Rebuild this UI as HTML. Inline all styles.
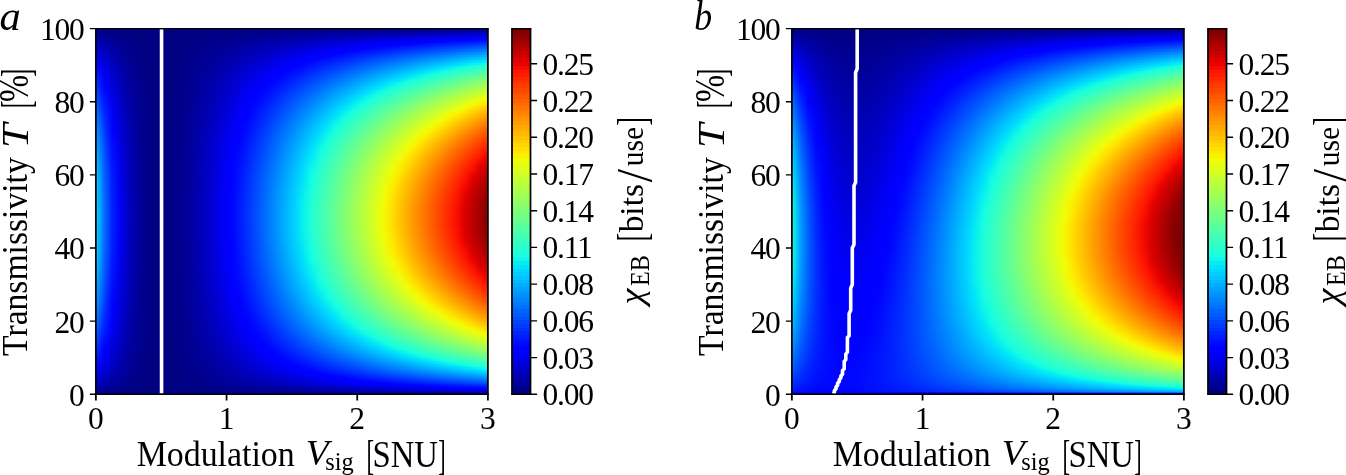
<!DOCTYPE html>
<html lang="en"><head><meta charset="utf-8"><title>Holevo information</title>
<style>
html,body{margin:0;padding:0;background:#fff}
#fig{position:relative;width:1346px;height:475px;overflow:hidden;background:#fff;font-family:"Liberation Serif",serif;color:#000}
.heat{position:absolute;top:29px;width:392px;height:365px;font-size:0;line-height:0}
.heat i{display:block;width:392px}
.ov{position:absolute;left:0;top:0}
.cb{position:absolute}
.t{position:absolute;white-space:nowrap;line-height:1}
.yl{width:63.6px;text-align:right;font-size:31.5px;letter-spacing:-1.2px;margin-top:-14.6px}
.xl{width:40px;margin-left:-20px;text-align:center;font-size:31.5px;top:403px}
.cl{font-size:31.5px;letter-spacing:-1.2px;margin-top:-15px}
.p{display:inline-block;width:0;height:0;overflow:visible;vertical-align:top;white-space:nowrap;line-height:1;transform-origin:0 0}
.p.it{font-style:italic}
.g{position:absolute;left:0;top:0;font-size:0;line-height:0;white-space:nowrap}

</style></head>
<body>
<div id="fig">
<div class="heat" style="left:96px"><i style="height:1px;background:linear-gradient(90deg,#000082,#000081,#000081,#000080,#000080,#000080,#000080,#000080,#000080,#000080,#000080,#000080,#000080,#000080,#000080,#000080,#000080,#000080,#000080,#000081,#000081,#000081,#000081,#000081,#000081,#000082,#000082,#000082,#000082,#000082,#000083,#000083,#000083,#000083,#000084,#000084,#000084,#000084,#000084,#000085,#000085,#000085,#000085,#000086,#000086,#000086,#000086,#000086,#000087,#000087)"></i><i style="height:1px;background:linear-gradient(90deg,#000086,#000084,#000083,#000081,#000081,#000080,#000080,#000080,#000080,#000080,#000080,#000080,#000080,#000080,#000081,#000081,#000081,#000082,#000082,#000083,#000083,#000084,#000084,#000085,#000085,#000086,#000087,#000087,#000088,#000088,#000089,#00008a,#00008a,#00008b,#00008c,#00008c,#00008d,#00008e,#00008e,#00008f,#000090,#000090,#000091,#000092,#000092,#000093,#000094,#000094,#000095,#000096)"></i><i style="height:1px;background:linear-gradient(90deg,#00008b,#000087,#000085,#000083,#000081,#000081,#000080,#000080,#000080,#000080,#000080,#000080,#000080,#000081,#000081,#000082,#000083,#000083,#000084,#000085,#000086,#000087,#000088,#000089,#000089,#00008a,#00008b,#00008c,#00008d,#00008e,#00008f,#000090,#000091,#000093,#000094,#000095,#000096,#000097,#000098,#000099,#00009a,#00009b,#00009c,#00009d,#00009f,#0000a0,#0000a1,#0000a2,#0000a3,#0000a4)"></i><i style="height:1px;background:linear-gradient(90deg,#00008f,#00008a,#000086,#000084,#000082,#000081,#000080,#000080,#000080,#000080,#000080,#000080,#000081,#000081,#000082,#000083,#000084,#000085,#000086,#000087,#000088,#00008a,#00008b,#00008c,#00008d,#00008f,#000090,#000091,#000093,#000094,#000096,#000097,#000099,#00009a,#00009c,#00009d,#00009f,#0000a0,#0000a2,#0000a3,#0000a5,#0000a6,#0000a8,#0000a9,#0000ab,#0000ac,#0000ae,#0000b0,#0000b1,#0000b3)"></i><i style="height:1px;background:linear-gradient(90deg,#000093,#00008d,#000088,#000085,#000083,#000081,#000080,#000080,#000080,#000080,#000080,#000080,#000081,#000082,#000083,#000084,#000085,#000087,#000088,#000089,#00008b,#00008c,#00008e,#000090,#000091,#000093,#000095,#000096,#000098,#00009a,#00009c,#00009e,#0000a0,#0000a1,#0000a3,#0000a5,#0000a7,#0000a9,#0000ab,#0000ad,#0000af,#0000b1,#0000b3,#0000b5,#0000b7,#0000b9,#0000bb,#0000bd,#0000bf,#0000c1)"></i><i style="height:1px;background:linear-gradient(90deg,#000098,#000090,#00008a,#000086,#000084,#000082,#000080,#000080,#000080,#000080,#000080,#000081,#000082,#000083,#000084,#000085,#000087,#000088,#00008a,#00008c,#00008d,#00008f,#000091,#000093,#000095,#000097,#000099,#00009c,#00009e,#0000a0,#0000a2,#0000a4,#0000a7,#0000a9,#0000ab,#0000ae,#0000b0,#0000b2,#0000b5,#0000b7,#0000b9,#0000bc,#0000be,#0000c1,#0000c3,#0000c5,#0000c8,#0000ca,#0000cd,#0000cf)"></i><i style="height:1px;background:linear-gradient(90deg,#00009c,#000093,#00008c,#000088,#000084,#000082,#000081,#000080,#000080,#000080,#000080,#000081,#000082,#000083,#000085,#000086,#000088,#00008a,#00008c,#00008e,#000090,#000092,#000094,#000097,#000099,#00009b,#00009e,#0000a0,#0000a3,#0000a6,#0000a8,#0000ab,#0000ae,#0000b0,#0000b3,#0000b6,#0000b8,#0000bb,#0000be,#0000c1,#0000c4,#0000c6,#0000c9,#0000cc,#0000cf,#0000d2,#0000d5,#0000d7,#0000da,#0000dd)"></i><i style="height:1px;background:linear-gradient(90deg,#0000a0,#000096,#00008e,#000089,#000085,#000082,#000081,#000080,#000080,#000080,#000080,#000081,#000082,#000084,#000085,#000087,#000089,#00008b,#00008e,#000090,#000092,#000095,#000097,#00009a,#00009d,#0000a0,#0000a3,#0000a5,#0000a8,#0000ab,#0000ae,#0000b1,#0000b4,#0000b8,#0000bb,#0000be,#0000c1,#0000c4,#0000c7,#0000ca,#0000ce,#0000d1,#0000d4,#0000d7,#0000db,#0000de,#0000e1,#0000e5,#0000e8,#0000eb)"></i><i style="height:1px;background:linear-gradient(90deg,#0000a5,#000099,#000090,#00008a,#000086,#000083,#000081,#000080,#000080,#000080,#000080,#000081,#000083,#000084,#000086,#000088,#00008a,#00008d,#00008f,#000092,#000095,#000098,#00009b,#00009e,#0000a1,#0000a4,#0000a7,#0000aa,#0000ae,#0000b1,#0000b4,#0000b8,#0000bb,#0000bf,#0000c2,#0000c6,#0000c9,#0000cd,#0000d1,#0000d4,#0000d8,#0000db,#0000df,#0000e3,#0000e6,#0000ea,#0000ee,#0000f1,#0000f5,#0000f9)"></i><i style="height:1px;background:linear-gradient(90deg,#0000a9,#00009c,#000092,#00008b,#000087,#000083,#000081,#000080,#000080,#000080,#000080,#000082,#000083,#000085,#000087,#000089,#00008c,#00008e,#000091,#000094,#000097,#00009a,#00009e,#0000a1,#0000a4,#0000a8,#0000ac,#0000af,#0000b3,#0000b7,#0000ba,#0000be,#0000c2,#0000c6,#0000ca,#0000ce,#0000d2,#0000d6,#0000da,#0000de,#0000e2,#0000e6,#0000ea,#0000ee,#0000f2,#0000f6,#0000fa,#0000fe,#0000ff,#0000ff)"></i><i style="height:1px;background:linear-gradient(90deg,#0000ad,#00009e,#000094,#00008d,#000087,#000084,#000081,#000080,#000080,#000080,#000080,#000082,#000083,#000085,#000088,#00008a,#00008d,#000090,#000093,#000096,#00009a,#00009d,#0000a1,#0000a4,#0000a8,#0000ac,#0000b0,#0000b4,#0000b8,#0000bc,#0000c0,#0000c5,#0000c9,#0000cd,#0000d1,#0000d6,#0000da,#0000de,#0000e3,#0000e7,#0000ec,#0000f0,#0000f4,#0000f9,#0000fd,#0000ff,#0000ff,#0000ff,#0000ff,#0003ff)"></i><i style="height:1px;background:linear-gradient(90deg,#0000b1,#0000a1,#000096,#00008e,#000088,#000084,#000081,#000080,#000080,#000080,#000081,#000082,#000084,#000086,#000088,#00008b,#00008e,#000091,#000095,#000098,#00009c,#0000a0,#0000a4,#0000a8,#0000ac,#0000b0,#0000b4,#0000b9,#0000bd,#0000c2,#0000c6,#0000cb,#0000cf,#0000d4,#0000d9,#0000dd,#0000e2,#0000e7,#0000ec,#0000f1,#0000f5,#0000fa,#0000ff,#0000ff,#0000ff,#0000ff,#0002ff,#0006ff,#000bff,#000fff)"></i><i style="height:2px;background:linear-gradient(90deg,#0000b7,#0000a6,#000099,#000090,#000089,#000085,#000082,#000080,#000080,#000080,#000081,#000082,#000084,#000087,#00008a,#00008d,#000090,#000094,#000097,#00009b,#0000a0,#0000a4,#0000a8,#0000ad,#0000b2,#0000b6,#0000bb,#0000c0,#0000c5,#0000ca,#0000cf,#0000d4,#0000d9,#0000df,#0000e4,#0000e9,#0000ee,#0000f4,#0000f9,#0000fe,#0000ff,#0000ff,#0000ff,#0003ff,#0008ff,#000dff,#0012ff,#0017ff,#001bff,#0020ff)"></i><i style="height:2px;background:linear-gradient(90deg,#0000bf,#0000ab,#00009c,#000092,#00008a,#000085,#000082,#000080,#000080,#000080,#000081,#000083,#000085,#000088,#00008b,#00008f,#000092,#000097,#00009b,#0000a0,#0000a4,#0000a9,#0000ae,#0000b4,#0000b9,#0000be,#0000c4,#0000c9,#0000cf,#0000d5,#0000db,#0000e0,#0000e6,#0000ec,#0000f2,#0000f8,#0000fe,#0000ff,#0000ff,#0000ff,#0006ff,#000bff,#0011ff,#0016ff,#001cff,#0021ff,#0027ff,#002cff,#0032ff,#0037ff)"></i><i style="height:2px;background:linear-gradient(90deg,#0000c7,#0000b1,#0000a0,#000094,#00008c,#000086,#000082,#000080,#000080,#000080,#000081,#000083,#000086,#000089,#00008c,#000090,#000095,#000099,#00009e,#0000a4,#0000a9,#0000af,#0000b4,#0000ba,#0000c0,#0000c6,#0000cc,#0000d3,#0000d9,#0000df,#0000e6,#0000ed,#0000f3,#0000fa,#0000ff,#0000ff,#0000ff,#0004ff,#000aff,#0010ff,#0016ff,#001cff,#0022ff,#0029ff,#002fff,#0035ff,#003bff,#0041ff,#0047ff,#004dff)"></i><i style="height:2px;background:linear-gradient(90deg,#0000cf,#0000b6,#0000a4,#000097,#00008d,#000087,#000083,#000080,#000080,#000080,#000081,#000083,#000086,#00008a,#00008e,#000092,#000097,#00009c,#0000a2,#0000a8,#0000ae,#0000b4,#0000ba,#0000c1,#0000c7,#0000ce,#0000d5,#0000dc,#0000e3,#0000ea,#0000f1,#0000f8,#0000ff,#0000ff,#0000ff,#0005ff,#000cff,#0012ff,#0019ff,#0020ff,#0026ff,#002dff,#0034ff,#003bff,#0041ff,#0048ff,#004fff,#0056ff,#005dff,#0063ff)"></i><i style="height:2px;background:linear-gradient(90deg,#0000d7,#0000bb,#0000a7,#000099,#00008f,#000088,#000083,#000080,#000080,#000080,#000081,#000084,#000087,#00008b,#00008f,#000094,#00009a,#00009f,#0000a5,#0000ac,#0000b2,#0000b9,#0000c0,#0000c7,#0000ce,#0000d6,#0000dd,#0000e5,#0000ed,#0000f4,#0000fc,#0000ff,#0000ff,#0003ff,#000bff,#0012ff,#0019ff,#0020ff,#0028ff,#002fff,#0036ff,#003eff,#0045ff,#004cff,#0054ff,#005bff,#0063ff,#006aff,#0071ff,#0079ff)"></i><i style="height:2px;background:linear-gradient(90deg,#0000df,#0000c1,#0000ab,#00009b,#000090,#000088,#000083,#000081,#000080,#000080,#000082,#000084,#000088,#00008c,#000091,#000096,#00009c,#0000a2,#0000a9,#0000af,#0000b7,#0000be,#0000c5,#0000cd,#0000d5,#0000dd,#0000e5,#0000ee,#0000f6,#0000ff,#0000ff,#0000ff,#0007ff,#000fff,#0017ff,#001eff,#0026ff,#002eff,#0036ff,#003eff,#0046ff,#004eff,#0056ff,#005eff,#0066ff,#006eff,#0076ff,#007eff,#0086ff,#008eff)"></i><i style="height:2px;background:linear-gradient(90deg,#0000e6,#0000c6,#0000ae,#00009d,#000091,#000089,#000084,#000081,#000080,#000080,#000082,#000085,#000088,#00008d,#000092,#000098,#00009e,#0000a5,#0000ac,#0000b3,#0000bb,#0000c3,#0000cb,#0000d3,#0000dc,#0000e5,#0000ed,#0000f6,#0000ff,#0000ff,#0001ff,#0009ff,#0012ff,#001aff,#0022ff,#002bff,#0033ff,#003cff,#0044ff,#004dff,#0055ff,#005eff,#0066ff,#006fff,#0078ff,#0080ff,#0089ff,#0091ff,#009aff,#00a3ff)"></i><i style="height:2px;background:linear-gradient(90deg,#0000ee,#0000cb,#0000b2,#00009f,#000093,#00008a,#000084,#000081,#000080,#000080,#000082,#000085,#000089,#00008e,#000093,#00009a,#0000a0,#0000a8,#0000af,#0000b7,#0000bf,#0000c8,#0000d1,#0000da,#0000e3,#0000ec,#0000f5,#0000ff,#0000ff,#0002ff,#000bff,#0013ff,#001cff,#0025ff,#002eff,#0037ff,#0040ff,#0049ff,#0052ff,#005bff,#0064ff,#006dff,#0077ff,#0080ff,#0089ff,#0092ff,#009bff,#00a4ff,#00aeff,#00b7ff)"></i><i style="height:2px;background:linear-gradient(90deg,#0000f5,#0000d0,#0000b5,#0000a2,#000094,#00008a,#000084,#000081,#000080,#000080,#000082,#000085,#00008a,#00008f,#000095,#00009b,#0000a3,#0000aa,#0000b2,#0000bb,#0000c4,#0000cd,#0000d6,#0000e0,#0000e9,#0000f3,#0000fd,#0000ff,#0001ff,#000aff,#0014ff,#001dff,#0026ff,#0030ff,#0039ff,#0043ff,#004dff,#0056ff,#0060ff,#0069ff,#0073ff,#007dff,#0087ff,#0090ff,#009aff,#00a4ff,#00adff,#00b7ff,#00c1ff,#00cbff)"></i><i style="height:2px;background:linear-gradient(90deg,#0000fd,#0000d5,#0000b8,#0000a4,#000095,#00008b,#000084,#000081,#000080,#000080,#000082,#000086,#00008a,#000090,#000096,#00009d,#0000a5,#0000ad,#0000b6,#0000be,#0000c8,#0000d1,#0000db,#0000e5,#0000f0,#0000fa,#0000ff,#0000ff,#0009ff,#0013ff,#001dff,#0027ff,#0031ff,#003bff,#0045ff,#004fff,#0059ff,#0063ff,#006dff,#0077ff,#0082ff,#008cff,#0096ff,#00a0ff,#00abff,#00b5ff,#00bfff,#00caff,#00d4ff,#00defd)"></i><i style="height:2px;background:linear-gradient(90deg,#0000ff,#0000da,#0000bc,#0000a6,#000096,#00008c,#000085,#000081,#000080,#000080,#000082,#000086,#00008b,#000091,#000097,#00009f,#0000a7,#0000b0,#0000b9,#0000c2,#0000cc,#0000d6,#0000e1,#0000eb,#0000f6,#0000ff,#0000ff,#0007ff,#0011ff,#001bff,#0026ff,#0030ff,#003aff,#0045ff,#0050ff,#005aff,#0065ff,#0070ff,#007aff,#0085ff,#0090ff,#009bff,#00a6ff,#00b0ff,#00bbff,#00c6ff,#00d1ff,#00dcff,#01e6f6,#09f1ed)"></i><i style="height:2px;background:linear-gradient(90deg,#0000ff,#0000df,#0000bf,#0000a8,#000098,#00008c,#000085,#000081,#000080,#000080,#000083,#000086,#00008c,#000092,#000099,#0000a1,#0000a9,#0000b2,#0000bc,#0000c6,#0000d0,#0000db,#0000e6,#0000f1,#0000fd,#0000ff,#0003ff,#000eff,#0019ff,#0023ff,#002eff,#0039ff,#0044ff,#004fff,#005aff,#0066ff,#0071ff,#007cff,#0087ff,#0093ff,#009eff,#00a9ff,#00b5ff,#00c0ff,#00cbff,#00d7ff,#00e2fa,#06edf1,#0ff8e7,#18ffde)"></i><i style="height:2px;background:linear-gradient(90deg,#0001ff,#0000e4,#0000c2,#0000aa,#000099,#00008d,#000085,#000081,#000080,#000080,#000083,#000087,#00008c,#000093,#00009a,#0000a2,#0000ab,#0000b5,#0000bf,#0000c9,#0000d4,#0000df,#0000eb,#0000f7,#0000ff,#0000ff,#000aff,#0015ff,#0020ff,#002bff,#0037ff,#0042ff,#004eff,#0059ff,#0065ff,#0071ff,#007dff,#0088ff,#0094ff,#00a0ff,#00acff,#00b8ff,#00c3ff,#00cfff,#00dbff,#01e7f6,#0bf3ec,#14fee3,#1effd9,#27ffd0)"></i><i style="height:2px;background:linear-gradient(90deg,#0007ff,#0000e8,#0000c5,#0000ac,#00009a,#00008e,#000086,#000081,#000080,#000080,#000083,#000087,#00008d,#000094,#00009b,#0000a4,#0000ad,#0000b7,#0000c2,#0000cd,#0000d8,#0000e4,#0000f0,#0000fc,#0000ff,#0005ff,#0010ff,#001cff,#0027ff,#0033ff,#003fff,#004bff,#0057ff,#0063ff,#0070ff,#007cff,#0088ff,#0094ff,#00a1ff,#00adff,#00b9ff,#00c6ff,#00d2ff,#00defd,#04ebf3,#0ef7e9,#18ffdf,#22ffd5,#2cffcb,#36ffc1)"></i><i style="height:2px;background:linear-gradient(90deg,#000dff,#0000ed,#0000c8,#0000ae,#00009b,#00008e,#000086,#000081,#000080,#000080,#000083,#000087,#00008d,#000094,#00009d,#0000a6,#0000af,#0000ba,#0000c5,#0000d0,#0000dc,#0000e8,#0000f5,#0000ff,#0000ff,#000bff,#0016ff,#0023ff,#002fff,#003bff,#0047ff,#0054ff,#0061ff,#006dff,#007aff,#0087ff,#0093ff,#00a0ff,#00adff,#00baff,#00c6ff,#00d3ff,#00e0fb,#06edf1,#10fae6,#1bffdc,#25ffd2,#2fffc7,#3affbd,#44ffb3)"></i><i style="height:2px;background:linear-gradient(90deg,#0013ff,#0000f1,#0000cb,#0000b0,#00009c,#00008f,#000086,#000081,#000080,#000080,#000083,#000088,#00008e,#000095,#00009e,#0000a7,#0000b1,#0000bc,#0000c8,#0000d4,#0000e0,#0000ed,#0000fa,#0000ff,#0004ff,#0010ff,#001dff,#0029ff,#0036ff,#0043ff,#0050ff,#005dff,#006aff,#0077ff,#0084ff,#0091ff,#009eff,#00acff,#00b9ff,#00c6ff,#00d4ff,#00e1fb,#07eef0,#12fbe5,#1cffda,#27ffd0,#32ffc5,#3cffba,#47ffb0,#52ffa5)"></i><i style="height:2px;background:linear-gradient(90deg,#0019ff,#0000f6,#0000ce,#0000b2,#00009e,#000090,#000086,#000081,#000080,#000080,#000083,#000088,#00008f,#000096,#00009f,#0000a9,#0000b3,#0000bf,#0000ca,#0000d7,#0000e4,#0000f1,#0000ff,#0000ff,#0009ff,#0016ff,#0023ff,#0030ff,#003dff,#004aff,#0058ff,#0065ff,#0073ff,#0080ff,#008eff,#009cff,#00a9ff,#00b7ff,#00c5ff,#00d3ff,#00e0fb,#07eef0,#12fce5,#1dffda,#28ffcf,#33ffc4,#3effb8,#49ffad,#54ffa2,#5fff97)"></i><i style="height:2px;background:linear-gradient(90deg,#001eff,#0000fa,#0000d1,#0000b4,#00009f,#000090,#000087,#000081,#000080,#000080,#000083,#000089,#00008f,#000097,#0000a0,#0000aa,#0000b5,#0000c1,#0000cd,#0000da,#0000e8,#0000f5,#0000ff,#0001ff,#000eff,#001bff,#0029ff,#0036ff,#0044ff,#0052ff,#0060ff,#006dff,#007bff,#008aff,#0098ff,#00a6ff,#00b4ff,#00c2ff,#00d0ff,#00dffc,#06edf1,#11fbe5,#1dffda,#28ffce,#34ffc3,#3fffb8,#4bffac,#56ffa1,#61ff95,#6dff8a)"></i><i style="height:2px;background:linear-gradient(90deg,#0024ff,#0000ff,#0000d4,#0000b6,#0000a0,#000091,#000087,#000082,#000080,#000080,#000084,#000089,#000090,#000098,#0000a1,#0000ac,#0000b7,#0000c3,#0000d0,#0000dd,#0000eb,#0000fa,#0000ff,#0006ff,#0013ff,#0021ff,#002fff,#003dff,#004bff,#0059ff,#0067ff,#0076ff,#0084ff,#0093ff,#00a1ff,#00b0ff,#00beff,#00cdff,#00dcff,#04ebf3,#10f9e7,#1cffdb,#28ffcf,#33ffc3,#3fffb8,#4bffac,#57ffa0,#62ff94,#6eff89,#7aff7d)"></i><i style="height:2px;background:linear-gradient(90deg,#0029ff,#0000ff,#0000d7,#0000b8,#0000a1,#000091,#000087,#000082,#000080,#000080,#000084,#000089,#000090,#000099,#0000a3,#0000ad,#0000b9,#0000c6,#0000d3,#0000e1,#0000ef,#0000fe,#0000ff,#000aff,#0018ff,#0026ff,#0034ff,#0043ff,#0051ff,#0060ff,#006fff,#007eff,#008dff,#009cff,#00abff,#00baff,#00c9ff,#00d8ff,#01e7f6,#0df6e9,#1affdd,#26ffd1,#32ffc5,#3effb9,#4affac,#56ffa0,#63ff94,#6fff88,#7bff7c,#87ff70)"></i><i style="height:2px;background:linear-gradient(90deg,#002fff,#0000ff,#0000da,#0000b9,#0000a2,#000092,#000087,#000082,#000080,#000080,#000084,#000089,#000091,#00009a,#0000a4,#0000af,#0000bb,#0000c8,#0000d6,#0000e4,#0000f2,#0000ff,#0001ff,#000fff,#001dff,#002cff,#003aff,#0049ff,#0058ff,#0067ff,#0076ff,#0086ff,#0095ff,#00a4ff,#00b4ff,#00c3ff,#00d3ff,#00e3f9,#0af2ed,#17ffe0,#23ffd4,#30ffc7,#3cffbb,#49ffae,#55ffa2,#62ff95,#6eff89,#7bff7c,#87ff70,#93ff64)"></i><i style="height:2px;background:linear-gradient(90deg,#0034ff,#0000ff,#0000dd,#0000bb,#0000a3,#000092,#000088,#000082,#000080,#000080,#000084,#00008a,#000091,#00009a,#0000a5,#0000b0,#0000bd,#0000ca,#0000d8,#0000e7,#0000f6,#0000ff,#0005ff,#0013ff,#0022ff,#0031ff,#0040ff,#004fff,#005fff,#006eff,#007eff,#008dff,#009dff,#00adff,#00bdff,#00cdff,#00ddfe,#06edf1,#13fde4,#20ffd7,#2dffca,#39ffbd,#46ffb0,#53ffa4,#60ff97,#6dff8a,#79ff7d,#86ff71,#93ff64,#a0ff57)"></i><i style="height:2px;background:linear-gradient(90deg,#0039ff,#0000ff,#0000e0,#0000bd,#0000a4,#000093,#000088,#000082,#000080,#000081,#000084,#00008a,#000092,#00009b,#0000a6,#0000b2,#0000bf,#0000cc,#0000db,#0000ea,#0000fa,#0000ff,#0009ff,#0017ff,#0026ff,#0036ff,#0045ff,#0055ff,#0065ff,#0075ff,#0085ff,#0095ff,#00a5ff,#00b6ff,#00c6ff,#00d6ff,#01e7f6,#0ef7e9,#1bffdb,#29ffce,#36ffc1,#43ffb4,#50ffa7,#5dff99,#6aff8c,#78ff7f,#85ff72,#92ff65,#9fff58,#acff4b)"></i><i style="height:2px;background:linear-gradient(90deg,#003eff,#0003ff,#0000e2,#0000bf,#0000a5,#000094,#000088,#000082,#000080,#000081,#000084,#00008a,#000092,#00009c,#0000a7,#0000b3,#0000c0,#0000cf,#0000dd,#0000ed,#0000fd,#0000ff,#000cff,#001cff,#002bff,#003bff,#004bff,#005bff,#006bff,#007cff,#008cff,#009dff,#00adff,#00beff,#00cfff,#00dffc,#09f0ee,#16ffe1,#24ffd3,#31ffc5,#3fffb8,#4cffaa,#5aff9d,#67ff8f,#75ff82,#82ff75,#90ff67,#9dff5a,#aaff4d,#b7ff3f)"></i><i style="height:2px;background:linear-gradient(90deg,#0043ff,#0006ff,#0000e5,#0000c0,#0000a6,#000094,#000088,#000082,#000080,#000081,#000084,#00008b,#000093,#00009d,#0000a8,#0000b5,#0000c2,#0000d1,#0000e0,#0000f0,#0000ff,#0001ff,#0010ff,#0020ff,#0030ff,#0040ff,#0050ff,#0061ff,#0071ff,#0082ff,#0093ff,#00a4ff,#00b5ff,#00c6ff,#00d7ff,#02e8f4,#10fae7,#1effd9,#2cffcb,#3affbd,#48ffaf,#55ffa1,#63ff93,#71ff86,#7fff78,#8dff6a,#9aff5d,#a8ff4f,#b5ff41,#c3ff34)"></i><i style="height:2px;background:linear-gradient(90deg,#0048ff,#000aff,#0000e8,#0000c2,#0000a7,#000095,#000089,#000082,#000080,#000081,#000085,#00008b,#000093,#00009e,#0000a9,#0000b6,#0000c4,#0000d3,#0000e2,#0000f3,#0000ff,#0004ff,#0014ff,#0024ff,#0034ff,#0045ff,#0055ff,#0066ff,#0077ff,#0089ff,#009aff,#00abff,#00bdff,#00ceff,#00e0fb,#0af1ed,#18ffdf,#26ffd1,#34ffc3,#42ffb5,#50ffa6,#5eff98,#6dff8a,#7bff7c,#89ff6e,#97ff60,#a5ff52,#b3ff44,#c0ff36,#ceff28)"></i><i style="height:2px;background:linear-gradient(90deg,#004dff,#000dff,#0000ea,#0000c4,#0000a8,#000095,#000089,#000082,#000080,#000081,#000085,#00008b,#000094,#00009e,#0000aa,#0000b7,#0000c6,#0000d5,#0000e5,#0000f6,#0000ff,#0007ff,#0017ff,#0028ff,#0038ff,#0049ff,#005bff,#006cff,#007dff,#008fff,#00a1ff,#00b2ff,#00c4ff,#00d6ff,#02e8f5,#10fae6,#1fffd8,#2dffc9,#3cffbb,#4affac,#59ff9e,#67ff8f,#76ff81,#84ff73,#92ff64,#a1ff56,#afff48,#bdff3a,#cbff2b,#d9ff1d)"></i><i style="height:2px;background:linear-gradient(90deg,#0052ff,#0010ff,#0000ed,#0000c5,#0000a9,#000096,#000089,#000082,#000080,#000081,#000085,#00008c,#000094,#00009f,#0000ab,#0000b9,#0000c7,#0000d7,#0000e7,#0000f8,#0000ff,#000aff,#001bff,#002cff,#003dff,#004eff,#0060ff,#0071ff,#0083ff,#0095ff,#00a7ff,#00b9ff,#00ccff,#00defd,#09f0ee,#17ffdf,#26ffd1,#35ffc2,#44ffb3,#52ffa4,#61ff96,#70ff87,#7fff78,#8dff6a,#9cff5b,#aaff4c,#b9ff3e,#c7ff2f,#d6ff21,#e4ff12)"></i><i style="height:2px;background:linear-gradient(90deg,#0056ff,#0014ff,#0000ef,#0000c7,#0000aa,#000096,#000089,#000082,#000080,#000081,#000085,#00008c,#000095,#0000a0,#0000ac,#0000ba,#0000c9,#0000d9,#0000ea,#0000fb,#0000ff,#000eff,#001eff,#0030ff,#0041ff,#0053ff,#0065ff,#0077ff,#0089ff,#009bff,#00aeff,#00c0ff,#00d3ff,#00e5f7,#0ff8e8,#1effd9,#2dffca,#3cffbb,#4bffab,#5aff9c,#69ff8d,#78ff7e,#87ff6f,#96ff60,#a5ff52,#b4ff43,#c3ff34,#d2ff25,#e0ff16,#efff08)"></i><i style="height:2px;background:linear-gradient(90deg,#005bff,#0017ff,#0000f2,#0000c9,#0000ab,#000097,#00008a,#000082,#000080,#000081,#000085,#00008c,#000095,#0000a1,#0000ad,#0000bb,#0000cb,#0000db,#0000ec,#0000fe,#0000ff,#0011ff,#0022ff,#0033ff,#0045ff,#0057ff,#0069ff,#007cff,#008eff,#00a1ff,#00b4ff,#00c7ff,#00daff,#06edf1,#15ffe1,#25ffd2,#34ffc3,#43ffb3,#53ffa4,#62ff95,#71ff85,#81ff76,#90ff67,#9fff58,#aeff48,#bdff39,#ccff2a,#dbff1b,#eaff0c,#f9f300)"></i><i style="height:2px;background:linear-gradient(90deg,#005fff,#001aff,#0000f4,#0000ca,#0000ac,#000097,#00008a,#000082,#000080,#000081,#000085,#00008c,#000096,#0000a1,#0000ae,#0000bd,#0000cc,#0000dd,#0000ee,#0000ff,#0003ff,#0014ff,#0025ff,#0037ff,#0049ff,#005cff,#006eff,#0081ff,#0094ff,#00a7ff,#00baff,#00ceff,#00e1fb,#0cf4eb,#1bffdb,#2bffcc,#3bffbc,#4affac,#5aff9d,#6aff8d,#79ff7e,#89ff6e,#98ff5e,#a8ff4f,#b7ff40,#c7ff30,#d6ff21,#e5ff12,#f4f802,#ffe700)"></i><i style="height:2px;background:linear-gradient(90deg,#0064ff,#001dff,#0000f7,#0000cc,#0000ad,#000098,#00008a,#000082,#000080,#000081,#000085,#00008d,#000096,#0000a2,#0000af,#0000be,#0000ce,#0000df,#0000f1,#0000ff,#0005ff,#0017ff,#0028ff,#003bff,#004dff,#0060ff,#0073ff,#0086ff,#0099ff,#00adff,#00c0ff,#00d4ff,#02e8f5,#12fbe5,#22ffd5,#31ffc5,#41ffb5,#51ffa5,#61ff96,#71ff86,#81ff76,#91ff66,#a1ff56,#b0ff47,#c0ff37,#d0ff27,#dfff18,#efff08,#feed00,#ffdb00)"></i><i style="height:2px;background:linear-gradient(90deg,#0068ff,#0020ff,#0000f9,#0000cd,#0000ae,#000098,#00008a,#000082,#000080,#000081,#000085,#00008d,#000097,#0000a3,#0000b0,#0000bf,#0000cf,#0000e1,#0000f3,#0000ff,#0008ff,#001aff,#002cff,#003eff,#0051ff,#0064ff,#0078ff,#008bff,#009fff,#00b2ff,#00c6ff,#00daff,#07eef0,#17ffdf,#27ffcf,#38ffbf,#48ffaf,#58ff9f,#68ff8f,#78ff7e,#88ff6e,#99ff5e,#a9ff4e,#b9ff3e,#c8ff2e,#d8ff1e,#e8ff0f,#f8f400,#ffe200,#ffd000)"></i><i style="height:2px;background:linear-gradient(90deg,#006cff,#0023ff,#0000fb,#0000cf,#0000af,#000099,#00008a,#000082,#000080,#000081,#000086,#00008d,#000097,#0000a3,#0000b1,#0000c0,#0000d1,#0000e2,#0000f5,#0000ff,#000aff,#001cff,#002fff,#0042ff,#0055ff,#0068ff,#007cff,#0090ff,#00a4ff,#00b8ff,#00ccff,#00e1fb,#0cf5ea,#1dffda,#2dffc9,#3effb9,#4effa9,#5fff98,#6fff88,#7fff77,#90ff67,#a0ff57,#b0ff46,#c1ff36,#d1ff26,#e1ff16,#f1fc06,#ffea00,#ffd800,#ffc500)"></i><i style="height:2px;background:linear-gradient(90deg,#0071ff,#0026ff,#0000fd,#0000d0,#0000b0,#000099,#00008b,#000083,#000080,#000081,#000086,#00008d,#000098,#0000a4,#0000b2,#0000c1,#0000d2,#0000e4,#0000f7,#0000ff,#000dff,#001fff,#0032ff,#0045ff,#0059ff,#006cff,#0080ff,#0095ff,#00a9ff,#00bdff,#00d2ff,#01e7f6,#12fbe5,#22ffd5,#33ffc4,#44ffb3,#54ffa2,#65ff92,#76ff81,#86ff70,#97ff60,#a8ff4f,#b8ff3f,#c9ff2e,#d9ff1e,#e9ff0d,#faf200,#ffe000,#ffcd00,#ffbb00)"></i><i style="height:2px;background:linear-gradient(90deg,#0075ff,#0029ff,#0000ff,#0000d1,#0000b0,#00009a,#00008b,#000083,#000080,#000081,#000086,#00008e,#000098,#0000a5,#0000b3,#0000c3,#0000d4,#0000e6,#0000f9,#0000ff,#000fff,#0022ff,#0035ff,#0049ff,#005cff,#0070ff,#0085ff,#0099ff,#00aeff,#00c3ff,#00d8ff,#06edf1,#17ffe0,#28ffcf,#39ffbe,#4affad,#5aff9c,#6bff8b,#7cff7a,#8dff6a,#9eff59,#afff48,#c0ff37,#d0ff26,#e1ff16,#f2fc05,#ffe900,#ffd600,#ffc300,#ffb000)"></i><i style="height:2px;background:linear-gradient(90deg,#0079ff,#002cff,#0000ff,#0000d3,#0000b1,#00009a,#00008b,#000083,#000080,#000081,#000086,#00008e,#000098,#0000a5,#0000b4,#0000c4,#0000d5,#0000e8,#0000fb,#0000ff,#0012ff,#0025ff,#0038ff,#004cff,#0060ff,#0074ff,#0089ff,#009eff,#00b3ff,#00c8ff,#00ddfe,#0af2ec,#1cffdb,#2dffca,#3effb9,#4fffa8,#60ff96,#72ff85,#83ff74,#94ff63,#a5ff52,#b6ff41,#c7ff30,#d8ff1f,#e9ff0e,#faf200,#ffdf00,#ffcc00,#ffb900,#ffa600)"></i><i style="height:2px;background:linear-gradient(90deg,#007dff,#002eff,#0000ff,#0000d4,#0000b2,#00009a,#00008b,#000083,#000080,#000081,#000086,#00008e,#000099,#0000a6,#0000b5,#0000c5,#0000d7,#0000e9,#0000fd,#0001ff,#0014ff,#0027ff,#003bff,#004fff,#0064ff,#0078ff,#008dff,#00a2ff,#00b8ff,#00cdff,#00e3f9,#0ff8e8,#20ffd6,#32ffc5,#43ffb3,#55ffa2,#66ff91,#78ff7f,#89ff6e,#9aff5c,#acff4b,#bdff3a,#ceff29,#dfff17,#f0fd06,#ffe900,#ffd600,#ffc200,#ffaf00,#ff9c00)"></i><i style="height:2px;background:linear-gradient(90deg,#0080ff,#0031ff,#0000ff,#0000d6,#0000b3,#00009b,#00008b,#000083,#000080,#000081,#000086,#00008e,#000099,#0000a6,#0000b5,#0000c6,#0000d8,#0000eb,#0000ff,#0003ff,#0016ff,#002aff,#003eff,#0052ff,#0067ff,#007cff,#0091ff,#00a7ff,#00bcff,#00d2ff,#02e8f5,#13fee3,#25ffd2,#37ffc0,#49ffae,#5aff9d,#6cff8b,#7eff79,#8fff68,#a1ff56,#b2ff44,#c4ff33,#d5ff22,#e7ff10,#f8f400,#ffe000,#ffcd00,#ffb900,#ffa600,#ff9200)"></i><i style="height:2px;background:linear-gradient(90deg,#0084ff,#0034ff,#0000ff,#0000d7,#0000b4,#00009b,#00008c,#000083,#000080,#000081,#000086,#00008f,#00009a,#0000a7,#0000b6,#0000c7,#0000d9,#0000ed,#0000ff,#0005ff,#0018ff,#002cff,#0041ff,#0055ff,#006aff,#0080ff,#0095ff,#00abff,#00c1ff,#00d7ff,#06edf1,#18ffdf,#2affcd,#3cffbb,#4effa9,#60ff97,#71ff85,#83ff73,#95ff62,#a7ff50,#b9ff3e,#caff2c,#dcff1b,#eeff09,#ffec00,#ffd800,#ffc400,#ffb000,#ff9c00,#ff8900)"></i><i style="height:2px;background:linear-gradient(90deg,#0088ff,#0036ff,#0000ff,#0000d8,#0000b4,#00009c,#00008c,#000083,#000080,#000081,#000086,#00008f,#00009a,#0000a8,#0000b7,#0000c8,#0000db,#0000ee,#0000ff,#0007ff,#001bff,#002fff,#0043ff,#0058ff,#006eff,#0083ff,#0099ff,#00afff,#00c5ff,#00dcff,#0af2ed,#1cffdb,#2effc8,#41ffb6,#53ffa4,#65ff92,#77ff80,#89ff6e,#9bff5c,#adff4a,#bfff38,#d1ff26,#e3ff14,#f5f802,#ffe400,#ffcf00,#ffbb00,#ffa700,#ff9300,#ff7f00)"></i><i style="height:2px;background:linear-gradient(90deg,#008bff,#0039ff,#0000ff,#0000d9,#0000b5,#00009c,#00008c,#000083,#000080,#000081,#000086,#00008f,#00009a,#0000a8,#0000b8,#0000c9,#0000dc,#0000f0,#0000ff,#0009ff,#001dff,#0031ff,#0046ff,#005bff,#0071ff,#0087ff,#009dff,#00b3ff,#00caff,#00e0fb,#0ef7e9,#20ffd6,#33ffc4,#45ffb2,#58ff9f,#6aff8d,#7cff7b,#8fff68,#a1ff56,#b3ff44,#c5ff32,#d7ff1f,#e9ff0d,#fbf000,#ffdc00,#ffc700,#ffb300,#ff9f00,#ff8a00,#ff7600)"></i><i style="height:2px;background:linear-gradient(90deg,#008fff,#003bff,#0000ff,#0000db,#0000b6,#00009d,#00008c,#000083,#000080,#000081,#000086,#00008f,#00009b,#0000a9,#0000b9,#0000ca,#0000dd,#0000f1,#0000ff,#000bff,#001fff,#0034ff,#0049ff,#005eff,#0074ff,#008aff,#00a1ff,#00b7ff,#00ceff,#00e5f7,#12fce5,#25ffd2,#37ffc0,#4affad,#5cff9a,#6fff88,#81ff75,#94ff63,#a6ff50,#b9ff3e,#cbff2c,#deff19,#f0fe07,#ffe900,#ffd400,#ffbf00,#ffab00,#ff9600,#ff8200,#ff6e00)"></i><i style="height:2px;background:linear-gradient(90deg,#0092ff,#003eff,#0000ff,#0000dc,#0000b7,#00009d,#00008c,#000083,#000080,#000081,#000087,#00008f,#00009b,#0000a9,#0000b9,#0000cb,#0000de,#0000f3,#0000ff,#000dff,#0021ff,#0036ff,#004bff,#0061ff,#0077ff,#008eff,#00a4ff,#00bbff,#00d2ff,#03e9f4,#16ffe1,#29ffce,#3bffbb,#4effa9,#61ff96,#74ff83,#86ff70,#99ff5e,#acff4b,#bfff38,#d1ff26,#e4ff13,#f6f601,#ffe100,#ffcc00,#ffb700,#ffa300,#ff8e00,#ff7900,#ff6500)"></i><i style="height:2px;background:linear-gradient(90deg,#0096ff,#0040ff,#0001ff,#0000dd,#0000b7,#00009d,#00008c,#000083,#000080,#000081,#000087,#000090,#00009c,#0000aa,#0000ba,#0000cc,#0000e0,#0000f4,#0000ff,#000eff,#0023ff,#0038ff,#004eff,#0064ff,#007aff,#0091ff,#00a8ff,#00bfff,#00d6ff,#07eef0,#1affdd,#2cffca,#3fffb7,#52ffa4,#65ff91,#78ff7e,#8bff6b,#9eff58,#b1ff46,#c4ff33,#d7ff20,#e9ff0d,#fcef00,#ffda00,#ffc500,#ffb000,#ff9b00,#ff8600,#ff7100,#ff5d00)"></i><i style="height:2px;background:linear-gradient(90deg,#0099ff,#0042ff,#0002ff,#0000de,#0000b8,#00009e,#00008d,#000083,#000080,#000081,#000087,#000090,#00009c,#0000aa,#0000bb,#0000cd,#0000e1,#0000f6,#0000ff,#0010ff,#0025ff,#003aff,#0050ff,#0067ff,#007dff,#0094ff,#00abff,#00c3ff,#00daff,#0af2ed,#1dffda,#30ffc6,#44ffb3,#57ffa0,#6aff8d,#7dff7a,#90ff67,#a3ff53,#b6ff40,#c9ff2d,#dcff1a,#effe08,#ffe900,#ffd300,#ffbe00,#ffa800,#ff9300,#ff7e00,#ff6900,#ff5400)"></i><i style="height:2px;background:linear-gradient(90deg,#009cff,#0044ff,#0004ff,#0000df,#0000b9,#00009e,#00008d,#000083,#000080,#000081,#000087,#000090,#00009c,#0000ab,#0000bc,#0000ce,#0000e2,#0000f7,#0000ff,#0012ff,#0027ff,#003dff,#0053ff,#0069ff,#0080ff,#0097ff,#00afff,#00c6ff,#00defd,#0df6e9,#21ffd6,#34ffc3,#47ffaf,#5bff9c,#6eff89,#82ff75,#95ff62,#a8ff4f,#bbff3b,#cfff28,#e2ff15,#f5f802,#ffe200,#ffcc00,#ffb700,#ffa100,#ff8c00,#ff7700,#ff6100,#ff4c00)"></i><i style="height:2px;background:linear-gradient(90deg,#009fff,#0047ff,#0005ff,#0000e0,#0000b9,#00009e,#00008d,#000083,#000080,#000081,#000087,#000090,#00009d,#0000ab,#0000bc,#0000cf,#0000e3,#0000f8,#0000ff,#0013ff,#0029ff,#003fff,#0055ff,#006cff,#0083ff,#009aff,#00b2ff,#00caff,#00e2fa,#11fae6,#24ffd3,#38ffbf,#4bffac,#5fff98,#72ff84,#86ff71,#9aff5d,#adff4a,#c0ff36,#d4ff23,#e7ff10,#faf200,#ffdc00,#ffc600,#ffb000,#ff9a00,#ff8500,#ff6f00,#ff5a00,#ff4500)"></i><i style="height:2px;background:linear-gradient(90deg,#00a2ff,#0049ff,#0007ff,#0000e1,#0000ba,#00009f,#00008d,#000083,#000080,#000081,#000087,#000090,#00009d,#0000ac,#0000bd,#0000d0,#0000e4,#0000fa,#0000ff,#0015ff,#002bff,#0041ff,#0057ff,#006eff,#0086ff,#009dff,#00b5ff,#00cdff,#00e6f7,#14fee3,#27ffcf,#3bffbc,#4fffa8,#63ff94,#77ff80,#8aff6d,#9eff59,#b2ff45,#c5ff32,#d9ff1e,#ecff0b,#ffeb00,#ffd500,#ffbf00,#ffa900,#ff9300,#ff7e00,#ff6800,#ff5200,#ff3d00)"></i><i style="height:2px;background:linear-gradient(90deg,#00a5ff,#004bff,#0008ff,#0000e2,#0000bb,#00009f,#00008d,#000083,#000080,#000081,#000087,#000091,#00009d,#0000ac,#0000be,#0000d1,#0000e5,#0000fb,#0002ff,#0017ff,#002cff,#0043ff,#005aff,#0071ff,#0088ff,#00a0ff,#00b9ff,#00d1ff,#03e9f4,#17ffe0,#2bffcc,#3fffb8,#53ffa4,#67ff90,#7bff7c,#8eff68,#a2ff54,#b6ff41,#caff2d,#deff19,#f1fc06,#ffe500,#ffcf00,#ffb900,#ffa300,#ff8d00,#ff7700,#ff6100,#ff4b00,#ff3600)"></i><i style="height:2px;background:linear-gradient(90deg,#00a8ff,#004dff,#000aff,#0000e3,#0000bb,#00009f,#00008d,#000083,#000080,#000081,#000087,#000091,#00009e,#0000ad,#0000be,#0000d1,#0000e6,#0000fc,#0003ff,#0018ff,#002eff,#0045ff,#005cff,#0073ff,#008bff,#00a3ff,#00bcff,#00d4ff,#06edf1,#1affdd,#2effc9,#42ffb5,#56ffa1,#6aff8c,#7eff78,#92ff64,#a7ff50,#bbff3c,#ceff28,#e2ff14,#f6f601,#ffe000,#ffc900,#ffb300,#ff9c00,#ff8600,#ff7000,#ff5a00,#ff4400,#ff2f00)"></i><i style="height:2px;background:linear-gradient(90deg,#00abff,#004fff,#000bff,#0000e4,#0000bc,#0000a0,#00008e,#000083,#000080,#000081,#000087,#000091,#00009e,#0000ad,#0000bf,#0000d2,#0000e7,#0000fe,#0004ff,#001aff,#0030ff,#0047ff,#005eff,#0076ff,#008eff,#00a6ff,#00bfff,#00d7ff,#09f0ee,#1dffda,#31ffc6,#45ffb1,#5aff9d,#6eff89,#82ff75,#96ff60,#abff4c,#bfff38,#d3ff24,#e7ff10,#fbf100,#ffda00,#ffc300,#ffad00,#ff9600,#ff8000,#ff6a00,#ff5300,#ff3d00,#ff2800)"></i><i style="height:2px;background:linear-gradient(90deg,#00aeff,#0051ff,#000cff,#0000e5,#0000bc,#0000a0,#00008e,#000083,#000080,#000081,#000087,#000091,#00009e,#0000ae,#0000bf,#0000d3,#0000e8,#0000ff,#0005ff,#001bff,#0031ff,#0048ff,#0060ff,#0078ff,#0090ff,#00a9ff,#00c1ff,#00daff,#0bf4eb,#20ffd7,#34ffc3,#49ffae,#5dff9a,#71ff85,#86ff71,#9aff5d,#afff48,#c3ff34,#d7ff20,#ebff0b,#ffec00,#ffd500,#ffbe00,#ffa700,#ff9000,#ff7a00,#ff6300,#ff4d00,#ff3700,#ff2100)"></i><i style="height:2px;background:linear-gradient(90deg,#00b0ff,#0053ff,#000eff,#0000e6,#0000bd,#0000a0,#00008e,#000083,#000080,#000081,#000087,#000091,#00009e,#0000ae,#0000c0,#0000d4,#0000e9,#0000ff,#0007ff,#001cff,#0033ff,#004aff,#0062ff,#007aff,#0092ff,#00abff,#00c4ff,#00ddfd,#0ef7e9,#22ffd4,#37ffc0,#4cffab,#60ff97,#75ff82,#89ff6d,#9eff59,#b2ff44,#c7ff30,#dbff1b,#f0fe07,#ffe600,#ffcf00,#ffb800,#ffa100,#ff8b00,#ff7400,#ff5d00,#ff4700,#ff3100,#ff1a00)"></i><i style="height:2px;background:linear-gradient(90deg,#00b3ff,#0054ff,#000fff,#0000e7,#0000be,#0000a1,#00008e,#000083,#000080,#000081,#000087,#000091,#00009f,#0000ae,#0000c1,#0000d5,#0000ea,#0000ff,#0008ff,#001eff,#0035ff,#004cff,#0064ff,#007cff,#0095ff,#00aeff,#00c7ff,#00e0fb,#10fae6,#25ffd2,#3affbd,#4fffa8,#63ff93,#78ff7f,#8dff6a,#a2ff55,#b6ff41,#cbff2c,#dfff17,#f4f903,#ffe200,#ffca00,#ffb300,#ff9c00,#ff8500,#ff6e00,#ff5700,#ff4100,#ff2a00,#ff1400)"></i><i style="height:2px;background:linear-gradient(90deg,#00b5ff,#0056ff,#0010ff,#0000e8,#0000be,#0000a1,#00008e,#000083,#000080,#000081,#000088,#000092,#00009f,#0000af,#0000c1,#0000d5,#0000eb,#0000ff,#0009ff,#001fff,#0036ff,#004eff,#0066ff,#007eff,#0097ff,#00b0ff,#00caff,#00e3f9,#13fde4,#28ffcf,#3dffba,#51ffa5,#66ff90,#7bff7b,#90ff67,#a5ff52,#baff3d,#cfff28,#e3ff13,#f8f400,#ffdd00,#ffc500,#ffae00,#ff9700,#ff8000,#ff6900,#ff5200,#ff3b00,#ff2400,#f90e00)"></i><i style="height:2px;background:linear-gradient(90deg,#00b8ff,#0058ff,#0011ff,#0000e9,#0000bf,#0000a1,#00008e,#000083,#000080,#000081,#000088,#000092,#00009f,#0000af,#0000c2,#0000d6,#0000ec,#0000ff,#000aff,#0020ff,#0037ff,#004fff,#0068ff,#0080ff,#0099ff,#00b3ff,#00ccff,#00e6f6,#15ffe2,#2affcd,#3fffb8,#54ffa2,#69ff8d,#7eff78,#93ff63,#a8ff4e,#bdff39,#d2ff24,#e7ff10,#fcf000,#ffd800,#ffc000,#ffa900,#ff9200,#ff7a00,#ff6300,#ff4c00,#ff3500,#ff1f00,#f20800)"></i><i style="height:2px;background:linear-gradient(90deg,#00baff,#005aff,#0012ff,#0000ea,#0000bf,#0000a1,#00008e,#000083,#000080,#000081,#000088,#000092,#00009f,#0000b0,#0000c2,#0000d7,#0000ed,#0000ff,#000bff,#0022ff,#0039ff,#0051ff,#0069ff,#0082ff,#009bff,#00b5ff,#00cfff,#03e9f4,#18ffdf,#2dffca,#42ffb5,#57ffa0,#6cff8b,#81ff75,#97ff60,#acff4b,#c1ff36,#d6ff21,#ebff0c,#ffeb00,#ffd400,#ffbc00,#ffa400,#ff8d00,#ff7500,#ff5e00,#ff4700,#ff3000,#ff1900,#eb0200)"></i><i style="height:2px;background:linear-gradient(90deg,#00bcff,#005bff,#0013ff,#0000eb,#0000c0,#0000a2,#00008e,#000084,#000080,#000081,#000088,#000092,#0000a0,#0000b0,#0000c3,#0000d7,#0000ee,#0000ff,#000cff,#0023ff,#003aff,#0052ff,#006bff,#0084ff,#009dff,#00b7ff,#00d1ff,#05ebf2,#1affdd,#2fffc8,#44ffb2,#5aff9d,#6fff88,#84ff72,#9aff5d,#afff48,#c4ff33,#d9ff1e,#eeff08,#ffe700,#ffcf00,#ffb700,#ffa000,#ff8800,#ff7000,#ff5900,#ff4200,#ff2b00,#ff1400,#e40000)"></i><i style="height:2px;background:linear-gradient(90deg,#00bfff,#005dff,#0014ff,#0000eb,#0000c0,#0000a2,#00008e,#000084,#000080,#000081,#000088,#000092,#0000a0,#0000b0,#0000c3,#0000d8,#0000ee,#0000ff,#000dff,#0024ff,#003cff,#0054ff,#006dff,#0086ff,#009fff,#00b9ff,#00d3ff,#07eef0,#1cffdb,#31ffc5,#47ffb0,#5cff9b,#72ff85,#87ff70,#9dff5a,#b2ff45,#c7ff2f,#ddff1a,#f2fb05,#ffe300,#ffcb00,#ffb300,#ff9b00,#ff8300,#ff6c00,#ff5400,#ff3d00,#ff2500,#f90e00,#dd0000)"></i><i style="height:2px;background:linear-gradient(90deg,#00c1ff,#005eff,#0015ff,#0000ec,#0000c0,#0000a2,#00008f,#000084,#000080,#000081,#000088,#000092,#0000a0,#0000b1,#0000c4,#0000d9,#0000ef,#0000ff,#000eff,#0025ff,#003dff,#0055ff,#006eff,#0088ff,#00a1ff,#00bbff,#00d6ff,#09f0ee,#1effd9,#33ffc3,#49ffae,#5fff98,#74ff83,#8aff6d,#9fff57,#b5ff42,#caff2c,#e0ff17,#f5f802,#ffdf00,#ffc700,#ffaf00,#ff9700,#ff7f00,#ff6700,#ff4f00,#ff3800,#ff2100,#f30900,#d70000)"></i><i style="height:2px;background:linear-gradient(90deg,#00c3ff,#0060ff,#0016ff,#0000ed,#0000c1,#0000a2,#00008f,#000084,#000080,#000081,#000088,#000092,#0000a0,#0000b1,#0000c4,#0000d9,#0000f0,#0000ff,#000fff,#0026ff,#003eff,#0057ff,#0070ff,#0089ff,#00a3ff,#00bdff,#00d8ff,#0af2ec,#20ffd7,#36ffc1,#4bffab,#61ff96,#77ff80,#8cff6a,#a2ff55,#b8ff3f,#cdff29,#e3ff14,#f8f400,#ffdb00,#ffc300,#ffab00,#ff9300,#ff7b00,#ff6300,#ff4b00,#ff3300,#ff1c00,#ed0400,#d10000)"></i><i style="height:2px;background:linear-gradient(90deg,#00c5ff,#0061ff,#0017ff,#0000ee,#0000c1,#0000a3,#00008f,#000084,#000080,#000081,#000088,#000093,#0000a1,#0000b1,#0000c5,#0000da,#0000f1,#0000ff,#0010ff,#0027ff,#003fff,#0058ff,#0071ff,#008bff,#00a5ff,#00bfff,#00daff,#0cf5eb,#22ffd5,#38ffbf,#4dffa9,#63ff93,#79ff7e,#8fff68,#a5ff52,#baff3c,#d0ff27,#e6ff11,#fbf000,#ffd800,#ffbf00,#ffa700,#ff8f00,#ff7600,#ff5e00,#ff4700,#ff2f00,#ff1700,#e80000,#cb0000)"></i><i style="height:2px;background:linear-gradient(90deg,#00c7ff,#0062ff,#0018ff,#0000ee,#0000c2,#0000a3,#00008f,#000084,#000080,#000081,#000088,#000093,#0000a1,#0000b2,#0000c5,#0000da,#0000f1,#0000ff,#0011ff,#0028ff,#0040ff,#0059ff,#0073ff,#008dff,#00a7ff,#00c1ff,#00dcff,#0ef7e9,#24ffd3,#3affbd,#50ffa7,#65ff91,#7bff7b,#91ff65,#a7ff50,#bdff3a,#d3ff24,#e9ff0e,#feed00,#ffd400,#ffbc00,#ffa300,#ff8b00,#ff7200,#ff5a00,#ff4200,#ff2b00,#ff1300,#e20000,#c50000)"></i><i style="height:2px;background:linear-gradient(90deg,#00c8ff,#0064ff,#0019ff,#0000ef,#0000c2,#0000a3,#00008f,#000084,#000080,#000081,#000088,#000093,#0000a1,#0000b2,#0000c5,#0000db,#0000f2,#0000ff,#0012ff,#0029ff,#0042ff,#005bff,#0074ff,#008eff,#00a8ff,#00c3ff,#00defd,#10f9e7,#26ffd1,#3bffbb,#52ffa5,#68ff8f,#7eff79,#94ff63,#aaff4d,#c0ff37,#d6ff21,#ebff0b,#ffea00,#ffd100,#ffb800,#ffa000,#ff8700,#ff6f00,#ff5600,#ff3e00,#ff2600,#fa0f00,#dd0000,#c00000)"></i><i style="height:2px;background:linear-gradient(90deg,#00caff,#0065ff,#001aff,#0000ef,#0000c2,#0000a3,#00008f,#000084,#000080,#000081,#000088,#000093,#0000a1,#0000b2,#0000c6,#0000db,#0000f3,#0000ff,#0012ff,#002aff,#0043ff,#005cff,#0075ff,#008fff,#00aaff,#00c5ff,#00e0fb,#11fbe6,#27ffd0,#3dffb9,#53ffa3,#6aff8d,#80ff77,#96ff61,#acff4b,#c2ff35,#d8ff1f,#eeff09,#ffe700,#ffce00,#ffb500,#ff9c00,#ff8400,#ff6b00,#ff5300,#ff3b00,#ff2300,#f50b00,#d80000,#bb0000)"></i><i style="height:2px;background:linear-gradient(90deg,#00ccff,#0066ff,#001bff,#0000f0,#0000c3,#0000a3,#00008f,#000084,#000080,#000081,#000088,#000093,#0000a1,#0000b3,#0000c6,#0000dc,#0000f3,#0000ff,#0013ff,#002bff,#0044ff,#005dff,#0077ff,#0091ff,#00abff,#00c6ff,#00e1fa,#13fde4,#29ffce,#3fffb8,#55ffa2,#6cff8b,#82ff75,#98ff5f,#aeff49,#c4ff32,#daff1c,#f0fd06,#ffe400,#ffcb00,#ffb200,#ff9900,#ff8000,#ff6800,#ff4f00,#ff3700,#ff1f00,#f00700,#d30000,#b60000)"></i><i style="height:2px;background:linear-gradient(90deg,#00cdff,#0067ff,#001cff,#0000f1,#0000c3,#0000a4,#00008f,#000084,#000080,#000081,#000088,#000093,#0000a1,#0000b3,#0000c6,#0000dc,#0000f4,#0000ff,#0014ff,#002cff,#0045ff,#005eff,#0078ff,#0092ff,#00adff,#00c8ff,#00e3f9,#14ffe3,#2affcc,#41ffb6,#57ffa0,#6dff89,#84ff73,#9aff5d,#b0ff46,#c7ff30,#ddff1a,#f3fa04,#ffe100,#ffc800,#ffaf00,#ff9600,#ff7d00,#ff6400,#ff4c00,#ff3300,#ff1b00,#ec0300,#ce0000,#b10000)"></i><i style="height:2px;background:linear-gradient(90deg,#00cfff,#0068ff,#001cff,#0000f1,#0000c3,#0000a4,#00008f,#000084,#000080,#000081,#000088,#000093,#0000a2,#0000b3,#0000c7,#0000dd,#0000f4,#0000ff,#0015ff,#002dff,#0045ff,#005fff,#0079ff,#0093ff,#00aeff,#00c9ff,#00e5f7,#16ffe1,#2cffcb,#42ffb5,#59ff9e,#6fff88,#86ff71,#9cff5b,#b2ff44,#c9ff2e,#dfff18,#f5f702,#ffde00,#ffc500,#ffac00,#ff9300,#ff7a00,#ff6100,#ff4900,#ff3000,#ff1800,#e70000,#ca0000,#ad0000)"></i><i style="height:2px;background:linear-gradient(90deg,#00d0ff,#0069ff,#001dff,#0000f2,#0000c4,#0000a4,#00008f,#000084,#000080,#000081,#000088,#000093,#0000a2,#0000b3,#0000c7,#0000dd,#0000f5,#0000ff,#0015ff,#002dff,#0046ff,#0060ff,#007aff,#0095ff,#00b0ff,#00cbff,#01e6f6,#17ffe0,#2dffc9,#44ffb3,#5aff9d,#71ff86,#87ff6f,#9eff59,#b4ff43,#cbff2c,#e1ff16,#f7f500,#ffdc00,#ffc200,#ffa900,#ff9000,#ff7700,#ff5e00,#ff4500,#ff2d00,#ff1500,#e30000,#c60000,#a80000)"></i><i style="height:2px;background:linear-gradient(90deg,#00d2ff,#006aff,#001eff,#0000f2,#0000c4,#0000a4,#00008f,#000084,#000080,#000081,#000088,#000093,#0000a2,#0000b3,#0000c7,#0000de,#0000f5,#0000ff,#0016ff,#002eff,#0047ff,#0061ff,#007bff,#0096ff,#00b1ff,#00ccff,#02e8f5,#18ffdf,#2fffc8,#45ffb2,#5cff9b,#72ff84,#89ff6e,#a0ff57,#b6ff41,#cdff2a,#e3ff14,#f9f300,#ffd900,#ffc000,#ffa600,#ff8d00,#ff7400,#ff5b00,#ff4300,#ff2a00,#fd1100,#df0000,#c20000,#a40000)"></i><i style="height:2px;background:linear-gradient(90deg,#00d3ff,#006bff,#001eff,#0000f3,#0000c4,#0000a4,#000090,#000084,#000080,#000081,#000088,#000093,#0000a2,#0000b4,#0000c8,#0000de,#0000f6,#0000ff,#0016ff,#002fff,#0048ff,#0062ff,#007cff,#0097ff,#00b2ff,#00cdff,#03e9f4,#19ffdd,#30ffc7,#46ffb0,#5dff9a,#74ff83,#8bff6c,#a1ff56,#b8ff3f,#ceff28,#e5ff12,#fbf000,#ffd700,#ffbd00,#ffa400,#ff8b00,#ff7200,#ff5900,#ff4000,#ff2700,#fa0f00,#dc0000,#be0000,#a10000)"></i><i style="height:2px;background:linear-gradient(90deg,#00d4ff,#006cff,#001fff,#0000f3,#0000c5,#0000a4,#000090,#000084,#000080,#000081,#000088,#000094,#0000a2,#0000b4,#0000c8,#0000de,#0000f6,#0000ff,#0017ff,#002fff,#0049ff,#0063ff,#007dff,#0098ff,#00b3ff,#00cfff,#04eaf3,#1affdc,#31ffc6,#48ffaf,#5eff98,#75ff82,#8cff6b,#a3ff54,#b9ff3d,#d0ff27,#e7ff10,#fdee00,#ffd500,#ffbb00,#ffa200,#ff8800,#ff6f00,#ff5600,#ff3d00,#ff2400,#f60c00,#d80000,#bb0000,#9d0000)"></i><i style="height:2px;background:linear-gradient(90deg,#00d5ff,#006dff,#001fff,#0000f3,#0000c5,#0000a5,#000090,#000084,#000080,#000081,#000088,#000094,#0000a2,#0000b4,#0000c8,#0000df,#0000f7,#0000ff,#0017ff,#0030ff,#0049ff,#0063ff,#007eff,#0099ff,#00b4ff,#00d0ff,#05ecf2,#1bffdb,#32ffc5,#49ffae,#60ff97,#77ff80,#8dff69,#a4ff53,#bbff3c,#d2ff25,#e8ff0f,#ffec00,#ffd300,#ffb900,#ff9f00,#ff8600,#ff6d00,#ff5400,#ff3b00,#ff2200,#f30900,#d50000,#b70000,#9a0000)"></i><i style="height:2px;background:linear-gradient(90deg,#00d6ff,#006dff,#0020ff,#0000f4,#0000c5,#0000a5,#000090,#000084,#000080,#000081,#000088,#000094,#0000a2,#0000b4,#0000c9,#0000df,#0000f7,#0000ff,#0018ff,#0031ff,#004aff,#0064ff,#007fff,#009aff,#00b5ff,#00d1ff,#06edf1,#1cffda,#33ffc4,#4affad,#61ff96,#78ff7f,#8fff68,#a6ff51,#bcff3a,#d3ff24,#eaff0d,#ffeb00,#ffd100,#ffb700,#ff9d00,#ff8400,#ff6b00,#ff5100,#ff3800,#ff2000,#f00700,#d20000,#b40000,#960000)"></i><i style="height:2px;background:linear-gradient(90deg,#00d7ff,#006eff,#0020ff,#0000f4,#0000c5,#0000a5,#000090,#000084,#000080,#000081,#000088,#000094,#0000a3,#0000b4,#0000c9,#0000df,#0000f7,#0001ff,#0018ff,#0031ff,#004bff,#0065ff,#007fff,#009aff,#00b6ff,#00d2ff,#07eef0,#1dffd9,#34ffc3,#4bffac,#62ff95,#79ff7e,#90ff67,#a7ff50,#beff39,#d4ff22,#ebff0c,#ffe900,#ffcf00,#ffb500,#ff9c00,#ff8200,#ff6900,#ff4f00,#ff3600,#ff1d00,#ee0500,#cf0000,#b10000,#940000)"></i><i style="height:2px;background:linear-gradient(90deg,#00d8ff,#006fff,#0021ff,#0000f4,#0000c6,#0000a5,#000090,#000084,#000080,#000081,#000089,#000094,#0000a3,#0000b5,#0000c9,#0000df,#0000f8,#0001ff,#0019ff,#0032ff,#004bff,#0065ff,#0080ff,#009bff,#00b7ff,#00d3ff,#07efef,#1effd9,#35ffc2,#4cffab,#63ff94,#7aff7d,#91ff66,#a8ff4f,#bfff38,#d6ff21,#ecff0a,#ffe700,#ffcd00,#ffb400,#ff9a00,#ff8000,#ff6700,#ff4e00,#ff3400,#ff1b00,#eb0300,#cd0000,#af0000,#910000)"></i><i style="height:2px;background:linear-gradient(90deg,#00d9ff,#006fff,#0021ff,#0000f5,#0000c6,#0000a5,#000090,#000084,#000080,#000081,#000089,#000094,#0000a3,#0000b5,#0000c9,#0000e0,#0000f8,#0001ff,#0019ff,#0032ff,#004cff,#0066ff,#0081ff,#009cff,#00b8ff,#00d3ff,#08f0ef,#1fffd8,#36ffc1,#4dffaa,#64ff93,#7bff7c,#92ff65,#a9ff4e,#c0ff37,#d7ff20,#eeff09,#ffe600,#ffcc00,#ffb200,#ff9800,#ff7f00,#ff6500,#ff4c00,#ff3300,#ff1a00,#e90100,#ca0000,#ac0000,#8e0000)"></i><i style="height:2px;background:linear-gradient(90deg,#00daff,#0070ff,#0022ff,#0000f5,#0000c6,#0000a5,#000090,#000084,#000080,#000081,#000089,#000094,#0000a3,#0000b5,#0000c9,#0000e0,#0000f8,#0002ff,#001aff,#0032ff,#004cff,#0066ff,#0081ff,#009dff,#00b8ff,#00d4ff,#09f0ee,#20ffd7,#37ffc0,#4effa9,#65ff92,#7cff7b,#93ff64,#aaff4d,#c1ff36,#d8ff1f,#efff08,#ffe500,#ffca00,#ffb100,#ff9700,#ff7d00,#ff6400,#ff4a00,#ff3100,#ff1800,#e70000,#c80000,#aa0000,#8c0000)"></i><i style="height:2px;background:linear-gradient(90deg,#00daff,#0070ff,#0022ff,#0000f5,#0000c6,#0000a5,#000090,#000084,#000080,#000081,#000089,#000094,#0000a3,#0000b5,#0000c9,#0000e0,#0000f9,#0002ff,#001aff,#0033ff,#004dff,#0067ff,#0082ff,#009dff,#00b9ff,#00d5ff,#09f1ed,#20ffd6,#37ffbf,#4effa8,#66ff91,#7dff7a,#94ff63,#abff4c,#c2ff35,#d9ff1e,#f0fe07,#ffe300,#ffc900,#ffaf00,#ff9500,#ff7c00,#ff6200,#ff4900,#ff2f00,#ff1600,#e50000,#c60000,#a80000,#8a0000)"></i><i style="height:2px;background:linear-gradient(90deg,#00dbff,#0071ff,#0022ff,#0000f5,#0000c6,#0000a5,#000090,#000084,#000080,#000081,#000089,#000094,#0000a3,#0000b5,#0000ca,#0000e0,#0000f9,#0002ff,#001aff,#0033ff,#004dff,#0067ff,#0082ff,#009eff,#00b9ff,#00d6ff,#0af2ed,#21ffd6,#38ffbf,#4fffa8,#66ff91,#7dff79,#95ff62,#acff4b,#c3ff34,#daff1d,#f1fd06,#ffe200,#ffc800,#ffae00,#ff9400,#ff7b00,#ff6100,#ff4700,#ff2e00,#ff1500,#e30000,#c50000,#a60000,#880000)"></i><i style="height:2px;background:linear-gradient(90deg,#00dcff,#0071ff,#0022ff,#0000f6,#0000c6,#0000a5,#000090,#000084,#000080,#000081,#000089,#000094,#0000a3,#0000b5,#0000ca,#0000e0,#0000f9,#0002ff,#001aff,#0033ff,#004dff,#0068ff,#0083ff,#009eff,#00baff,#00d6ff,#0af2ec,#21ffd5,#38ffbe,#50ffa7,#67ff90,#7eff79,#95ff62,#acff4a,#c3ff33,#dbff1c,#f2fc05,#ffe100,#ffc700,#ffad00,#ff9300,#ff7900,#ff6000,#ff4600,#ff2d00,#ff1400,#e10000,#c30000,#a50000,#870000)"></i><i style="height:2px;background:linear-gradient(90deg,#00dcfe,#0072ff,#0023ff,#0000f6,#0000c6,#0000a5,#000090,#000084,#000080,#000081,#000089,#000094,#0000a3,#0000b5,#0000ca,#0000e1,#0000f9,#0003ff,#001bff,#0034ff,#004eff,#0068ff,#0083ff,#009fff,#00baff,#00d7ff,#0bf3ec,#22ffd5,#39ffbe,#50ffa7,#67ff8f,#7fff78,#96ff61,#adff4a,#c4ff33,#dbff1c,#f2fb05,#ffe100,#ffc600,#ffac00,#ff9200,#ff7900,#ff5f00,#ff4500,#ff2c00,#ff1300,#e00000,#c20000,#a30000,#850000)"></i><i style="height:2px;background:linear-gradient(90deg,#00dcfe,#0072ff,#0023ff,#0000f6,#0000c6,#0000a5,#000090,#000084,#000080,#000082,#000089,#000094,#0000a3,#0000b5,#0000ca,#0000e1,#0000f9,#0003ff,#001bff,#0034ff,#004eff,#0068ff,#0083ff,#009fff,#00bbff,#00d7ff,#0bf3ec,#22ffd5,#39ffbd,#51ffa6,#68ff8f,#7fff78,#96ff61,#adff49,#c5ff32,#dcff1b,#f3fa04,#ffe000,#ffc600,#ffac00,#ff9200,#ff7800,#ff5e00,#ff4500,#ff2b00,#fe1200,#df0000,#c10000,#a20000,#840000)"></i><i style="height:2px;background:linear-gradient(90deg,#00ddfe,#0072ff,#0023ff,#0000f6,#0000c7,#0000a5,#000090,#000084,#000080,#000082,#000089,#000094,#0000a3,#0000b5,#0000ca,#0000e1,#0000f9,#0003ff,#001bff,#0034ff,#004eff,#0068ff,#0084ff,#009fff,#00bbff,#00d7ff,#0bf4eb,#22ffd4,#3affbd,#51ffa6,#68ff8f,#7fff77,#97ff60,#aeff49,#c5ff32,#dcff1b,#f3fa04,#ffdf00,#ffc500,#ffab00,#ff9100,#ff7700,#ff5d00,#ff4400,#ff2a00,#fd1100,#de0000,#c00000,#a10000,#830000)"></i><i style="height:2px;background:linear-gradient(90deg,#00ddfe,#0072ff,#0023ff,#0000f6,#0000c7,#0000a5,#000090,#000084,#000080,#000082,#000089,#000094,#0000a3,#0000b5,#0000ca,#0000e1,#0000fa,#0003ff,#001bff,#0034ff,#004eff,#0069ff,#0084ff,#009fff,#00bbff,#00d7ff,#0cf4eb,#23ffd4,#3affbd,#51ffa6,#68ff8e,#80ff77,#97ff60,#aeff49,#c5ff31,#ddff1a,#f4f903,#ffdf00,#ffc500,#ffaa00,#ff9000,#ff7700,#ff5d00,#ff4300,#ff2a00,#fc1100,#de0000,#bf0000,#a10000,#820000)"></i><i style="height:2px;background:linear-gradient(90deg,#00ddfd,#0072ff,#0023ff,#0000f6,#0000c7,#0000a5,#000090,#000084,#000080,#000082,#000089,#000094,#0000a3,#0000b5,#0000ca,#0000e1,#0000fa,#0003ff,#001bff,#0034ff,#004eff,#0069ff,#0084ff,#009fff,#00bbff,#00d8ff,#0cf4eb,#23ffd4,#3affbd,#51ffa5,#69ff8e,#80ff77,#97ff60,#aeff48,#c6ff31,#ddff1a,#f4f903,#ffdf00,#ffc400,#ffaa00,#ff9000,#ff7600,#ff5d00,#ff4300,#ff2a00,#fc1000,#dd0000,#be0000,#a00000,#820000)"></i><i style="height:2px;background:linear-gradient(90deg,#00ddfd,#0072ff,#0023ff,#0000f6,#0000c7,#0000a6,#000090,#000084,#000080,#000082,#000089,#000094,#0000a3,#0000b5,#0000ca,#0000e1,#0000fa,#0003ff,#001bff,#0034ff,#004eff,#0069ff,#0084ff,#00a0ff,#00bbff,#00d8ff,#0cf4eb,#23ffd4,#3affbd,#51ffa5,#69ff8e,#80ff77,#97ff5f,#afff48,#c6ff31,#ddff1a,#f4f903,#ffde00,#ffc400,#ffaa00,#ff9000,#ff7600,#ff5c00,#ff4300,#ff2900,#fc1000,#dd0000,#be0000,#a00000,#820000)"></i><i style="height:2px;background:linear-gradient(90deg,#00ddfd,#0072ff,#0023ff,#0000f6,#0000c7,#0000a6,#000090,#000084,#000080,#000082,#000089,#000094,#0000a3,#0000b5,#0000ca,#0000e1,#0000fa,#0003ff,#001bff,#0034ff,#004eff,#0069ff,#0084ff,#00a0ff,#00bcff,#00d8ff,#0cf4eb,#23ffd4,#3affbd,#51ffa5,#69ff8e,#80ff77,#97ff5f,#afff48,#c6ff31,#ddff1a,#f4f903,#ffde00,#ffc400,#ffaa00,#ff9000,#ff7600,#ff5c00,#ff4300,#ff2900,#fb1000,#dd0000,#be0000,#a00000,#820000)"></i><i style="height:2px;background:linear-gradient(90deg,#00ddfd,#0072ff,#0023ff,#0000f6,#0000c7,#0000a6,#000090,#000084,#000080,#000082,#000089,#000094,#0000a3,#0000b5,#0000ca,#0000e1,#0000fa,#0003ff,#001bff,#0034ff,#004eff,#0069ff,#0084ff,#00a0ff,#00bbff,#00d8ff,#0cf4eb,#23ffd4,#3affbd,#51ffa5,#69ff8e,#80ff77,#97ff5f,#afff48,#c6ff31,#ddff1a,#f4f903,#ffde00,#ffc400,#ffaa00,#ff9000,#ff7600,#ff5c00,#ff4300,#ff2900,#fc1000,#dd0000,#be0000,#a00000,#820000)"></i><i style="height:2px;background:linear-gradient(90deg,#00ddfe,#0072ff,#0023ff,#0000f6,#0000c7,#0000a5,#000090,#000084,#000080,#000082,#000089,#000094,#0000a3,#0000b5,#0000ca,#0000e1,#0000fa,#0003ff,#001bff,#0034ff,#004eff,#0069ff,#0084ff,#009fff,#00bbff,#00d8ff,#0cf4eb,#23ffd4,#3affbd,#51ffa6,#69ff8e,#80ff77,#97ff60,#aeff48,#c6ff31,#ddff1a,#f4f903,#ffdf00,#ffc400,#ffaa00,#ff9000,#ff7600,#ff5d00,#ff4300,#ff2a00,#fc1000,#dd0000,#bf0000,#a00000,#820000)"></i><i style="height:2px;background:linear-gradient(90deg,#00ddfe,#0072ff,#0023ff,#0000f6,#0000c7,#0000a5,#000090,#000084,#000080,#000082,#000089,#000094,#0000a3,#0000b5,#0000ca,#0000e1,#0000fa,#0003ff,#001bff,#0034ff,#004eff,#0069ff,#0084ff,#009fff,#00bbff,#00d7ff,#0cf4eb,#23ffd4,#3affbd,#51ffa6,#68ff8e,#80ff77,#97ff60,#aeff49,#c5ff31,#dcff1a,#f4f903,#ffdf00,#ffc500,#ffab00,#ff9100,#ff7700,#ff5d00,#ff4300,#ff2a00,#fc1100,#de0000,#bf0000,#a10000,#830000)"></i><i style="height:2px;background:linear-gradient(90deg,#00ddfe,#0072ff,#0023ff,#0000f6,#0000c6,#0000a5,#000090,#000084,#000080,#000082,#000089,#000094,#0000a3,#0000b5,#0000ca,#0000e1,#0000f9,#0003ff,#001bff,#0034ff,#004eff,#0068ff,#0084ff,#009fff,#00bbff,#00d7ff,#0bf4eb,#22ffd4,#3affbd,#51ffa6,#68ff8f,#7fff77,#97ff60,#aeff49,#c5ff32,#dcff1b,#f3fa04,#ffdf00,#ffc500,#ffab00,#ff9100,#ff7700,#ff5e00,#ff4400,#ff2b00,#fd1100,#de0000,#c00000,#a10000,#830000)"></i><i style="height:2px;background:linear-gradient(90deg,#00dcfe,#0072ff,#0023ff,#0000f6,#0000c6,#0000a5,#000090,#000084,#000080,#000082,#000089,#000094,#0000a3,#0000b5,#0000ca,#0000e1,#0000f9,#0003ff,#001bff,#0034ff,#004eff,#0068ff,#0083ff,#009fff,#00bbff,#00d7ff,#0bf3ec,#22ffd5,#39ffbe,#50ffa6,#68ff8f,#7fff78,#96ff61,#adff49,#c5ff32,#dcff1b,#f3fa04,#ffe000,#ffc600,#ffac00,#ff9200,#ff7800,#ff5e00,#ff4500,#ff2b00,#fe1200,#df0000,#c10000,#a20000,#840000)"></i><i style="height:2px;background:linear-gradient(90deg,#00dcff,#0071ff,#0023ff,#0000f6,#0000c6,#0000a5,#000090,#000084,#000080,#000081,#000089,#000094,#0000a3,#0000b5,#0000ca,#0000e1,#0000f9,#0003ff,#001bff,#0034ff,#004dff,#0068ff,#0083ff,#009eff,#00baff,#00d6ff,#0bf3ec,#22ffd5,#39ffbe,#50ffa7,#67ff90,#7eff78,#96ff61,#adff4a,#c4ff33,#dbff1c,#f2fb05,#ffe100,#ffc700,#ffac00,#ff9300,#ff7900,#ff5f00,#ff4600,#ff2c00,#ff1300,#e00000,#c20000,#a40000,#860000)"></i><i style="height:2px;background:linear-gradient(90deg,#00dbff,#0071ff,#0022ff,#0000f6,#0000c6,#0000a5,#000090,#000084,#000080,#000081,#000089,#000094,#0000a3,#0000b5,#0000ca,#0000e0,#0000f9,#0002ff,#001aff,#0033ff,#004dff,#0068ff,#0083ff,#009eff,#00baff,#00d6ff,#0af2ec,#21ffd6,#38ffbe,#4fffa7,#67ff90,#7eff79,#95ff62,#acff4b,#c3ff33,#daff1c,#f1fc05,#ffe200,#ffc700,#ffad00,#ff9300,#ff7a00,#ff6000,#ff4700,#ff2d00,#ff1400,#e20000,#c30000,#a50000,#870000)"></i><i style="height:2px;background:linear-gradient(90deg,#00dbff,#0071ff,#0022ff,#0000f5,#0000c6,#0000a5,#000090,#000084,#000080,#000081,#000089,#000094,#0000a3,#0000b5,#0000ca,#0000e0,#0000f9,#0002ff,#001aff,#0033ff,#004dff,#0067ff,#0082ff,#009eff,#00b9ff,#00d5ff,#0af2ed,#21ffd6,#38ffbf,#4fffa8,#66ff91,#7dff7a,#94ff62,#abff4b,#c3ff34,#daff1d,#f1fd06,#ffe300,#ffc800,#ffae00,#ff9500,#ff7b00,#ff6100,#ff4800,#ff2e00,#ff1500,#e30000,#c50000,#a70000,#890000)"></i><i style="height:2px;background:linear-gradient(90deg,#00daff,#0070ff,#0022ff,#0000f5,#0000c6,#0000a5,#000090,#000084,#000080,#000081,#000089,#000094,#0000a3,#0000b5,#0000c9,#0000e0,#0000f9,#0002ff,#001aff,#0033ff,#004cff,#0067ff,#0082ff,#009dff,#00b9ff,#00d5ff,#09f1ee,#20ffd7,#37ffc0,#4effa9,#65ff91,#7cff7a,#94ff63,#abff4c,#c2ff35,#d9ff1e,#f0fe07,#ffe400,#ffca00,#ffb000,#ff9600,#ff7c00,#ff6200,#ff4900,#ff3000,#ff1700,#e50000,#c70000,#a90000,#8b0000)"></i><i style="height:2px;background:linear-gradient(90deg,#00d9ff,#0070ff,#0021ff,#0000f5,#0000c6,#0000a5,#000090,#000084,#000080,#000081,#000089,#000094,#0000a3,#0000b5,#0000c9,#0000e0,#0000f8,#0002ff,#0019ff,#0032ff,#004cff,#0066ff,#0081ff,#009cff,#00b8ff,#00d4ff,#09f0ee,#20ffd7,#36ffc0,#4effa9,#65ff92,#7cff7b,#93ff64,#aaff4d,#c1ff36,#d8ff1f,#efff08,#ffe500,#ffcb00,#ffb100,#ff9700,#ff7d00,#ff6400,#ff4b00,#ff3100,#ff1800,#e70000,#c90000,#ab0000,#8d0000)"></i><i style="height:2px;background:linear-gradient(90deg,#00d9ff,#006fff,#0021ff,#0000f5,#0000c6,#0000a5,#000090,#000084,#000080,#000081,#000089,#000094,#0000a3,#0000b5,#0000c9,#0000e0,#0000f8,#0001ff,#0019ff,#0032ff,#004cff,#0066ff,#0081ff,#009cff,#00b7ff,#00d3ff,#08efef,#1fffd8,#36ffc1,#4dffaa,#64ff93,#7bff7c,#92ff65,#a9ff4e,#c0ff37,#d7ff20,#edff09,#ffe600,#ffcc00,#ffb200,#ff9900,#ff7f00,#ff6600,#ff4c00,#ff3300,#ff1a00,#e90100,#cb0000,#ad0000,#8f0000)"></i><i style="height:2px;background:linear-gradient(90deg,#00d8ff,#006fff,#0021ff,#0000f4,#0000c5,#0000a5,#000090,#000084,#000080,#000081,#000088,#000094,#0000a3,#0000b5,#0000c9,#0000df,#0000f8,#0001ff,#0019ff,#0031ff,#004bff,#0065ff,#0080ff,#009bff,#00b7ff,#00d2ff,#07eef0,#1effd9,#35ffc2,#4cffab,#63ff94,#7aff7d,#91ff66,#a8ff4f,#bfff38,#d5ff21,#ecff0b,#ffe800,#ffce00,#ffb400,#ff9a00,#ff8100,#ff6700,#ff4e00,#ff3500,#ff1c00,#ec0300,#cd0000,#af0000,#920000)"></i><i style="height:2px;background:linear-gradient(90deg,#00d7ff,#006eff,#0020ff,#0000f4,#0000c5,#0000a5,#000090,#000084,#000080,#000081,#000088,#000094,#0000a3,#0000b4,#0000c9,#0000df,#0000f7,#0001ff,#0018ff,#0031ff,#004aff,#0065ff,#007fff,#009aff,#00b6ff,#00d2ff,#06edf0,#1dffda,#34ffc3,#4bffac,#62ff95,#79ff7e,#90ff67,#a6ff50,#bdff39,#d4ff23,#ebff0c,#ffe900,#ffcf00,#ffb600,#ff9c00,#ff8300,#ff6900,#ff5000,#ff3700,#ff1e00,#ee0500,#d00000,#b20000,#940000)"></i><i style="height:2px;background:linear-gradient(90deg,#00d6ff,#006dff,#0020ff,#0000f4,#0000c5,#0000a5,#000090,#000084,#000080,#000081,#000088,#000094,#0000a2,#0000b4,#0000c8,#0000df,#0000f7,#0000ff,#0018ff,#0030ff,#004aff,#0064ff,#007eff,#0099ff,#00b5ff,#00d1ff,#06ecf1,#1cffdb,#33ffc4,#4affad,#61ff96,#78ff7f,#8eff68,#a5ff52,#bcff3b,#d3ff24,#e9ff0d,#ffeb00,#ffd100,#ffb700,#ff9e00,#ff8400,#ff6b00,#ff5200,#ff3900,#ff2000,#f10700,#d30000,#b50000,#970000)"></i><i style="height:2px;background:linear-gradient(90deg,#00d5ff,#006cff,#001fff,#0000f3,#0000c5,#0000a5,#000090,#000084,#000080,#000081,#000088,#000094,#0000a2,#0000b4,#0000c8,#0000de,#0000f7,#0000ff,#0017ff,#0030ff,#0049ff,#0063ff,#007eff,#0099ff,#00b4ff,#00cfff,#05ebf2,#1bffdc,#32ffc5,#49ffae,#5fff97,#76ff81,#8dff6a,#a4ff53,#bbff3c,#d1ff26,#e8ff0f,#feed00,#ffd300,#ffb900,#ffa000,#ff8700,#ff6d00,#ff5400,#ff3b00,#ff2300,#f40a00,#d60000,#b80000,#9a0000)"></i><i style="height:2px;background:linear-gradient(90deg,#00d4ff,#006cff,#001fff,#0000f3,#0000c5,#0000a4,#000090,#000084,#000080,#000081,#000088,#000094,#0000a2,#0000b4,#0000c8,#0000de,#0000f6,#0000ff,#0017ff,#002fff,#0048ff,#0062ff,#007dff,#0098ff,#00b3ff,#00ceff,#04eaf3,#1affdd,#31ffc6,#47ffaf,#5eff99,#75ff82,#8cff6b,#a2ff54,#b9ff3e,#d0ff27,#e6ff11,#fdef00,#ffd500,#ffbc00,#ffa200,#ff8900,#ff7000,#ff5700,#ff3e00,#ff2500,#f70d00,#d90000,#bc0000,#9e0000)"></i><i style="height:2px;background:linear-gradient(90deg,#00d2ff,#006bff,#001eff,#0000f2,#0000c4,#0000a4,#00008f,#000084,#000080,#000081,#000088,#000093,#0000a2,#0000b4,#0000c8,#0000de,#0000f6,#0000ff,#0016ff,#002fff,#0048ff,#0061ff,#007cff,#0097ff,#00b2ff,#00cdff,#03e9f4,#19ffde,#30ffc7,#46ffb1,#5dff9a,#73ff83,#8aff6d,#a1ff56,#b7ff3f,#ceff29,#e4ff12,#fbf100,#ffd700,#ffbe00,#ffa500,#ff8b00,#ff7200,#ff5900,#ff4000,#ff2800,#fb0f00,#dd0000,#bf0000,#a20000)"></i><i style="height:2px;background:linear-gradient(90deg,#00d1ff,#006aff,#001dff,#0000f2,#0000c4,#0000a4,#00008f,#000084,#000080,#000081,#000088,#000093,#0000a2,#0000b3,#0000c7,#0000dd,#0000f5,#0000ff,#0016ff,#002eff,#0047ff,#0061ff,#007bff,#0095ff,#00b0ff,#00ccff,#01e7f5,#18ffdf,#2effc9,#45ffb2,#5bff9b,#72ff85,#89ff6e,#9fff58,#b6ff41,#ccff2b,#e2ff14,#f9f300,#ffda00,#ffc000,#ffa700,#ff8e00,#ff7500,#ff5c00,#ff4300,#ff2b00,#fe1200,#e00000,#c30000,#a60000)"></i><i style="height:2px;background:linear-gradient(90deg,#00d0ff,#0069ff,#001dff,#0000f1,#0000c4,#0000a4,#00008f,#000084,#000080,#000081,#000088,#000093,#0000a2,#0000b3,#0000c7,#0000dd,#0000f5,#0000ff,#0015ff,#002dff,#0046ff,#0060ff,#007aff,#0094ff,#00afff,#00caff,#00e6f6,#17ffe0,#2dffca,#43ffb3,#5aff9d,#70ff86,#87ff70,#9dff59,#b4ff43,#caff2d,#e0ff16,#f7f600,#ffdc00,#ffc300,#ffaa00,#ff9100,#ff7800,#ff5f00,#ff4600,#ff2e00,#ff1500,#e40000,#c70000,#aa0000)"></i><i style="height:2px;background:linear-gradient(90deg,#00ceff,#0068ff,#001cff,#0000f1,#0000c3,#0000a4,#00008f,#000084,#000080,#000081,#000088,#000093,#0000a2,#0000b3,#0000c7,#0000dd,#0000f4,#0000ff,#0014ff,#002cff,#0045ff,#005fff,#0079ff,#0093ff,#00aeff,#00c9ff,#00e4f8,#15ffe2,#2bffcb,#42ffb5,#58ff9f,#6fff88,#85ff72,#9bff5b,#b2ff45,#c8ff2f,#deff18,#f4f802,#ffdf00,#ffc600,#ffad00,#ff9400,#ff7b00,#ff6200,#ff4900,#ff3100,#ff1900,#e90100,#cb0000,#ae0000)"></i><i style="height:2px;background:linear-gradient(90deg,#00cdff,#0067ff,#001bff,#0000f0,#0000c3,#0000a4,#00008f,#000084,#000080,#000081,#000088,#000093,#0000a1,#0000b3,#0000c6,#0000dc,#0000f4,#0000ff,#0014ff,#002cff,#0044ff,#005eff,#0077ff,#0092ff,#00acff,#00c7ff,#00e3f9,#14fee3,#2affcd,#40ffb7,#57ffa0,#6dff8a,#83ff74,#99ff5d,#b0ff47,#c6ff31,#dcff1b,#f2fb05,#ffe200,#ffc800,#ffaf00,#ff9700,#ff7e00,#ff6500,#ff4d00,#ff3400,#ff1c00,#ed0400,#d00000,#b30000)"></i><i style="height:2px;background:linear-gradient(90deg,#00cbff,#0065ff,#001aff,#0000f0,#0000c3,#0000a3,#00008f,#000084,#000080,#000081,#000088,#000093,#0000a1,#0000b2,#0000c6,#0000dc,#0000f3,#0000ff,#0013ff,#002bff,#0043ff,#005dff,#0076ff,#0090ff,#00abff,#00c6ff,#00e1fa,#12fce4,#28ffce,#3fffb8,#55ffa2,#6bff8c,#81ff76,#97ff5f,#aeff49,#c4ff33,#daff1d,#f0fe07,#ffe500,#ffcb00,#ffb300,#ff9a00,#ff8100,#ff6900,#ff5000,#ff3800,#ff2000,#f20800,#d40000,#b70000)"></i><i style="height:2px;background:linear-gradient(90deg,#00c9ff,#0064ff,#001aff,#0000ef,#0000c2,#0000a3,#00008f,#000084,#000080,#000081,#000088,#000093,#0000a1,#0000b2,#0000c6,#0000db,#0000f2,#0000ff,#0012ff,#002aff,#0042ff,#005bff,#0075ff,#008fff,#00a9ff,#00c4ff,#00dffc,#11fae6,#27ffd0,#3dffba,#53ffa4,#69ff8e,#7fff78,#95ff62,#abff4b,#c1ff35,#d7ff1f,#edff0a,#ffe800,#ffcf00,#ffb600,#ff9d00,#ff8500,#ff6c00,#ff5400,#ff3c00,#ff2400,#f60c00,#d90000,#bc0000)"></i><i style="height:2px;background:linear-gradient(90deg,#00c7ff,#0063ff,#0019ff,#0000ef,#0000c2,#0000a3,#00008f,#000084,#000080,#000081,#000088,#000093,#0000a1,#0000b2,#0000c5,#0000db,#0000f2,#0000ff,#0011ff,#0029ff,#0041ff,#005aff,#0074ff,#008eff,#00a8ff,#00c2ff,#00ddfd,#0ff8e8,#25ffd2,#3bffbc,#51ffa6,#67ff90,#7dff7a,#93ff64,#a9ff4e,#bfff38,#d5ff22,#ebff0c,#ffeb00,#ffd200,#ffb900,#ffa100,#ff8800,#ff7000,#ff5800,#ff4000,#ff2800,#fb1000,#de0000,#c20000)"></i><i style="height:2px;background:linear-gradient(90deg,#00c6ff,#0062ff,#0018ff,#0000ee,#0000c2,#0000a3,#00008f,#000084,#000080,#000081,#000088,#000093,#0000a1,#0000b2,#0000c5,#0000da,#0000f1,#0000ff,#0010ff,#0028ff,#0040ff,#0059ff,#0072ff,#008cff,#00a6ff,#00c1ff,#00dbff,#0df6e9,#23ffd4,#39ffbe,#4fffa8,#65ff92,#7bff7c,#91ff66,#a6ff50,#bcff3a,#d2ff25,#e8ff0f,#fdee00,#ffd500,#ffbd00,#ffa400,#ff8c00,#ff7400,#ff5c00,#ff4400,#ff2c00,#ff1400,#e40000,#c70000)"></i><i style="height:2px;background:linear-gradient(90deg,#00c4ff,#0060ff,#0017ff,#0000ed,#0000c1,#0000a3,#00008f,#000084,#000080,#000081,#000088,#000093,#0000a0,#0000b1,#0000c4,#0000da,#0000f0,#0000ff,#0010ff,#0027ff,#003fff,#0058ff,#0071ff,#008aff,#00a4ff,#00bfff,#00d9ff,#0cf4eb,#21ffd5,#37ffc0,#4dffaa,#63ff94,#78ff7e,#8eff69,#a4ff53,#baff3d,#cfff28,#e5ff12,#faf100,#ffd900,#ffc000,#ffa800,#ff9000,#ff7800,#ff6000,#ff4800,#ff3000,#ff1900,#e90100,#cd0000)"></i><i style="height:2px;background:linear-gradient(90deg,#00c2ff,#005fff,#0016ff,#0000ed,#0000c1,#0000a2,#00008f,#000084,#000080,#000081,#000088,#000092,#0000a0,#0000b1,#0000c4,#0000d9,#0000f0,#0000ff,#000fff,#0026ff,#003eff,#0056ff,#006fff,#0089ff,#00a3ff,#00bdff,#00d7ff,#0af2ed,#1fffd7,#35ffc2,#4bffac,#60ff97,#76ff81,#8cff6b,#a1ff56,#b7ff40,#ccff2a,#e2ff15,#f7f500,#ffdd00,#ffc400,#ffac00,#ff9400,#ff7c00,#ff6400,#ff4c00,#ff3500,#ff1d00,#ef0600,#d30000)"></i><i style="height:2px;background:linear-gradient(90deg,#00c0ff,#005dff,#0015ff,#0000ec,#0000c0,#0000a2,#00008f,#000084,#000080,#000081,#000088,#000092,#0000a0,#0000b1,#0000c3,#0000d8,#0000ef,#0000ff,#000eff,#0025ff,#003cff,#0055ff,#006eff,#0087ff,#00a1ff,#00bbff,#00d5ff,#08efef,#1dffd9,#33ffc4,#48ffae,#5eff99,#73ff83,#89ff6e,#9eff58,#b4ff43,#c9ff2d,#dfff18,#f4f903,#ffe000,#ffc800,#ffb000,#ff9800,#ff8000,#ff6900,#ff5100,#ff3a00,#ff2200,#f50b00,#d90000)"></i><i style="height:2px;background:linear-gradient(90deg,#00bdff,#005cff,#0014ff,#0000eb,#0000c0,#0000a2,#00008e,#000084,#000080,#000081,#000088,#000092,#0000a0,#0000b0,#0000c3,#0000d8,#0000ee,#0000ff,#000dff,#0024ff,#003bff,#0053ff,#006cff,#0085ff,#009fff,#00b9ff,#00d3ff,#06edf1,#1bffdc,#31ffc6,#46ffb1,#5bff9b,#71ff86,#86ff71,#9cff5b,#b1ff46,#c6ff31,#dbff1b,#f1fd06,#ffe500,#ffcc00,#ffb400,#ff9d00,#ff8500,#ff6d00,#ff5600,#ff3e00,#ff2700,#fc1000,#e00000)"></i><i style="height:2px;background:linear-gradient(90deg,#00bbff,#005aff,#0013ff,#0000ea,#0000bf,#0000a2,#00008e,#000084,#000080,#000081,#000088,#000092,#0000a0,#0000b0,#0000c3,#0000d7,#0000ed,#0000ff,#000cff,#0022ff,#003aff,#0052ff,#006aff,#0083ff,#009dff,#00b6ff,#00d0ff,#04eaf3,#19ffde,#2effc9,#43ffb3,#59ff9e,#6eff89,#83ff73,#99ff5e,#aeff49,#c3ff34,#d8ff1f,#edff0a,#ffe900,#ffd100,#ffb900,#ffa100,#ff8a00,#ff7200,#ff5b00,#ff4400,#ff2c00,#ff1600,#e60000)"></i><i style="height:2px;background:linear-gradient(90deg,#00b9ff,#0059ff,#0012ff,#0000e9,#0000bf,#0000a1,#00008e,#000083,#000080,#000081,#000088,#000092,#00009f,#0000b0,#0000c2,#0000d6,#0000ec,#0000ff,#000bff,#0021ff,#0038ff,#0050ff,#0069ff,#0081ff,#009bff,#00b4ff,#00ceff,#02e8f5,#17ffe0,#2cffcb,#41ffb6,#56ffa1,#6bff8c,#80ff76,#95ff61,#abff4c,#c0ff37,#d5ff22,#e9ff0d,#feed00,#ffd500,#ffbd00,#ffa600,#ff8e00,#ff7700,#ff6000,#ff4900,#ff3200,#ff1b00,#ed0400)"></i><i style="height:2px;background:linear-gradient(90deg,#00b6ff,#0057ff,#0011ff,#0000e9,#0000be,#0000a1,#00008e,#000083,#000080,#000081,#000088,#000092,#00009f,#0000af,#0000c1,#0000d6,#0000ec,#0000ff,#000aff,#0020ff,#0037ff,#004fff,#0067ff,#0080ff,#0098ff,#00b2ff,#00cbff,#00e5f7,#14ffe2,#29ffcd,#3effb9,#53ffa4,#68ff8f,#7dff7a,#92ff65,#a7ff50,#bcff3b,#d1ff26,#e6ff11,#faf100,#ffda00,#ffc200,#ffab00,#ff9400,#ff7c00,#ff6500,#ff4e00,#ff3800,#ff2100,#f40a00)"></i><i style="height:2px;background:linear-gradient(90deg,#00b4ff,#0055ff,#000fff,#0000e8,#0000be,#0000a1,#00008e,#000083,#000080,#000081,#000088,#000092,#00009f,#0000af,#0000c1,#0000d5,#0000eb,#0000ff,#0008ff,#001fff,#0035ff,#004dff,#0065ff,#007dff,#0096ff,#00afff,#00c9ff,#00e2f9,#12fce5,#27ffd0,#3cffbb,#50ffa6,#65ff92,#7aff7d,#8fff68,#a4ff53,#b8ff3e,#cdff2a,#e2ff15,#f6f600,#ffdf00,#ffc700,#ffb000,#ff9900,#ff8200,#ff6b00,#ff5400,#ff3d00,#ff2700,#fc1000)"></i><i style="height:2px;background:linear-gradient(90deg,#00b1ff,#0053ff,#000eff,#0000e7,#0000bd,#0000a0,#00008e,#000083,#000080,#000081,#000087,#000091,#00009f,#0000ae,#0000c0,#0000d4,#0000ea,#0000ff,#0007ff,#001dff,#0034ff,#004bff,#0063ff,#007bff,#0094ff,#00adff,#00c6ff,#00dffc,#0ff9e7,#24ffd3,#39ffbe,#4dffa9,#62ff95,#77ff80,#8bff6b,#a0ff57,#b5ff42,#c9ff2d,#deff19,#f2fb05,#ffe400,#ffcc00,#ffb500,#ff9e00,#ff8700,#ff7000,#ff5a00,#ff4300,#ff2d00,#ff1700)"></i><i style="height:2px;background:linear-gradient(90deg,#00afff,#0052ff,#000dff,#0000e6,#0000bd,#0000a0,#00008e,#000083,#000080,#000081,#000087,#000091,#00009e,#0000ae,#0000c0,#0000d3,#0000e9,#0000ff,#0006ff,#001cff,#0032ff,#0049ff,#0061ff,#0079ff,#0092ff,#00aaff,#00c3ff,#00dcfe,#0df5ea,#21ffd5,#36ffc1,#4affac,#5fff98,#73ff83,#88ff6f,#9cff5a,#b1ff46,#c5ff31,#daff1d,#eeff09,#ffe900,#ffd200,#ffbb00,#ffa400,#ff8d00,#ff7600,#ff6000,#ff4900,#ff3300,#ff1d00)"></i><i style="height:2px;background:linear-gradient(90deg,#00acff,#0050ff,#000cff,#0000e5,#0000bc,#0000a0,#00008e,#000083,#000080,#000081,#000087,#000091,#00009e,#0000ad,#0000bf,#0000d3,#0000e8,#0000fe,#0005ff,#001aff,#0031ff,#0048ff,#005fff,#0077ff,#008fff,#00a8ff,#00c0ff,#00d9ff,#0af2ed,#1effd8,#33ffc4,#47ffb0,#5cff9b,#70ff87,#84ff72,#99ff5e,#adff4a,#c1ff36,#d5ff21,#e9ff0d,#fdee00,#ffd700,#ffc000,#ffa900,#ff9300,#ff7c00,#ff6600,#ff5000,#ff3a00,#ff2400)"></i><i style="height:2px;background:linear-gradient(90deg,#00a9ff,#004eff,#000aff,#0000e4,#0000bc,#0000a0,#00008d,#000083,#000080,#000081,#000087,#000091,#00009e,#0000ad,#0000bf,#0000d2,#0000e7,#0000fd,#0004ff,#0019ff,#002fff,#0046ff,#005dff,#0075ff,#008dff,#00a5ff,#00bdff,#00d6ff,#07efef,#1cffdb,#30ffc7,#44ffb3,#58ff9f,#6cff8a,#81ff76,#95ff62,#a9ff4e,#bdff3a,#d1ff26,#e5ff12,#f9f300,#ffdd00,#ffc600,#ffaf00,#ff9900,#ff8300,#ff6d00,#ff5600,#ff4100,#ff2b00)"></i><i style="height:2px;background:linear-gradient(90deg,#00a6ff,#004cff,#0009ff,#0000e3,#0000bb,#00009f,#00008d,#000083,#000080,#000081,#000087,#000091,#00009d,#0000ad,#0000be,#0000d1,#0000e6,#0000fc,#0002ff,#0017ff,#002dff,#0044ff,#005bff,#0072ff,#008aff,#00a2ff,#00baff,#00d3ff,#05ebf2,#19ffde,#2dffca,#41ffb6,#55ffa2,#69ff8e,#7dff7a,#91ff66,#a5ff52,#b9ff3e,#ccff2a,#e0ff17,#f4f903,#ffe200,#ffcc00,#ffb600,#ff9f00,#ff8900,#ff7300,#ff5d00,#ff4800,#ff3200)"></i><i style="height:2px;background:linear-gradient(90deg,#00a3ff,#004aff,#0007ff,#0000e2,#0000ba,#00009f,#00008d,#000083,#000080,#000081,#000087,#000091,#00009d,#0000ac,#0000bd,#0000d0,#0000e5,#0000fb,#0001ff,#0016ff,#002cff,#0042ff,#0059ff,#0070ff,#0087ff,#009fff,#00b7ff,#00cfff,#02e8f5,#15ffe1,#29ffcd,#3dffba,#51ffa6,#65ff92,#79ff7e,#8dff6a,#a0ff56,#b4ff43,#c8ff2f,#dbff1b,#efff08,#ffe800,#ffd200,#ffbc00,#ffa600,#ff9000,#ff7a00,#ff6400,#ff4f00,#ff3900)"></i><i style="height:2px;background:linear-gradient(90deg,#00a0ff,#0047ff,#0006ff,#0000e1,#0000ba,#00009f,#00008d,#000083,#000080,#000081,#000087,#000090,#00009d,#0000ac,#0000bd,#0000cf,#0000e4,#0000f9,#0000ff,#0014ff,#002aff,#0040ff,#0056ff,#006dff,#0085ff,#009cff,#00b4ff,#00ccff,#00e4f8,#12fce4,#26ffd1,#3affbd,#4dffaa,#61ff96,#75ff82,#88ff6f,#9cff5b,#afff47,#c3ff34,#d6ff20,#eaff0d,#fdee00,#ffd800,#ffc200,#ffac00,#ff9700,#ff8100,#ff6b00,#ff5600,#ff4100)"></i><i style="height:2px;background:linear-gradient(90deg,#009dff,#0045ff,#0005ff,#0000e0,#0000b9,#00009e,#00008d,#000083,#000080,#000081,#000087,#000090,#00009c,#0000ab,#0000bc,#0000ce,#0000e3,#0000f8,#0000ff,#0013ff,#0028ff,#003eff,#0054ff,#006bff,#0082ff,#0099ff,#00b1ff,#00c8ff,#00e0fb,#0ff8e8,#22ffd4,#36ffc1,#49ffad,#5dff9a,#70ff86,#84ff73,#97ff60,#abff4c,#beff39,#d1ff26,#e4ff12,#f8f500,#ffdf00,#ffc900,#ffb300,#ff9e00,#ff8800,#ff7300,#ff5e00,#ff4900)"></i><i style="height:2px;background:linear-gradient(90deg,#009aff,#0043ff,#0003ff,#0000df,#0000b8,#00009e,#00008d,#000083,#000080,#000081,#000087,#000090,#00009c,#0000ab,#0000bb,#0000ce,#0000e1,#0000f6,#0000ff,#0011ff,#0026ff,#003bff,#0052ff,#0068ff,#007fff,#0096ff,#00adff,#00c5ff,#00dcfe,#0cf4eb,#1fffd8,#32ffc5,#45ffb1,#59ff9e,#6cff8b,#7fff77,#93ff64,#a6ff51,#b9ff3e,#ccff2b,#dfff18,#f2fb05,#ffe500,#ffd000,#ffba00,#ffa500,#ff9000,#ff7b00,#ff6500,#ff5100)"></i><i style="height:2px;background:linear-gradient(90deg,#0097ff,#0041ff,#0001ff,#0000dd,#0000b8,#00009d,#00008d,#000083,#000080,#000081,#000087,#000090,#00009c,#0000aa,#0000ba,#0000cd,#0000e0,#0000f5,#0000ff,#000fff,#0024ff,#0039ff,#004fff,#0065ff,#007cff,#0093ff,#00aaff,#00c1ff,#00d8ff,#08f0ef,#1bffdc,#2effc8,#41ffb5,#55ffa2,#68ff8f,#7bff7c,#8eff69,#a1ff56,#b4ff43,#c7ff30,#d9ff1d,#ecff0b,#ffec00,#ffd700,#ffc200,#ffac00,#ff9700,#ff8200,#ff6e00,#ff5900)"></i><i style="height:2px;background:linear-gradient(90deg,#0093ff,#003eff,#0000ff,#0000dc,#0000b7,#00009d,#00008c,#000083,#000080,#000081,#000087,#000090,#00009b,#0000aa,#0000ba,#0000cc,#0000df,#0000f4,#0000ff,#000dff,#0022ff,#0037ff,#004dff,#0062ff,#0079ff,#008fff,#00a6ff,#00bdff,#00d4ff,#05ebf2,#18ffdf,#2affcc,#3dffba,#50ffa7,#63ff94,#76ff81,#89ff6e,#9cff5b,#aeff48,#c1ff36,#d4ff23,#e6ff11,#f9f300,#ffde00,#ffc900,#ffb400,#ff9f00,#ff8a00,#ff7600,#ff6100)"></i><i style="height:2px;background:linear-gradient(90deg,#0090ff,#003cff,#0000ff,#0000db,#0000b6,#00009d,#00008c,#000083,#000080,#000081,#000087,#00008f,#00009b,#0000a9,#0000b9,#0000cb,#0000de,#0000f2,#0000ff,#000cff,#0020ff,#0035ff,#004aff,#0060ff,#0076ff,#008cff,#00a2ff,#00b9ff,#00d0ff,#01e7f6,#14fee3,#26ffd0,#39ffbe,#4cffab,#5eff98,#71ff86,#84ff73,#96ff61,#a9ff4e,#bbff3b,#ceff29,#e0ff17,#f2fb04,#ffe600,#ffd100,#ffbc00,#ffa700,#ff9300,#ff7e00,#ff6a00)"></i><i style="height:2px;background:linear-gradient(90deg,#008cff,#0039ff,#0000ff,#0000da,#0000b5,#00009c,#00008c,#000083,#000080,#000081,#000086,#00008f,#00009b,#0000a8,#0000b8,#0000ca,#0000dc,#0000f0,#0000ff,#000aff,#001eff,#0032ff,#0047ff,#005dff,#0072ff,#0088ff,#009fff,#00b5ff,#00ccff,#00e2f9,#10f9e7,#22ffd5,#35ffc2,#47ffb0,#5aff9d,#6cff8b,#7eff78,#91ff66,#a3ff54,#b5ff41,#c8ff2f,#daff1d,#ecff0b,#feed00,#ffd900,#ffc400,#ffb000,#ff9b00,#ff8700,#ff7300)"></i><i style="height:2px;background:linear-gradient(90deg,#0089ff,#0037ff,#0000ff,#0000d9,#0000b5,#00009c,#00008c,#000083,#000080,#000081,#000086,#00008f,#00009a,#0000a8,#0000b7,#0000c9,#0000db,#0000ef,#0000ff,#0008ff,#001cff,#0030ff,#0045ff,#005aff,#006fff,#0085ff,#009bff,#00b1ff,#00c7ff,#00defd,#0cf4eb,#1effd9,#30ffc7,#42ffb4,#55ffa2,#67ff90,#79ff7e,#8bff6c,#9dff59,#afff47,#c1ff35,#d3ff23,#e5ff11,#f7f500,#ffe100,#ffcc00,#ffb800,#ffa400,#ff9000,#ff7c00)"></i><i style="height:2px;background:linear-gradient(90deg,#0085ff,#0034ff,#0000ff,#0000d7,#0000b4,#00009b,#00008c,#000083,#000080,#000081,#000086,#00008f,#00009a,#0000a7,#0000b7,#0000c7,#0000da,#0000ed,#0000ff,#0006ff,#0019ff,#002dff,#0042ff,#0057ff,#006cff,#0081ff,#0097ff,#00adff,#00c3ff,#00d9ff,#08efef,#1affdd,#2cffcb,#3effb9,#50ffa7,#62ff95,#74ff83,#85ff71,#97ff5f,#a9ff4d,#bbff3c,#cdff2a,#dfff18,#f0fd07,#ffe900,#ffd500,#ffc100,#ffad00,#ff9900,#ff8500)"></i><i style="height:2px;background:linear-gradient(90deg,#0081ff,#0032ff,#0000ff,#0000d6,#0000b3,#00009b,#00008b,#000083,#000080,#000081,#000086,#00008e,#000099,#0000a7,#0000b6,#0000c6,#0000d8,#0000ec,#0000ff,#0004ff,#0017ff,#002bff,#003fff,#0053ff,#0068ff,#007dff,#0093ff,#00a8ff,#00beff,#00d4ff,#03eaf3,#15ffe2,#27ffd0,#39ffbe,#4affac,#5cff9b,#6eff89,#80ff77,#91ff65,#a3ff54,#b5ff42,#c6ff31,#d8ff1f,#e9ff0e,#faf100,#ffde00,#ffca00,#ffb600,#ffa300,#ff8f00)"></i><i style="height:2px;background:linear-gradient(90deg,#007dff,#002fff,#0000ff,#0000d5,#0000b2,#00009b,#00008b,#000083,#000080,#000081,#000086,#00008e,#000099,#0000a6,#0000b5,#0000c5,#0000d7,#0000ea,#0000fe,#0002ff,#0015ff,#0028ff,#003cff,#0050ff,#0065ff,#007aff,#008fff,#00a4ff,#00b9ff,#00cfff,#00e4f8,#11fae6,#22ffd5,#34ffc3,#45ffb2,#57ffa0,#68ff8f,#7aff7d,#8bff6c,#9cff5a,#aeff49,#bfff38,#d0ff26,#e2ff15,#f3fa04,#ffe700,#ffd300,#ffc000,#ffac00,#ff9900)"></i><i style="height:2px;background:linear-gradient(90deg,#0079ff,#002cff,#0000ff,#0000d3,#0000b1,#00009a,#00008b,#000083,#000080,#000081,#000086,#00008e,#000099,#0000a5,#0000b4,#0000c4,#0000d6,#0000e8,#0000fc,#0000ff,#0012ff,#0025ff,#0039ff,#004dff,#0061ff,#0076ff,#008aff,#009fff,#00b4ff,#00caff,#00dffc,#0cf4eb,#1dffda,#2effc8,#40ffb7,#51ffa6,#62ff95,#73ff83,#85ff72,#96ff61,#a7ff50,#b8ff3f,#c9ff2e,#daff1d,#ebff0c,#fcf000,#ffdc00,#ffc900,#ffb600,#ffa300)"></i><i style="height:2px;background:linear-gradient(90deg,#0075ff,#0029ff,#0000ff,#0000d2,#0000b1,#00009a,#00008b,#000083,#000080,#000081,#000086,#00008e,#000098,#0000a5,#0000b3,#0000c3,#0000d4,#0000e6,#0000fa,#0000ff,#0010ff,#0023ff,#0036ff,#004aff,#005dff,#0072ff,#0086ff,#009bff,#00afff,#00c4ff,#00d9ff,#07eef0,#18ffdf,#29ffce,#3affbd,#4bffac,#5cff9b,#6dff8a,#7eff79,#8fff68,#a0ff57,#b1ff46,#c2ff35,#d2ff24,#e3ff14,#f4f903,#ffe600,#ffd300,#ffc000,#ffae00)"></i><i style="height:2px;background:linear-gradient(90deg,#0071ff,#0026ff,#0000fe,#0000d0,#0000b0,#000099,#00008b,#000083,#000080,#000081,#000086,#00008d,#000098,#0000a4,#0000b2,#0000c2,#0000d3,#0000e5,#0000f8,#0000ff,#000dff,#0020ff,#0033ff,#0046ff,#005aff,#006eff,#0082ff,#0096ff,#00aaff,#00bfff,#00d3ff,#02e8f5,#13fde4,#24ffd3,#34ffc2,#45ffb2,#56ffa1,#67ff90,#77ff7f,#88ff6f,#99ff5e,#a9ff4d,#baff3d,#caff2c,#dbff1c,#ebff0c,#fcf000,#ffdd00,#ffcb00,#ffb800)"></i><i style="height:2px;background:linear-gradient(90deg,#006dff,#0023ff,#0000fb,#0000cf,#0000af,#000099,#00008a,#000082,#000080,#000081,#000086,#00008d,#000097,#0000a3,#0000b1,#0000c1,#0000d1,#0000e3,#0000f5,#0000ff,#000bff,#001dff,#0030ff,#0043ff,#0056ff,#0069ff,#007dff,#0091ff,#00a5ff,#00b9ff,#00ceff,#00e2fa,#0ef6e9,#1effd9,#2fffc8,#3fffb8,#50ffa7,#60ff97,#71ff86,#81ff76,#91ff65,#a2ff55,#b2ff45,#c2ff34,#d3ff24,#e3ff14,#f3fa04,#ffe800,#ffd500,#ffc300)"></i><i style="height:2px;background:linear-gradient(90deg,#0068ff,#0020ff,#0000f9,#0000cd,#0000ae,#000098,#00008a,#000082,#000080,#000081,#000085,#00008d,#000097,#0000a3,#0000b0,#0000bf,#0000d0,#0000e1,#0000f3,#0000ff,#0008ff,#001aff,#002cff,#003fff,#0052ff,#0065ff,#0078ff,#008cff,#00a0ff,#00b4ff,#00c8ff,#00dcff,#08f0ef,#18ffde,#29ffce,#39ffbe,#49ffae,#59ff9d,#6aff8d,#7aff7d,#8aff6d,#9aff5d,#aaff4d,#baff3d,#caff2d,#daff1d,#eaff0d,#f9f200,#ffe000,#ffce00)"></i><i style="height:2px;background:linear-gradient(90deg,#0064ff,#001dff,#0000f7,#0000cc,#0000ad,#000098,#00008a,#000082,#000080,#000081,#000085,#00008d,#000096,#0000a2,#0000af,#0000be,#0000ce,#0000df,#0000f1,#0000ff,#0006ff,#0017ff,#0029ff,#003bff,#004eff,#0061ff,#0074ff,#0087ff,#009aff,#00aeff,#00c1ff,#00d5ff,#03e9f4,#13fde4,#23ffd4,#32ffc4,#42ffb4,#52ffa4,#62ff94,#72ff85,#82ff75,#92ff65,#a2ff55,#b1ff45,#c1ff36,#d1ff26,#e0ff16,#f0fd07,#ffec00,#ffda00)"></i><i style="height:2px;background:linear-gradient(90deg,#005fff,#001aff,#0000f4,#0000ca,#0000ac,#000097,#00008a,#000082,#000080,#000081,#000085,#00008c,#000096,#0000a1,#0000ae,#0000bd,#0000cc,#0000dd,#0000ef,#0000ff,#0003ff,#0014ff,#0026ff,#0038ff,#004aff,#005cff,#006fff,#0082ff,#0095ff,#00a8ff,#00bbff,#00ceff,#00e2fa,#0df5ea,#1cffda,#2cffcb,#3cffbb,#4bffab,#5bff9c,#6bff8c,#7aff7d,#8aff6d,#99ff5d,#a9ff4e,#b8ff3f,#c8ff2f,#d7ff20,#e6ff11,#f5f701,#ffe600)"></i><i style="height:2px;background:linear-gradient(90deg,#005bff,#0017ff,#0000f2,#0000c9,#0000ab,#000097,#00008a,#000082,#000080,#000081,#000085,#00008c,#000095,#0000a1,#0000ad,#0000bb,#0000cb,#0000db,#0000ec,#0000fe,#0000ff,#0011ff,#0022ff,#0034ff,#0046ff,#0058ff,#006aff,#007cff,#008fff,#00a2ff,#00b5ff,#00c8ff,#00dbff,#07eef0,#16ffe1,#25ffd1,#35ffc2,#44ffb3,#53ffa3,#63ff94,#72ff85,#81ff75,#91ff66,#a0ff57,#afff48,#beff39,#cdff2a,#dcff1b,#ebff0c,#faf200)"></i><i style="height:2px;background:linear-gradient(90deg,#0056ff,#0013ff,#0000ef,#0000c7,#0000aa,#000096,#000089,#000082,#000080,#000081,#000085,#00008c,#000095,#0000a0,#0000ac,#0000ba,#0000c9,#0000d9,#0000ea,#0000fb,#0000ff,#000eff,#001fff,#0030ff,#0041ff,#0053ff,#0065ff,#0077ff,#0089ff,#009cff,#00aeff,#00c1ff,#00d3ff,#00e6f6,#0ff9e7,#1effd8,#2effc9,#3dffba,#4cffab,#5bff9c,#6aff8d,#79ff7e,#88ff6f,#97ff60,#a6ff51,#b4ff42,#c3ff34,#d2ff25,#e1ff16,#effe08)"></i><i style="height:2px;background:linear-gradient(90deg,#0051ff,#0010ff,#0000ed,#0000c5,#0000a9,#000096,#000089,#000082,#000080,#000081,#000085,#00008c,#000094,#00009f,#0000ab,#0000b9,#0000c7,#0000d7,#0000e7,#0000f8,#0000ff,#000bff,#001bff,#002cff,#003dff,#004eff,#0060ff,#0071ff,#0083ff,#0095ff,#00a7ff,#00baff,#00ccff,#00defd,#09f0ee,#17ffdf,#26ffd1,#35ffc2,#44ffb3,#53ffa4,#61ff95,#70ff87,#7fff78,#8dff69,#9cff5b,#aaff4c,#b9ff3e,#c7ff2f,#d6ff21,#e4ff13)"></i><i style="height:2px;background:linear-gradient(90deg,#004cff,#000dff,#0000ea,#0000c4,#0000a8,#000095,#000089,#000082,#000080,#000081,#000085,#00008b,#000094,#00009e,#0000aa,#0000b7,#0000c6,#0000d5,#0000e5,#0000f6,#0000ff,#0007ff,#0017ff,#0028ff,#0038ff,#0049ff,#005aff,#006cff,#007dff,#008fff,#00a1ff,#00b2ff,#00c4ff,#00d6ff,#02e8f5,#10fae6,#1fffd8,#2dffca,#3cffbb,#4affad,#59ff9e,#67ff90,#75ff81,#84ff73,#92ff65,#a0ff56,#afff48,#bdff3a,#cbff2c,#d9ff1e)"></i><i style="height:2px;background:linear-gradient(90deg,#0047ff,#0009ff,#0000e7,#0000c2,#0000a7,#000095,#000089,#000082,#000080,#000081,#000085,#00008b,#000093,#00009e,#0000a9,#0000b6,#0000c4,#0000d3,#0000e2,#0000f3,#0000ff,#0004ff,#0014ff,#0024ff,#0034ff,#0044ff,#0055ff,#0066ff,#0077ff,#0088ff,#0099ff,#00abff,#00bcff,#00ceff,#00dffc,#09f1ee,#17ffe0,#25ffd1,#33ffc3,#42ffb5,#50ffa7,#5eff99,#6cff8b,#7aff7d,#88ff6f,#96ff61,#a4ff53,#b2ff45,#bfff37,#cdff29)"></i><i style="height:2px;background:linear-gradient(90deg,#0042ff,#0005ff,#0000e5,#0000c0,#0000a6,#000094,#000088,#000082,#000080,#000081,#000084,#00008b,#000093,#00009d,#0000a8,#0000b5,#0000c2,#0000d1,#0000e0,#0000f0,#0000ff,#0000ff,#0010ff,#001fff,#002fff,#003fff,#0050ff,#0060ff,#0071ff,#0081ff,#0092ff,#00a3ff,#00b4ff,#00c5ff,#00d6ff,#02e7f5,#0ff9e7,#1dffda,#2bffcc,#39ffbe,#47ffb0,#54ffa2,#62ff95,#70ff87,#7eff79,#8bff6c,#99ff5e,#a6ff50,#b4ff43,#c1ff35)"></i><i style="height:2px;background:linear-gradient(90deg,#003cff,#0002ff,#0000e2,#0000be,#0000a5,#000093,#000088,#000082,#000080,#000081,#000084,#00008a,#000092,#00009c,#0000a7,#0000b3,#0000c0,#0000ce,#0000dd,#0000ec,#0000fc,#0000ff,#000cff,#001bff,#002aff,#003aff,#004aff,#005aff,#006aff,#007bff,#008bff,#009bff,#00acff,#00bdff,#00cdff,#00defd,#07efef,#15ffe2,#22ffd4,#30ffc7,#3dffb9,#4bffac,#58ff9f,#66ff91,#73ff84,#80ff77,#8eff69,#9bff5c,#a8ff4f,#b5ff42)"></i><i style="height:2px;background:linear-gradient(90deg,#0037ff,#0000ff,#0000df,#0000bc,#0000a4,#000093,#000088,#000082,#000080,#000081,#000084,#00008a,#000092,#00009b,#0000a6,#0000b2,#0000be,#0000cc,#0000da,#0000e9,#0000f9,#0000ff,#0008ff,#0017ff,#0026ff,#0035ff,#0044ff,#0054ff,#0064ff,#0074ff,#0084ff,#0094ff,#00a4ff,#00b4ff,#00c4ff,#00d4ff,#00e5f7,#0cf5ea,#1affdd,#27ffd0,#34ffc3,#41ffb6,#4effa9,#5bff9c,#68ff8f,#75ff82,#82ff75,#8fff68,#9cff5b,#a9ff4e)"></i><i style="height:2px;background:linear-gradient(90deg,#0032ff,#0000ff,#0000dc,#0000bb,#0000a3,#000092,#000088,#000082,#000080,#000080,#000084,#00008a,#000091,#00009a,#0000a5,#0000b0,#0000bc,#0000ca,#0000d8,#0000e6,#0000f5,#0000ff,#0004ff,#0012ff,#0021ff,#002fff,#003eff,#004eff,#005dff,#006cff,#007cff,#008bff,#009bff,#00abff,#00bbff,#00caff,#00daff,#04eaf3,#10fae6,#1dffda,#2affcd,#37ffc0,#44ffb3,#50ffa7,#5dff9a,#6aff8d,#76ff81,#83ff74,#8fff67,#9cff5b)"></i><i style="height:2px;background:linear-gradient(90deg,#002cff,#0000ff,#0000d9,#0000b9,#0000a2,#000092,#000087,#000082,#000080,#000080,#000084,#000089,#000091,#000099,#0000a3,#0000ae,#0000ba,#0000c7,#0000d5,#0000e3,#0000f1,#0000ff,#0000ff,#000dff,#001cff,#002aff,#0038ff,#0047ff,#0056ff,#0065ff,#0074ff,#0083ff,#0092ff,#00a2ff,#00b1ff,#00c0ff,#00d0ff,#00dffc,#07eef0,#14fee3,#20ffd7,#2cffca,#39ffbe,#45ffb2,#52ffa5,#5eff99,#6aff8d,#76ff80,#83ff74,#8fff68)"></i><i style="height:2px;background:linear-gradient(90deg,#0026ff,#0000ff,#0000d6,#0000b7,#0000a0,#000091,#000087,#000082,#000080,#000080,#000084,#000089,#000090,#000098,#0000a2,#0000ad,#0000b8,#0000c5,#0000d2,#0000df,#0000ee,#0000fc,#0000ff,#0009ff,#0016ff,#0024ff,#0032ff,#0041ff,#004fff,#005dff,#006cff,#007bff,#0089ff,#0098ff,#00a7ff,#00b6ff,#00c5ff,#00d4ff,#00e3f9,#0af2ed,#16ffe1,#22ffd5,#2effc9,#3affbd,#46ffb1,#52ffa5,#5eff99,#6aff8d,#76ff81,#81ff75)"></i><i style="height:2px;background:linear-gradient(90deg,#0020ff,#0000fc,#0000d3,#0000b5,#00009f,#000090,#000087,#000081,#000080,#000080,#000084,#000089,#00008f,#000098,#0000a1,#0000ab,#0000b6,#0000c2,#0000cf,#0000dc,#0000ea,#0000f8,#0000ff,#0004ff,#0011ff,#001fff,#002cff,#003aff,#0048ff,#0056ff,#0064ff,#0072ff,#0080ff,#008fff,#009dff,#00abff,#00baff,#00c8ff,#00d7ff,#00e5f7,#0bf4eb,#17ffe0,#23ffd4,#2effc9,#3affbd,#45ffb1,#51ffa6,#5dff9a,#68ff8f,#74ff83)"></i><i style="height:2px;background:linear-gradient(90deg,#001aff,#0000f8,#0000d0,#0000b3,#00009e,#000090,#000087,#000081,#000080,#000080,#000083,#000088,#00008f,#000097,#0000a0,#0000aa,#0000b4,#0000c0,#0000cc,#0000d9,#0000e6,#0000f3,#0000ff,#0000ff,#000cff,#0019ff,#0026ff,#0033ff,#0040ff,#004eff,#005bff,#0069ff,#0077ff,#0085ff,#0093ff,#00a0ff,#00aeff,#00bcff,#00caff,#00d8ff,#01e6f6,#0cf4eb,#17ffe0,#22ffd4,#2effc9,#39ffbe,#44ffb3,#4fffa8,#5aff9d,#65ff91)"></i><i style="height:2px;background:linear-gradient(90deg,#0014ff,#0000f3,#0000cc,#0000b1,#00009d,#00008f,#000086,#000081,#000080,#000080,#000083,#000088,#00008e,#000096,#00009e,#0000a8,#0000b2,#0000bd,#0000c9,#0000d5,#0000e2,#0000ef,#0000fc,#0000ff,#0006ff,#0013ff,#001fff,#002cff,#0039ff,#0046ff,#0053ff,#0060ff,#006dff,#007bff,#0088ff,#0095ff,#00a3ff,#00b0ff,#00beff,#00cbff,#00d9ff,#00e6f6,#0bf3ec,#16ffe1,#21ffd6,#2cffcb,#37ffc0,#41ffb5,#4cffab,#57ffa0)"></i><i style="height:2px;background:linear-gradient(90deg,#000eff,#0000ee,#0000c9,#0000af,#00009c,#00008e,#000086,#000081,#000080,#000080,#000083,#000088,#00008e,#000095,#00009d,#0000a6,#0000b0,#0000bb,#0000c6,#0000d1,#0000dd,#0000ea,#0000f7,#0000ff,#0001ff,#000cff,#0019ff,#0025ff,#0031ff,#003eff,#004aff,#0057ff,#0063ff,#0070ff,#007dff,#008aff,#0097ff,#00a4ff,#00b1ff,#00beff,#00caff,#00d7ff,#00e4f8,#0af1ed,#14fee3,#1effd8,#29ffce,#33ffc4,#3dffb9,#48ffaf)"></i><i style="height:2px;background:linear-gradient(90deg,#0008ff,#0000e9,#0000c6,#0000ac,#00009a,#00008e,#000086,#000081,#000080,#000080,#000083,#000087,#00008d,#000094,#00009c,#0000a4,#0000ae,#0000b8,#0000c3,#0000ce,#0000d9,#0000e5,#0000f1,#0000fe,#0000ff,#0006ff,#0012ff,#001dff,#0029ff,#0035ff,#0041ff,#004dff,#0059ff,#0066ff,#0072ff,#007eff,#008bff,#0097ff,#00a3ff,#00b0ff,#00bcff,#00c9ff,#00d5ff,#00e1fa,#07eef0,#11fae6,#1bffdc,#25ffd2,#2fffc8,#38ffbe)"></i><i style="height:2px;background:linear-gradient(90deg,#0001ff,#0000e4,#0000c2,#0000aa,#000099,#00008d,#000085,#000081,#000080,#000080,#000083,#000087,#00008c,#000093,#00009a,#0000a3,#0000ac,#0000b5,#0000bf,#0000ca,#0000d5,#0000e0,#0000ec,#0000f8,#0000ff,#0000ff,#000bff,#0016ff,#0021ff,#002cff,#0038ff,#0043ff,#004fff,#005bff,#0066ff,#0072ff,#007eff,#008aff,#0096ff,#00a1ff,#00adff,#00b9ff,#00c5ff,#00d1ff,#00ddfe,#02e9f4,#0cf4eb,#16ffe1,#1fffd8,#29ffce)"></i><i style="height:2px;background:linear-gradient(90deg,#0000ff,#0000de,#0000bf,#0000a8,#000098,#00008c,#000085,#000081,#000080,#000080,#000083,#000086,#00008c,#000092,#000099,#0000a1,#0000a9,#0000b2,#0000bc,#0000c6,#0000d0,#0000db,#0000e6,#0000f1,#0000fd,#0000ff,#0004ff,#000eff,#0019ff,#0024ff,#002eff,#0039ff,#0044ff,#0050ff,#005bff,#0066ff,#0071ff,#007cff,#0088ff,#0093ff,#009eff,#00a9ff,#00b5ff,#00c0ff,#00cbff,#00d7ff,#00e2fa,#06edf1,#0ff8e8,#18ffde)"></i><i style="height:1px;background:linear-gradient(90deg,#0000ff,#0000da,#0000bc,#0000a6,#000097,#00008c,#000085,#000081,#000080,#000080,#000082,#000086,#00008b,#000091,#000098,#00009f,#0000a7,#0000b0,#0000b9,#0000c3,#0000cd,#0000d7,#0000e2,#0000ed,#0000f8,#0000ff,#0000ff,#0008ff,#0012ff,#001dff,#0027ff,#0032ff,#003cff,#0047ff,#0052ff,#005cff,#0067ff,#0072ff,#007dff,#0088ff,#0092ff,#009dff,#00a8ff,#00b3ff,#00beff,#00c9ff,#00d4ff,#00defd,#03e9f4,#0cf4eb)"></i><i style="height:1px;background:linear-gradient(90deg,#0000ff,#0000d8,#0000ba,#0000a5,#000096,#00008b,#000085,#000081,#000080,#000080,#000082,#000086,#00008b,#000090,#000097,#00009e,#0000a6,#0000af,#0000b8,#0000c1,#0000cb,#0000d5,#0000df,#0000e9,#0000f4,#0000ff,#0000ff,#0004ff,#000eff,#0018ff,#0022ff,#002dff,#0037ff,#0041ff,#004cff,#0056ff,#0060ff,#006bff,#0075ff,#0080ff,#008aff,#0095ff,#00a0ff,#00aaff,#00b5ff,#00bfff,#00caff,#00d4ff,#00dffc,#03e9f4)"></i><i style="height:1px;background:linear-gradient(90deg,#0000fc,#0000d5,#0000b8,#0000a4,#000095,#00008b,#000085,#000081,#000080,#000080,#000082,#000086,#00008a,#000090,#000096,#00009d,#0000a5,#0000ad,#0000b6,#0000bf,#0000c8,#0000d2,#0000dc,#0000e6,#0000f0,#0000fb,#0000ff,#0000ff,#000aff,#0013ff,#001dff,#0027ff,#0031ff,#003bff,#0045ff,#004fff,#005aff,#0064ff,#006eff,#0078ff,#0082ff,#008dff,#0097ff,#00a1ff,#00abff,#00b6ff,#00c0ff,#00caff,#00d4ff,#00dffc)"></i><i style="height:1px;background:linear-gradient(90deg,#0000f8,#0000d2,#0000b6,#0000a3,#000094,#00008b,#000084,#000081,#000080,#000080,#000082,#000086,#00008a,#00008f,#000096,#00009c,#0000a4,#0000ac,#0000b4,#0000bd,#0000c6,#0000cf,#0000d9,#0000e3,#0000ed,#0000f7,#0000ff,#0000ff,#0005ff,#000fff,#0018ff,#0022ff,#002bff,#0035ff,#003fff,#0049ff,#0053ff,#005cff,#0066ff,#0070ff,#007aff,#0084ff,#008eff,#0098ff,#00a2ff,#00acff,#00b6ff,#00c0ff,#00caff,#00d4ff)"></i><i style="height:1px;background:linear-gradient(90deg,#0000f4,#0000cf,#0000b5,#0000a1,#000094,#00008a,#000084,#000081,#000080,#000080,#000082,#000085,#00008a,#00008f,#000095,#00009b,#0000a2,#0000aa,#0000b2,#0000bb,#0000c3,#0000cc,#0000d6,#0000df,#0000e9,#0000f3,#0000fd,#0000ff,#0001ff,#000aff,#0013ff,#001cff,#0026ff,#002fff,#0039ff,#0042ff,#004cff,#0055ff,#005fff,#0068ff,#0072ff,#007bff,#0085ff,#008fff,#0098ff,#00a2ff,#00acff,#00b5ff,#00bfff,#00c8ff)"></i><i style="height:1px;background:linear-gradient(90deg,#0000f0,#0000cc,#0000b3,#0000a0,#000093,#00008a,#000084,#000081,#000080,#000080,#000082,#000085,#000089,#00008e,#000094,#00009a,#0000a1,#0000a9,#0000b0,#0000b8,#0000c1,#0000ca,#0000d3,#0000dc,#0000e5,#0000ef,#0000f8,#0000ff,#0000ff,#0005ff,#000eff,#0017ff,#0020ff,#0029ff,#0032ff,#003bff,#0044ff,#004eff,#0057ff,#0060ff,#0069ff,#0073ff,#007cff,#0085ff,#008fff,#0098ff,#00a1ff,#00aaff,#00b4ff,#00bdff)"></i><i style="height:1px;background:linear-gradient(90deg,#0000eb,#0000c9,#0000b1,#00009f,#000092,#000089,#000084,#000081,#000080,#000080,#000082,#000085,#000089,#00008e,#000093,#000099,#0000a0,#0000a7,#0000ae,#0000b6,#0000be,#0000c7,#0000cf,#0000d8,#0000e1,#0000ea,#0000f4,#0000fd,#0000ff,#0000ff,#0009ff,#0011ff,#001aff,#0023ff,#002bff,#0034ff,#003dff,#0046ff,#004fff,#0058ff,#0061ff,#006aff,#0073ff,#007cff,#0085ff,#008eff,#0097ff,#00a0ff,#00a9ff,#00b2ff)"></i><i style="height:1px;background:linear-gradient(90deg,#0000e7,#0000c6,#0000af,#00009e,#000091,#000089,#000084,#000081,#000080,#000080,#000082,#000085,#000089,#00008d,#000092,#000098,#00009f,#0000a5,#0000ad,#0000b4,#0000bc,#0000c4,#0000cc,#0000d5,#0000dd,#0000e6,#0000ef,#0000f8,#0000ff,#0000ff,#0003ff,#000bff,#0014ff,#001cff,#0025ff,#002dff,#0036ff,#003eff,#0047ff,#004fff,#0058ff,#0061ff,#0069ff,#0072ff,#007aff,#0083ff,#008cff,#0094ff,#009dff,#00a6ff)"></i><i style="height:1px;background:linear-gradient(90deg,#0000e2,#0000c3,#0000ad,#00009c,#000091,#000089,#000083,#000081,#000080,#000080,#000082,#000084,#000088,#00008d,#000092,#000097,#00009d,#0000a4,#0000ab,#0000b2,#0000b9,#0000c1,#0000c9,#0000d1,#0000d9,#0000e2,#0000ea,#0000f3,#0000fc,#0000ff,#0000ff,#0006ff,#000eff,#0016ff,#001eff,#0026ff,#002eff,#0036ff,#003eff,#0047ff,#004fff,#0057ff,#0060ff,#0068ff,#0070ff,#0078ff,#0081ff,#0089ff,#0091ff,#009aff)"></i><i style="height:1px;background:linear-gradient(90deg,#0000de,#0000c0,#0000ab,#00009b,#000090,#000088,#000083,#000081,#000080,#000080,#000082,#000084,#000088,#00008c,#000091,#000096,#00009c,#0000a2,#0000a9,#0000b0,#0000b7,#0000be,#0000c6,#0000cd,#0000d5,#0000dd,#0000e5,#0000ee,#0000f6,#0000ff,#0000ff,#0000ff,#0007ff,#000fff,#0017ff,#001eff,#0026ff,#002eff,#0036ff,#003eff,#0046ff,#004eff,#0056ff,#005eff,#0066ff,#006dff,#0075ff,#007dff,#0085ff,#008dff)"></i><i style="height:1px;background:linear-gradient(90deg,#0000d9,#0000bd,#0000a8,#00009a,#00008f,#000088,#000083,#000080,#000080,#000080,#000081,#000084,#000087,#00008b,#000090,#000095,#00009b,#0000a0,#0000a7,#0000ad,#0000b4,#0000bb,#0000c2,#0000ca,#0000d1,#0000d9,#0000e1,#0000e9,#0000f1,#0000f9,#0000ff,#0000ff,#0001ff,#0008ff,#0010ff,#0017ff,#001eff,#0026ff,#002dff,#0035ff,#003cff,#0044ff,#004cff,#0053ff,#005bff,#0062ff,#006aff,#0072ff,#0079ff,#0081ff)"></i><i style="height:1px;background:linear-gradient(90deg,#0000d5,#0000ba,#0000a6,#000098,#00008e,#000087,#000083,#000080,#000080,#000080,#000081,#000084,#000087,#00008b,#00008f,#000094,#000099,#00009f,#0000a5,#0000ab,#0000b1,#0000b8,#0000bf,#0000c6,#0000cd,#0000d4,#0000dc,#0000e3,#0000eb,#0000f2,#0000fa,#0000ff,#0000ff,#0001ff,#0008ff,#000fff,#0016ff,#001dff,#0025ff,#002cff,#0033ff,#003aff,#0041ff,#0048ff,#0050ff,#0057ff,#005eff,#0065ff,#006dff,#0074ff)"></i><i style="height:1px;background:linear-gradient(90deg,#0000d0,#0000b7,#0000a4,#000097,#00008d,#000087,#000083,#000080,#000080,#000080,#000081,#000084,#000086,#00008a,#00008e,#000093,#000098,#00009d,#0000a3,#0000a8,#0000ae,#0000b5,#0000bb,#0000c2,#0000c9,#0000cf,#0000d6,#0000de,#0000e5,#0000ec,#0000f3,#0000fb,#0000ff,#0000ff,#0001ff,#0007ff,#000eff,#0015ff,#001cff,#0022ff,#0029ff,#0030ff,#0037ff,#003eff,#0044ff,#004bff,#0052ff,#0059ff,#0060ff,#0067ff)"></i><i style="height:1px;background:linear-gradient(90deg,#0000cb,#0000b3,#0000a2,#000095,#00008d,#000086,#000083,#000080,#000080,#000080,#000081,#000083,#000086,#000089,#00008d,#000092,#000096,#00009b,#0000a0,#0000a6,#0000ac,#0000b2,#0000b8,#0000be,#0000c4,#0000cb,#0000d1,#0000d8,#0000df,#0000e5,#0000ec,#0000f3,#0000fa,#0000ff,#0000ff,#0000ff,#0006ff,#000cff,#0012ff,#0019ff,#001fff,#0025ff,#002cff,#0032ff,#0039ff,#003fff,#0046ff,#004cff,#0053ff,#0059ff)"></i><i style="height:1px;background:linear-gradient(90deg,#0000c6,#0000b0,#0000a0,#000094,#00008c,#000086,#000082,#000080,#000080,#000080,#000081,#000083,#000086,#000089,#00008c,#000090,#000095,#000099,#00009e,#0000a3,#0000a9,#0000ae,#0000b4,#0000ba,#0000c0,#0000c6,#0000cc,#0000d2,#0000d8,#0000df,#0000e5,#0000ec,#0000f2,#0000f9,#0000ff,#0000ff,#0000ff,#0003ff,#0009ff,#000fff,#0015ff,#001bff,#0021ff,#0027ff,#002dff,#0033ff,#0039ff,#003fff,#0045ff,#004bff)"></i><i style="height:1px;background:linear-gradient(90deg,#0000c1,#0000ac,#00009d,#000092,#00008b,#000086,#000082,#000080,#000080,#000080,#000081,#000083,#000085,#000088,#00008b,#00008f,#000093,#000097,#00009c,#0000a1,#0000a6,#0000ab,#0000b0,#0000b5,#0000bb,#0000c1,#0000c6,#0000cc,#0000d2,#0000d8,#0000de,#0000e4,#0000ea,#0000f0,#0000f6,#0000fd,#0000ff,#0000ff,#0000ff,#0005ff,#000aff,#0010ff,#0015ff,#001bff,#0021ff,#0026ff,#002cff,#0031ff,#0037ff,#003dff)"></i><i style="height:1px;background:linear-gradient(90deg,#0000bb,#0000a9,#00009b,#000091,#00008a,#000085,#000082,#000080,#000080,#000080,#000081,#000083,#000085,#000087,#00008a,#00008e,#000092,#000095,#00009a,#00009e,#0000a3,#0000a7,#0000ac,#0000b1,#0000b6,#0000bb,#0000c1,#0000c6,#0000cb,#0000d1,#0000d6,#0000dc,#0000e1,#0000e7,#0000ed,#0000f2,#0000f8,#0000fe,#0000ff,#0000ff,#0000ff,#0004ff,#0009ff,#000fff,#0014ff,#0019ff,#001eff,#0023ff,#0029ff,#002eff)"></i><i style="height:1px;background:linear-gradient(90deg,#0000b6,#0000a5,#000098,#00008f,#000089,#000085,#000082,#000080,#000080,#000080,#000081,#000082,#000084,#000087,#000089,#00008d,#000090,#000094,#000097,#00009b,#00009f,#0000a4,#0000a8,#0000ad,#0000b1,#0000b6,#0000bb,#0000c0,#0000c4,#0000c9,#0000ce,#0000d4,#0000d9,#0000de,#0000e3,#0000e8,#0000ed,#0000f3,#0000f8,#0000fd,#0000ff,#0000ff,#0000ff,#0002ff,#0007ff,#000cff,#0010ff,#0015ff,#001aff,#001fff)"></i><i style="height:1px;background:linear-gradient(90deg,#0000b0,#0000a1,#000096,#00008e,#000088,#000084,#000081,#000080,#000080,#000080,#000081,#000082,#000084,#000086,#000088,#00008b,#00008e,#000091,#000095,#000098,#00009c,#0000a0,#0000a4,#0000a8,#0000ac,#0000b0,#0000b5,#0000b9,#0000bd,#0000c2,#0000c6,#0000cb,#0000cf,#0000d4,#0000d9,#0000dd,#0000e2,#0000e7,#0000ec,#0000f0,#0000f5,#0000fa,#0000ff,#0000ff,#0000ff,#0000ff,#0001ff,#0006ff,#000aff,#000eff)"></i><i style="height:1px;background:linear-gradient(90deg,#0000aa,#00009d,#000093,#00008c,#000087,#000083,#000081,#000080,#000080,#000080,#000080,#000082,#000083,#000085,#000087,#00008a,#00008c,#00008f,#000092,#000095,#000099,#00009c,#0000a0,#0000a3,#0000a7,#0000aa,#0000ae,#0000b2,#0000b6,#0000ba,#0000be,#0000c2,#0000c6,#0000ca,#0000ce,#0000d2,#0000d7,#0000db,#0000df,#0000e3,#0000e7,#0000ec,#0000f0,#0000f4,#0000f8,#0000fd,#0000ff,#0000ff,#0000ff,#0000ff)"></i><i style="height:1px;background:linear-gradient(90deg,#0000a4,#000099,#000090,#00008a,#000086,#000083,#000081,#000080,#000080,#000080,#000080,#000081,#000083,#000084,#000086,#000088,#00008b,#00008d,#000090,#000092,#000095,#000098,#00009b,#00009e,#0000a1,#0000a4,#0000a7,#0000ab,#0000ae,#0000b1,#0000b5,#0000b8,#0000bc,#0000bf,#0000c3,#0000c6,#0000ca,#0000cd,#0000d1,#0000d5,#0000d8,#0000dc,#0000e0,#0000e3,#0000e7,#0000eb,#0000ee,#0000f2,#0000f6,#0000f9)"></i><i style="height:1px;background:linear-gradient(90deg,#00009e,#000094,#00008d,#000088,#000085,#000082,#000081,#000080,#000080,#000080,#000080,#000081,#000082,#000083,#000085,#000087,#000089,#00008b,#00008d,#00008f,#000091,#000094,#000096,#000099,#00009b,#00009e,#0000a0,#0000a3,#0000a6,#0000a9,#0000ab,#0000ae,#0000b1,#0000b4,#0000b7,#0000ba,#0000bd,#0000c0,#0000c3,#0000c6,#0000c9,#0000cc,#0000cf,#0000d2,#0000d5,#0000d8,#0000db,#0000de,#0000e1,#0000e4)"></i><i style="height:1px;background:linear-gradient(90deg,#000096,#00008f,#00008a,#000086,#000083,#000082,#000080,#000080,#000080,#000080,#000080,#000081,#000081,#000083,#000084,#000085,#000086,#000088,#00008a,#00008b,#00008d,#00008f,#000091,#000093,#000095,#000097,#000099,#00009b,#00009d,#00009f,#0000a1,#0000a3,#0000a5,#0000a8,#0000aa,#0000ac,#0000ae,#0000b0,#0000b3,#0000b5,#0000b7,#0000ba,#0000bc,#0000be,#0000c1,#0000c3,#0000c5,#0000c8,#0000ca,#0000cc)"></i><i style="height:1px;background:linear-gradient(90deg,#00008e,#00008a,#000086,#000084,#000082,#000081,#000080,#000080,#000080,#000080,#000080,#000080,#000081,#000081,#000082,#000083,#000084,#000085,#000086,#000087,#000088,#000089,#00008b,#00008c,#00008d,#00008e,#000090,#000091,#000092,#000094,#000095,#000097,#000098,#000099,#00009b,#00009c,#00009e,#00009f,#0000a1,#0000a2,#0000a4,#0000a5,#0000a7,#0000a8,#0000aa,#0000ab,#0000ad,#0000ae,#0000b0,#0000b1)"></i><i style="height:1px;background:linear-gradient(90deg,#000084,#000083,#000082,#000081,#000080,#000080,#000080,#000080,#000080,#000080,#000080,#000080,#000080,#000080,#000080,#000081,#000081,#000081,#000082,#000082,#000082,#000083,#000083,#000084,#000084,#000084,#000085,#000085,#000086,#000086,#000087,#000087,#000088,#000088,#000089,#000089,#00008a,#00008a,#00008b,#00008b,#00008c,#00008c,#00008d,#00008d,#00008e,#00008e,#00008f,#00008f,#000090,#000090)"></i></div>
<div class="cb" style="left:512.00px;top:28.75px;width:18.50px;height:365.55px;background:linear-gradient(180deg,#800000 0.00% 1.01%,#8b0000 1.01% 2.02%,#970000 2.02% 3.03%,#a30000 3.03% 4.04%,#af0000 4.04% 5.05%,#bb0000 5.05% 6.06%,#c60000 6.06% 7.07%,#d20000 7.07% 8.08%,#de0000 8.08% 9.09%,#ea0200 9.09% 10.10%,#f60b00 10.10% 11.11%,#ff1500 11.11% 12.12%,#ff1f00 12.12% 13.13%,#ff2800 13.13% 14.14%,#ff3200 14.14% 15.15%,#ff3c00 15.15% 16.16%,#ff4500 16.16% 17.17%,#ff4f00 17.17% 18.18%,#ff5800 18.18% 19.19%,#ff6200 19.19% 20.20%,#ff6c00 20.20% 21.21%,#ff7500 21.21% 22.22%,#ff7f00 22.22% 23.23%,#ff8900 23.23% 24.24%,#ff9200 24.24% 25.25%,#ff9c00 25.25% 26.26%,#ffa600 26.26% 27.27%,#ffaf00 27.27% 28.28%,#ffb900 28.28% 29.29%,#ffc200 29.29% 30.30%,#ffcc00 30.30% 31.31%,#ffd600 31.31% 32.32%,#ffdf00 32.32% 33.33%,#ffe900 33.33% 34.34%,#f9f300 34.34% 35.35%,#f1fc06 35.35% 36.36%,#e9ff0e 36.36% 37.37%,#e0ff17 37.37% 38.38%,#d8ff1f 38.38% 39.39%,#cfff27 39.39% 40.40%,#c7ff30 40.40% 41.41%,#bfff38 41.41% 42.42%,#b6ff41 42.42% 43.43%,#aeff49 43.43% 44.44%,#a5ff51 44.44% 45.45%,#9dff5a 45.45% 46.46%,#95ff62 46.46% 47.47%,#8cff6b 47.47% 48.48%,#84ff73 48.48% 49.49%,#7bff7b 49.49% 50.51%,#73ff84 50.51% 51.52%,#6bff8c 51.52% 52.53%,#62ff95 52.53% 53.54%,#5aff9d 53.54% 54.55%,#51ffa5 54.55% 55.56%,#49ffae 55.56% 56.57%,#41ffb6 56.57% 57.58%,#38ffbf 57.58% 58.59%,#30ffc7 58.59% 59.60%,#27ffcf 59.60% 60.61%,#1fffd8 60.61% 61.62%,#17ffe0 61.62% 62.63%,#0ef7e9 62.63% 63.64%,#06edf1 63.64% 64.65%,#00e2f9 64.65% 65.66%,#00d8ff 65.66% 66.67%,#00ceff 66.67% 67.68%,#00c3ff 67.68% 68.69%,#00b9ff 68.69% 69.70%,#00aeff 69.70% 70.71%,#00a4ff 70.71% 71.72%,#009aff 71.72% 72.73%,#008fff 72.73% 73.74%,#0085ff 73.74% 74.75%,#007aff 74.75% 75.76%,#0070ff 75.76% 76.77%,#0065ff 76.77% 77.78%,#005bff 77.78% 78.79%,#0051ff 78.79% 79.80%,#0046ff 79.80% 80.81%,#003cff 80.81% 81.82%,#0031ff 81.82% 82.83%,#0027ff 82.83% 83.84%,#001dff 83.84% 84.85%,#0012ff 84.85% 85.86%,#0008ff 85.86% 86.87%,#0000ff 86.87% 87.88%,#0000ff 87.88% 88.89%,#0000f6 88.89% 89.90%,#0000ea 89.90% 90.91%,#0000de 90.91% 91.92%,#0000d2 91.92% 92.93%,#0000c6 92.93% 93.94%,#0000bb 93.94% 94.95%,#0000af 94.95% 95.96%,#0000a3 95.96% 96.97%,#000097 96.97% 97.98%,#00008b 97.98% 98.99%,#000080 98.99% 100.00%)"></div>
<svg class="ov" width="1346" height="475" viewBox="0 0 1346 475"><path d="M161.55 29.30V393.60" stroke="#fff" stroke-width="3.6" fill="none"/><path d="M95.03 28.60H488.77M95.03 394.30H488.77M511.12 28.75H531.38M511.12 394.30H531.38M89.90 394.30H95.90M89.90 321.16H95.90M89.90 248.02H95.90M89.90 174.88H95.90M89.90 101.74H95.90M89.90 28.60H95.90M530.50 394.30H537.10M530.50 357.58H537.10M530.50 320.86H537.10M530.50 284.14H537.10M530.50 247.42H537.10M530.50 210.70H537.10M530.50 173.98H537.10M530.50 137.26H537.10M530.50 100.54H537.10M530.50 63.82H537.10" stroke="#000" stroke-width="1.40" fill="none"/><path d="M95.90 28.60V394.30M487.90 28.60V394.30M512.00 28.75V394.30M530.50 28.75V394.30M95.90 394.30V400.60M226.57 394.30V400.60M357.23 394.30V400.60M487.90 394.30V400.60" stroke="#000" stroke-width="1.75" fill="none"/></svg>
<div class="t yl" style="left:20.00px;top:394.30px">0</div>
<div class="t yl" style="left:20.00px;top:321.16px">20</div>
<div class="t yl" style="left:20.00px;top:248.02px">40</div>
<div class="t yl" style="left:20.00px;top:174.88px">60</div>
<div class="t yl" style="left:20.00px;top:101.74px">80</div>
<div class="t yl" style="left:20.00px;top:28.60px">100</div>
<div class="t xl" style="left:95.90px">0</div>
<div class="t xl" style="left:226.57px">1</div>
<div class="t xl" style="left:357.23px">2</div>
<div class="t xl" style="left:487.90px">3</div>
<div class="t cl" style="left:542.50px;top:394.30px">0.00</div>
<div class="t cl" style="left:542.50px;top:357.58px">0.03</div>
<div class="t cl" style="left:542.50px;top:320.86px">0.06</div>
<div class="t cl" style="left:542.50px;top:284.14px">0.08</div>
<div class="t cl" style="left:542.50px;top:247.42px">0.11</div>
<div class="t cl" style="left:542.50px;top:210.70px">0.14</div>
<div class="t cl" style="left:542.50px;top:173.98px">0.17</div>
<div class="t cl" style="left:542.50px;top:137.26px">0.20</div>
<div class="t cl" style="left:542.50px;top:100.54px">0.22</div>
<div class="t cl" style="left:542.50px;top:63.82px">0.25</div>
<span class="g"><span class="p it" id="pl_a_a" style="font-size:42px;transform:translate(-0.62px,-4.27px) scale(1.0127,0.9877)">a</span></span>
<span class="g"><span class="p" id="mod_a" style="font-size:33.5px;transform:translate(136.64px,436.48px) scale(1.0113,1.0564)">Modulation</span> <span class="p it" id="V_a" style="font-size:33.5px;transform:translate(305.83px,436.01px) scale(1.1181,1.0511)">V</span><span class="p" id="sig_a" style="font-size:24px;transform:translate(325.27px,449.00px) scale(1.0161,1.0324)">sig</span> <span class="p" id="lb_a" style="font-size:33.5px;transform:translate(366.55px,434.32px) scale(0.6799,1.2453)">[</span><span class="p" id="snu_a" style="font-size:33.5px;transform:translate(372.44px,434.29px) scale(0.9767,1.1539)">SNU</span><span class="p" id="rb_a" style="font-size:33.5px;transform:translate(438.25px,434.32px) scale(0.6611,1.2453)">]</span></span>
<span class="g"><span class="p" id="trans_a" style="font-size:33px;transform:translate(-2.42px,355.90px) rotate(-90deg) scale(1.0185,1.0939)">Transmissivity</span> <span class="p it" id="T_a" style="font-size:33px;transform:translate(-2.51px,148.19px) rotate(-90deg) scale(1.3373,1.1373)">T</span> <span class="p" id="ylb_a" style="font-size:33px;transform:translate(-4.33px,108.34px) rotate(-90deg) scale(0.7175,1.2774)">[</span><span class="p" id="pct_a" style="font-size:33px;transform:translate(-6.12px,102.02px) rotate(-90deg) scale(0.9885,1.2682)">%</span><span class="p" id="yrb_a" style="font-size:33px;transform:translate(-4.33px,76.77px) rotate(-90deg) scale(0.7174,1.2774)">]</span></span>
<span class="g"><span class="p it" id="chi_a" style="font-size:33px;transform:translate(614.44px,304.39px) rotate(-90deg) scale(1.0986,1.0493)">χ</span><span class="p" id="EB_a" style="font-size:24px;transform:translate(626.37px,285.92px) rotate(-90deg) scale(1.0026,1.1131)">EB</span> <span class="p" id="clb_a" style="font-size:33px;transform:translate(611.87px,241.54px) rotate(-90deg) scale(0.8016,1.2526)">[</span><span class="p" id="bits_a" style="font-size:33px;transform:translate(615.14px,232.37px) rotate(-90deg) scale(1.0132,1.0491)">bits</span><span class="p" id="sl_a" style="font-size:33px;transform:translate(608.79px,182.27px) rotate(-90deg) scale(1.4426,1.5547)">/</span><span class="p" id="use_a" style="font-size:33px;transform:translate(617.08px,166.25px) rotate(-90deg) scale(0.8970,0.9779)">use</span><span class="p" id="crb_a" style="font-size:33px;transform:translate(611.87px,125.64px) rotate(-90deg) scale(0.8002,1.2526)">]</span></span>
<div class="heat" style="left:792px"><i style="height:1px;background:linear-gradient(90deg,#000082,#000081,#000081,#000081,#000080,#000080,#000080,#000080,#000080,#000080,#000080,#000080,#000080,#000080,#000080,#000080,#000081,#000081,#000081,#000081,#000081,#000081,#000081,#000082,#000082,#000082,#000082,#000082,#000082,#000083,#000083,#000083,#000083,#000083,#000084,#000084,#000084,#000084,#000084,#000085,#000085,#000085,#000085,#000085,#000086,#000086,#000086,#000086,#000086,#000087)"></i><i style="height:1px;background:linear-gradient(90deg,#000087,#000085,#000084,#000083,#000082,#000081,#000081,#000081,#000081,#000081,#000081,#000081,#000081,#000082,#000082,#000082,#000083,#000083,#000083,#000084,#000084,#000085,#000085,#000086,#000086,#000087,#000087,#000088,#000088,#000089,#00008a,#00008a,#00008b,#00008b,#00008c,#00008c,#00008d,#00008e,#00008e,#00008f,#00008f,#000090,#000091,#000091,#000092,#000093,#000093,#000094,#000094,#000095)"></i><i style="height:1px;background:linear-gradient(90deg,#00008c,#000088,#000086,#000084,#000083,#000082,#000082,#000082,#000082,#000082,#000082,#000082,#000082,#000083,#000083,#000084,#000085,#000085,#000086,#000087,#000087,#000088,#000089,#00008a,#00008b,#00008c,#00008c,#00008d,#00008e,#00008f,#000090,#000091,#000092,#000093,#000094,#000095,#000096,#000097,#000098,#000099,#00009a,#00009b,#00009c,#00009d,#00009e,#00009f,#0000a0,#0000a1,#0000a2,#0000a3)"></i><i style="height:1px;background:linear-gradient(90deg,#000090,#00008c,#000089,#000086,#000085,#000084,#000083,#000082,#000082,#000082,#000083,#000083,#000083,#000084,#000085,#000086,#000086,#000087,#000088,#000089,#00008a,#00008c,#00008d,#00008e,#00008f,#000090,#000091,#000093,#000094,#000095,#000097,#000098,#000099,#00009b,#00009c,#00009d,#00009f,#0000a0,#0000a1,#0000a3,#0000a4,#0000a6,#0000a7,#0000a9,#0000aa,#0000ab,#0000ad,#0000ae,#0000b0,#0000b1)"></i><i style="height:1px;background:linear-gradient(90deg,#000095,#00008f,#00008b,#000088,#000086,#000085,#000084,#000083,#000083,#000083,#000083,#000084,#000085,#000085,#000086,#000087,#000088,#00008a,#00008b,#00008c,#00008d,#00008f,#000090,#000092,#000093,#000095,#000096,#000098,#00009a,#00009b,#00009d,#00009f,#0000a0,#0000a2,#0000a4,#0000a6,#0000a7,#0000a9,#0000ab,#0000ad,#0000ae,#0000b0,#0000b2,#0000b4,#0000b6,#0000b8,#0000b9,#0000bb,#0000bd,#0000bf)"></i><i style="height:1px;background:linear-gradient(90deg,#00009a,#000093,#00008e,#00008a,#000087,#000086,#000085,#000084,#000084,#000084,#000084,#000085,#000086,#000087,#000088,#000089,#00008a,#00008c,#00008d,#00008f,#000090,#000092,#000094,#000096,#000098,#000099,#00009b,#00009d,#00009f,#0000a1,#0000a3,#0000a5,#0000a7,#0000aa,#0000ac,#0000ae,#0000b0,#0000b2,#0000b4,#0000b6,#0000b9,#0000bb,#0000bd,#0000bf,#0000c1,#0000c4,#0000c6,#0000c8,#0000ca,#0000cd)"></i><i style="height:1px;background:linear-gradient(90deg,#00009e,#000096,#000090,#00008c,#000089,#000087,#000085,#000085,#000084,#000084,#000085,#000086,#000087,#000088,#000089,#00008a,#00008c,#00008e,#000090,#000091,#000093,#000095,#000097,#00009a,#00009c,#00009e,#0000a0,#0000a3,#0000a5,#0000a7,#0000aa,#0000ac,#0000ae,#0000b1,#0000b3,#0000b6,#0000b8,#0000bb,#0000be,#0000c0,#0000c3,#0000c5,#0000c8,#0000ca,#0000cd,#0000d0,#0000d2,#0000d5,#0000d8,#0000da)"></i><i style="height:1px;background:linear-gradient(90deg,#0000a3,#000099,#000093,#00008e,#00008a,#000088,#000086,#000085,#000085,#000085,#000086,#000086,#000088,#000089,#00008a,#00008c,#00008e,#000090,#000092,#000094,#000096,#000099,#00009b,#00009d,#0000a0,#0000a3,#0000a5,#0000a8,#0000aa,#0000ad,#0000b0,#0000b3,#0000b5,#0000b8,#0000bb,#0000be,#0000c1,#0000c4,#0000c7,#0000ca,#0000cd,#0000d0,#0000d3,#0000d6,#0000d9,#0000dc,#0000df,#0000e2,#0000e5,#0000e8)"></i><i style="height:1px;background:linear-gradient(90deg,#0000a7,#00009d,#000095,#00008f,#00008b,#000089,#000087,#000086,#000086,#000086,#000086,#000087,#000089,#00008a,#00008c,#00008e,#000090,#000092,#000094,#000097,#000099,#00009c,#00009e,#0000a1,#0000a4,#0000a7,#0000aa,#0000ad,#0000b0,#0000b3,#0000b6,#0000b9,#0000bc,#0000c0,#0000c3,#0000c6,#0000c9,#0000cd,#0000d0,#0000d3,#0000d6,#0000da,#0000dd,#0000e0,#0000e4,#0000e7,#0000eb,#0000ee,#0000f1,#0000f5)"></i><i style="height:1px;background:linear-gradient(90deg,#0000ac,#0000a0,#000097,#000091,#00008d,#00008a,#000088,#000087,#000086,#000087,#000087,#000088,#00008a,#00008b,#00008d,#00008f,#000092,#000094,#000097,#000099,#00009c,#00009f,#0000a2,#0000a5,#0000a8,#0000ab,#0000af,#0000b2,#0000b5,#0000b9,#0000bc,#0000c0,#0000c3,#0000c7,#0000ca,#0000ce,#0000d2,#0000d5,#0000d9,#0000dd,#0000e0,#0000e4,#0000e8,#0000eb,#0000ef,#0000f3,#0000f7,#0000fa,#0000fe,#0000ff)"></i><i style="height:1px;background:linear-gradient(90deg,#0000b0,#0000a3,#00009a,#000093,#00008e,#00008b,#000089,#000087,#000087,#000087,#000088,#000089,#00008b,#00008c,#00008e,#000091,#000093,#000096,#000099,#00009c,#00009f,#0000a2,#0000a5,#0000a9,#0000ac,#0000b0,#0000b3,#0000b7,#0000bb,#0000bf,#0000c2,#0000c6,#0000ca,#0000ce,#0000d2,#0000d6,#0000da,#0000de,#0000e2,#0000e6,#0000ea,#0000ee,#0000f2,#0000f6,#0000fa,#0000fe,#0000ff,#0000ff,#0000ff,#0000ff)"></i><i style="height:1px;background:linear-gradient(90deg,#0000b5,#0000a6,#00009c,#000095,#00008f,#00008c,#000089,#000088,#000088,#000088,#000089,#00008a,#00008c,#00008d,#000090,#000092,#000095,#000098,#00009b,#00009e,#0000a2,#0000a5,#0000a9,#0000ad,#0000b0,#0000b4,#0000b8,#0000bc,#0000c0,#0000c4,#0000c8,#0000cd,#0000d1,#0000d5,#0000d9,#0000de,#0000e2,#0000e6,#0000eb,#0000ef,#0000f4,#0000f8,#0000fc,#0000ff,#0000ff,#0000ff,#0000ff,#0002ff,#0006ff,#000aff)"></i><i style="height:2px;background:linear-gradient(90deg,#0000bb,#0000ab,#00009f,#000097,#000091,#00008d,#00008b,#000089,#000089,#000089,#00008a,#00008b,#00008d,#00008f,#000092,#000095,#000098,#00009b,#00009f,#0000a2,#0000a6,#0000aa,#0000ae,#0000b2,#0000b6,#0000bb,#0000bf,#0000c4,#0000c8,#0000cd,#0000d1,#0000d6,#0000db,#0000e0,#0000e4,#0000e9,#0000ee,#0000f3,#0000f8,#0000fd,#0000ff,#0000ff,#0000ff,#0000ff,#0005ff,#0009ff,#000eff,#0012ff,#0016ff,#001bff)"></i><i style="height:2px;background:linear-gradient(90deg,#0000c4,#0000b1,#0000a4,#00009a,#000094,#00008f,#00008c,#00008a,#00008a,#00008a,#00008b,#00008d,#00008f,#000091,#000094,#000098,#00009b,#00009f,#0000a3,#0000a7,#0000ac,#0000b0,#0000b5,#0000ba,#0000be,#0000c3,#0000c8,#0000ce,#0000d3,#0000d8,#0000dd,#0000e3,#0000e8,#0000ed,#0000f3,#0000f8,#0000fe,#0000ff,#0000ff,#0000ff,#0004ff,#0009ff,#000eff,#0013ff,#0018ff,#001dff,#0022ff,#0027ff,#002cff,#0031ff)"></i><i style="height:2px;background:linear-gradient(90deg,#0000cc,#0000b8,#0000a9,#00009e,#000096,#000091,#00008e,#00008c,#00008b,#00008b,#00008c,#00008e,#000091,#000094,#000097,#00009b,#00009f,#0000a3,#0000a7,#0000ac,#0000b1,#0000b6,#0000bb,#0000c1,#0000c6,#0000cc,#0000d1,#0000d7,#0000dd,#0000e3,#0000e9,#0000ef,#0000f5,#0000fb,#0000ff,#0000ff,#0000ff,#0003ff,#0009ff,#000eff,#0014ff,#0019ff,#001fff,#0025ff,#002aff,#0030ff,#0035ff,#003bff,#0041ff,#0046ff)"></i><i style="height:2px;background:linear-gradient(90deg,#0000d5,#0000be,#0000ad,#0000a1,#000099,#000093,#00008f,#00008d,#00008c,#00008d,#00008e,#000090,#000093,#000096,#000099,#00009e,#0000a2,#0000a7,#0000ac,#0000b1,#0000b6,#0000bc,#0000c2,#0000c8,#0000ce,#0000d4,#0000da,#0000e1,#0000e7,#0000ee,#0000f4,#0000fb,#0000ff,#0000ff,#0000ff,#0005ff,#000bff,#0011ff,#0017ff,#001eff,#0024ff,#002aff,#0030ff,#0036ff,#003cff,#0043ff,#0049ff,#004fff,#0055ff,#005bff)"></i><i style="height:2px;background:linear-gradient(90deg,#0000dd,#0000c4,#0000b1,#0000a4,#00009b,#000095,#000090,#00008e,#00008d,#00008e,#00008f,#000091,#000094,#000098,#00009c,#0000a0,#0000a5,#0000ab,#0000b0,#0000b6,#0000bc,#0000c2,#0000c8,#0000cf,#0000d6,#0000dc,#0000e3,#0000ea,#0000f1,#0000f9,#0000ff,#0000ff,#0000ff,#0005ff,#000bff,#0012ff,#0019ff,#001fff,#0026ff,#002dff,#0033ff,#003aff,#0041ff,#0047ff,#004eff,#0055ff,#005cff,#0063ff,#0069ff,#0070ff)"></i><i style="height:2px;background:linear-gradient(90deg,#0000e5,#0000ca,#0000b6,#0000a7,#00009d,#000096,#000092,#00008f,#00008f,#00008f,#000091,#000093,#000096,#00009a,#00009e,#0000a3,#0000a9,#0000ae,#0000b4,#0000bb,#0000c1,#0000c8,#0000cf,#0000d6,#0000dd,#0000e5,#0000ec,#0000f4,#0000fb,#0000ff,#0000ff,#0002ff,#0009ff,#0010ff,#0017ff,#001fff,#0026ff,#002dff,#0034ff,#003bff,#0043ff,#004aff,#0051ff,#0059ff,#0060ff,#0067ff,#006eff,#0076ff,#007dff,#0084ff)"></i><i style="height:2px;background:linear-gradient(90deg,#0000ed,#0000cf,#0000ba,#0000ab,#0000a0,#000098,#000093,#000091,#000090,#000090,#000092,#000094,#000098,#00009c,#0000a1,#0000a6,#0000ac,#0000b2,#0000b9,#0000bf,#0000c6,#0000ce,#0000d5,#0000dd,#0000e5,#0000ed,#0000f5,#0000fd,#0000ff,#0000ff,#0005ff,#000cff,#0014ff,#001cff,#0023ff,#002bff,#0033ff,#003aff,#0042ff,#004aff,#0052ff,#005aff,#0061ff,#0069ff,#0071ff,#0079ff,#0081ff,#0089ff,#0091ff,#0098ff)"></i><i style="height:2px;background:linear-gradient(90deg,#0000f5,#0000d5,#0000be,#0000ae,#0000a2,#00009a,#000095,#000092,#000091,#000091,#000093,#000096,#00009a,#00009e,#0000a3,#0000a9,#0000af,#0000b6,#0000bd,#0000c4,#0000cc,#0000d3,#0000db,#0000e4,#0000ec,#0000f4,#0000fd,#0000ff,#0000ff,#0006ff,#000eff,#0016ff,#001fff,#0027ff,#002fff,#0037ff,#003fff,#0048ff,#0050ff,#0058ff,#0061ff,#0069ff,#0071ff,#007aff,#0082ff,#008aff,#0093ff,#009bff,#00a4ff,#00acff)"></i><i style="height:2px;background:linear-gradient(90deg,#0000fd,#0000db,#0000c2,#0000b1,#0000a4,#00009c,#000096,#000093,#000092,#000093,#000094,#000098,#00009b,#0000a0,#0000a6,#0000ac,#0000b2,#0000b9,#0000c1,#0000c9,#0000d1,#0000d9,#0000e2,#0000ea,#0000f3,#0000fc,#0000ff,#0000ff,#0007ff,#000fff,#0018ff,#0020ff,#0029ff,#0032ff,#003aff,#0043ff,#004cff,#0055ff,#005dff,#0066ff,#006fff,#0078ff,#0081ff,#008aff,#0093ff,#009cff,#00a5ff,#00adff,#00b6ff,#00bfff)"></i><i style="height:2px;background:linear-gradient(90deg,#0000ff,#0000e0,#0000c7,#0000b4,#0000a6,#00009d,#000098,#000094,#000093,#000094,#000096,#000099,#00009d,#0000a2,#0000a8,#0000af,#0000b6,#0000bd,#0000c5,#0000cd,#0000d6,#0000df,#0000e8,#0000f1,#0000fa,#0000ff,#0000ff,#0006ff,#000fff,#0018ff,#0021ff,#002aff,#0033ff,#003cff,#0046ff,#004fff,#0058ff,#0061ff,#006bff,#0074ff,#007eff,#0087ff,#0090ff,#009aff,#00a3ff,#00acff,#00b6ff,#00bfff,#00c9ff,#00d2ff)"></i><i style="height:2px;background:linear-gradient(90deg,#0000ff,#0000e6,#0000cb,#0000b7,#0000a9,#00009f,#000099,#000095,#000094,#000095,#000097,#00009a,#00009f,#0000a4,#0000aa,#0000b1,#0000b9,#0000c1,#0000c9,#0000d2,#0000db,#0000e4,#0000ee,#0000f7,#0000ff,#0000ff,#0005ff,#000eff,#0017ff,#0021ff,#002aff,#0034ff,#003dff,#0047ff,#0051ff,#005bff,#0064ff,#006eff,#0078ff,#0082ff,#008cff,#0096ff,#009fff,#00a9ff,#00b3ff,#00bdff,#00c7ff,#00d1ff,#00dbff,#00e5f8)"></i><i style="height:2px;background:linear-gradient(90deg,#0003ff,#0000eb,#0000cf,#0000ba,#0000ab,#0000a1,#00009a,#000097,#000095,#000096,#000098,#00009c,#0000a1,#0000a6,#0000ad,#0000b4,#0000bc,#0000c4,#0000cd,#0000d6,#0000e0,#0000e9,#0000f4,#0000fe,#0000ff,#0002ff,#000cff,#0016ff,#001fff,#0029ff,#0033ff,#003dff,#0047ff,#0052ff,#005cff,#0066ff,#0070ff,#007bff,#0085ff,#008fff,#0099ff,#00a4ff,#00aeff,#00b9ff,#00c3ff,#00cdff,#00d8ff,#00e2fa,#06ecf1,#0ef7e9)"></i><i style="height:2px;background:linear-gradient(90deg,#0009ff,#0000f1,#0000d2,#0000bd,#0000ad,#0000a2,#00009c,#000098,#000096,#000097,#00009a,#00009d,#0000a2,#0000a8,#0000af,#0000b7,#0000bf,#0000c8,#0000d1,#0000da,#0000e4,#0000ef,#0000f9,#0000ff,#0000ff,#0009ff,#0013ff,#001dff,#0027ff,#0032ff,#003cff,#0047ff,#0051ff,#005cff,#0066ff,#0071ff,#007cff,#0087ff,#0091ff,#009cff,#00a7ff,#00b2ff,#00bdff,#00c8ff,#00d2ff,#00ddfd,#02e8f5,#0bf3ec,#13fee3,#1cffdb)"></i><i style="height:2px;background:linear-gradient(90deg,#000fff,#0000f6,#0000d6,#0000bf,#0000af,#0000a4,#00009d,#000099,#000098,#000098,#00009b,#00009f,#0000a4,#0000aa,#0000b1,#0000b9,#0000c2,#0000cb,#0000d5,#0000df,#0000e9,#0000f4,#0000ff,#0000ff,#0005ff,#000fff,#001aff,#0024ff,#002fff,#003aff,#0045ff,#0050ff,#005bff,#0066ff,#0071ff,#007cff,#0087ff,#0093ff,#009eff,#00a9ff,#00b5ff,#00c0ff,#00cbff,#00d6ff,#00e2fa,#06edf1,#0ff8e8,#18ffdf,#21ffd6,#2affcd)"></i><i style="height:2px;background:linear-gradient(90deg,#0015ff,#0000fb,#0000da,#0000c2,#0000b1,#0000a6,#00009e,#00009a,#000099,#000099,#00009c,#0000a0,#0000a6,#0000ac,#0000b4,#0000bc,#0000c5,#0000ce,#0000d9,#0000e3,#0000ee,#0000f9,#0000ff,#0000ff,#000bff,#0016ff,#0021ff,#002cff,#0037ff,#0042ff,#004dff,#0059ff,#0064ff,#0070ff,#007cff,#0087ff,#0093ff,#009fff,#00aaff,#00b6ff,#00c2ff,#00cdff,#00d9ff,#00e5f7,#09f1ee,#12fce4,#1cffdb,#25ffd2,#2fffc8,#38ffbf)"></i><i style="height:2px;background:linear-gradient(90deg,#001cff,#0000ff,#0000de,#0000c5,#0000b3,#0000a7,#0000a0,#00009b,#00009a,#00009b,#00009d,#0000a2,#0000a7,#0000ae,#0000b6,#0000bf,#0000c8,#0000d2,#0000dc,#0000e7,#0000f3,#0000fe,#0000ff,#0006ff,#0011ff,#001cff,#0027ff,#0033ff,#003eff,#004aff,#0056ff,#0062ff,#006eff,#007aff,#0086ff,#0092ff,#009eff,#00aaff,#00b6ff,#00c2ff,#00cfff,#00dbff,#01e7f6,#0bf3ec,#15ffe2,#1fffd8,#28ffce,#32ffc5,#3cffbb,#46ffb1)"></i><i style="height:2px;background:linear-gradient(90deg,#0022ff,#0000ff,#0000e2,#0000c8,#0000b6,#0000a9,#0000a1,#00009c,#00009b,#00009c,#00009f,#0000a3,#0000a9,#0000b0,#0000b8,#0000c1,#0000cb,#0000d5,#0000e0,#0000ec,#0000f7,#0000ff,#0000ff,#000bff,#0016ff,#0022ff,#002eff,#003aff,#0046ff,#0052ff,#005eff,#006bff,#0077ff,#0083ff,#0090ff,#009cff,#00a9ff,#00b6ff,#00c2ff,#00cfff,#00dbff,#02e8f5,#0cf5eb,#16ffe0,#20ffd6,#2bffcc,#35ffc2,#3fffb8,#49ffae,#53ffa4)"></i><i style="height:2px;background:linear-gradient(90deg,#0028ff,#0000ff,#0000e5,#0000cb,#0000b8,#0000aa,#0000a2,#00009d,#00009c,#00009d,#0000a0,#0000a4,#0000ab,#0000b2,#0000ba,#0000c4,#0000ce,#0000d9,#0000e4,#0000f0,#0000fc,#0000ff,#0005ff,#0010ff,#001cff,#0028ff,#0034ff,#0041ff,#004dff,#005aff,#0066ff,#0073ff,#0080ff,#008dff,#009aff,#00a7ff,#00b4ff,#00c1ff,#00ceff,#00dbff,#02e8f5,#0cf5ea,#17ffe0,#21ffd5,#2cffcb,#36ffc0,#41ffb6,#4bffac,#56ffa1,#60ff97)"></i><i style="height:2px;background:linear-gradient(90deg,#002dff,#0000ff,#0000e9,#0000cd,#0000ba,#0000ac,#0000a3,#00009f,#00009d,#00009e,#0000a1,#0000a6,#0000ac,#0000b4,#0000bd,#0000c6,#0000d1,#0000dc,#0000e8,#0000f4,#0000ff,#0000ff,#0009ff,#0015ff,#0022ff,#002eff,#003bff,#0048ff,#0054ff,#0061ff,#006fff,#007cff,#0089ff,#0096ff,#00a4ff,#00b1ff,#00beff,#00ccff,#00d9ff,#01e7f6,#0cf4eb,#17ffe0,#21ffd5,#2cffca,#37ffc0,#42ffb5,#4dffaa,#57ff9f,#62ff95,#6dff8a)"></i><i style="height:2px;background:linear-gradient(90deg,#0033ff,#0003ff,#0000ed,#0000d0,#0000bc,#0000ae,#0000a5,#0000a0,#00009e,#00009f,#0000a2,#0000a7,#0000ae,#0000b6,#0000bf,#0000c9,#0000d4,#0000df,#0000eb,#0000f8,#0000ff,#0002ff,#000eff,#001aff,#0027ff,#0034ff,#0041ff,#004eff,#005cff,#0069ff,#0077ff,#0084ff,#0092ff,#00a0ff,#00adff,#00bbff,#00c9ff,#00d7ff,#00e5f8,#0af2ec,#16ffe1,#21ffd6,#2cffcb,#37ffc0,#42ffb5,#4dffaa,#58ff9e,#63ff93,#6eff88,#79ff7d)"></i><i style="height:2px;background:linear-gradient(90deg,#0039ff,#0008ff,#0000f0,#0000d3,#0000be,#0000af,#0000a6,#0000a1,#00009f,#0000a0,#0000a3,#0000a9,#0000af,#0000b8,#0000c1,#0000cb,#0000d6,#0000e2,#0000ef,#0000fc,#0000ff,#0006ff,#0013ff,#001fff,#002dff,#003aff,#0047ff,#0055ff,#0063ff,#0070ff,#007eff,#008cff,#009bff,#00a9ff,#00b7ff,#00c5ff,#00d3ff,#00e1fa,#08f0ef,#14fee3,#1fffd8,#2bffcc,#36ffc1,#42ffb5,#4dffaa,#58ff9e,#64ff93,#6fff88,#7aff7c,#86ff71)"></i><i style="height:2px;background:linear-gradient(90deg,#003eff,#000cff,#0000f4,#0000d5,#0000c0,#0000b1,#0000a7,#0000a2,#0000a0,#0000a1,#0000a5,#0000aa,#0000b1,#0000b9,#0000c3,#0000ce,#0000d9,#0000e5,#0000f2,#0000ff,#0000ff,#000aff,#0017ff,#0024ff,#0032ff,#0040ff,#004dff,#005bff,#006aff,#0078ff,#0086ff,#0095ff,#00a3ff,#00b2ff,#00c0ff,#00cfff,#00ddfd,#05ecf2,#11fbe6,#1dffda,#29ffce,#34ffc2,#40ffb7,#4cffab,#58ff9f,#63ff94,#6fff88,#7bff7c,#86ff71,#92ff65)"></i><i style="height:2px;background:linear-gradient(90deg,#0044ff,#0010ff,#0000f7,#0000d8,#0000c1,#0000b2,#0000a8,#0000a3,#0000a1,#0000a2,#0000a6,#0000ab,#0000b3,#0000bb,#0000c5,#0000d0,#0000dc,#0000e9,#0000f6,#0000ff,#0001ff,#000eff,#001cff,#0029ff,#0037ff,#0045ff,#0054ff,#0062ff,#0070ff,#007fff,#008eff,#009dff,#00abff,#00baff,#00c9ff,#00d8ff,#01e7f5,#0ef6e9,#1affdd,#26ffd1,#32ffc5,#3effb9,#4affad,#56ffa1,#62ff95,#6eff89,#7aff7d,#86ff71,#92ff65,#9eff59)"></i><i style="height:2px;background:linear-gradient(90deg,#0049ff,#0014ff,#0000fa,#0000da,#0000c3,#0000b4,#0000aa,#0000a4,#0000a2,#0000a3,#0000a7,#0000ad,#0000b4,#0000bd,#0000c7,#0000d2,#0000df,#0000ec,#0000f9,#0000ff,#0005ff,#0013ff,#0020ff,#002eff,#003cff,#004bff,#0059ff,#0068ff,#0077ff,#0086ff,#0095ff,#00a4ff,#00b4ff,#00c3ff,#00d2ff,#00e2fa,#09f1ed,#16ffe1,#22ffd5,#2fffc8,#3bffbc,#47ffb0,#54ffa3,#60ff97,#6cff8b,#79ff7e,#85ff72,#91ff66,#9dff5a,#a9ff4e)"></i><i style="height:2px;background:linear-gradient(90deg,#004fff,#0018ff,#0000fe,#0000dd,#0000c5,#0000b5,#0000ab,#0000a5,#0000a3,#0000a4,#0000a8,#0000ae,#0000b6,#0000bf,#0000c9,#0000d5,#0000e1,#0000ef,#0000fd,#0000ff,#0009ff,#0017ff,#0025ff,#0033ff,#0042ff,#0050ff,#005fff,#006fff,#007eff,#008dff,#009dff,#00acff,#00bcff,#00ccff,#00dbff,#04ebf2,#11fbe6,#1effd9,#2affcc,#37ffc0,#44ffb3,#50ffa6,#5dff9a,#6aff8d,#76ff80,#83ff74,#8fff67,#9cff5b,#a8ff4e,#b5ff42)"></i><i style="height:2px;background:linear-gradient(90deg,#0054ff,#001cff,#0000ff,#0000df,#0000c7,#0000b7,#0000ac,#0000a6,#0000a4,#0000a5,#0000a9,#0000af,#0000b7,#0000c1,#0000cb,#0000d7,#0000e4,#0000f2,#0000ff,#0000ff,#000dff,#001bff,#0029ff,#0038ff,#0047ff,#0056ff,#0065ff,#0075ff,#0084ff,#0094ff,#00a4ff,#00b4ff,#00c4ff,#00d4ff,#00e4f8,#0cf4eb,#19ffde,#26ffd1,#33ffc4,#40ffb7,#4dffaa,#5aff9d,#66ff90,#73ff83,#80ff77,#8dff6a,#9aff5d,#a7ff50,#b3ff44,#c0ff37)"></i><i style="height:2px;background:linear-gradient(90deg,#0059ff,#001fff,#0000ff,#0000e2,#0000c9,#0000b8,#0000ad,#0000a7,#0000a5,#0000a6,#0000aa,#0000b1,#0000b9,#0000c2,#0000cd,#0000da,#0000e7,#0000f5,#0000ff,#0002ff,#0010ff,#001fff,#002dff,#003cff,#004cff,#005bff,#006bff,#007bff,#008bff,#009bff,#00abff,#00bbff,#00ccff,#00dcfe,#06edf1,#13fde4,#20ffd7,#2dffc9,#3bffbc,#48ffaf,#55ffa2,#62ff94,#70ff87,#7dff7a,#8aff6d,#97ff60,#a4ff53,#b1ff46,#beff39,#cbff2c)"></i><i style="height:2px;background:linear-gradient(90deg,#005eff,#0023ff,#0000ff,#0000e4,#0000cb,#0000b9,#0000ae,#0000a8,#0000a6,#0000a7,#0000ac,#0000b2,#0000ba,#0000c4,#0000cf,#0000dc,#0000e9,#0000f8,#0000ff,#0005ff,#0014ff,#0022ff,#0031ff,#0041ff,#0051ff,#0060ff,#0070ff,#0081ff,#0091ff,#00a2ff,#00b2ff,#00c3ff,#00d3ff,#00e4f8,#0cf5ea,#1affdd,#28ffcf,#35ffc2,#43ffb4,#50ffa7,#5eff99,#6bff8c,#79ff7e,#86ff71,#93ff63,#a1ff56,#aeff49,#bbff3c,#c8ff2e,#d6ff21)"></i><i style="height:2px;background:linear-gradient(90deg,#0063ff,#0027ff,#0000ff,#0000e6,#0000cd,#0000bb,#0000b0,#0000a9,#0000a7,#0000a9,#0000ad,#0000b3,#0000bc,#0000c6,#0000d1,#0000de,#0000ec,#0000fb,#0000ff,#0009ff,#0017ff,#0026ff,#0036ff,#0045ff,#0055ff,#0066ff,#0076ff,#0087ff,#0097ff,#00a8ff,#00b9ff,#00caff,#00dbff,#05ecf1,#13fde4,#21ffd6,#2fffc8,#3dffba,#4affac,#58ff9f,#66ff91,#74ff83,#81ff75,#8fff68,#9dff5a,#aaff4c,#b8ff3f,#c5ff31,#d3ff24,#e0ff17)"></i><i style="height:2px;background:linear-gradient(90deg,#0068ff,#002bff,#0000ff,#0000e9,#0000ce,#0000bc,#0000b1,#0000aa,#0000a8,#0000aa,#0000ae,#0000b4,#0000bd,#0000c8,#0000d3,#0000e0,#0000ee,#0000fd,#0000ff,#000cff,#001bff,#002aff,#003aff,#004aff,#005aff,#006bff,#007bff,#008cff,#009dff,#00afff,#00c0ff,#00d1ff,#00e3f9,#0cf4eb,#1affdd,#28ffcf,#36ffc1,#44ffb3,#52ffa5,#60ff97,#6eff89,#7cff7b,#8aff6d,#98ff5f,#a6ff51,#b4ff43,#c1ff35,#cfff28,#ddff1a,#ebff0c)"></i><i style="height:2px;background:linear-gradient(90deg,#006dff,#002eff,#0000ff,#0000eb,#0000d0,#0000be,#0000b2,#0000ab,#0000a9,#0000ab,#0000af,#0000b6,#0000bf,#0000c9,#0000d5,#0000e3,#0000f1,#0000ff,#0000ff,#000fff,#001eff,#002eff,#003eff,#004eff,#005fff,#0070ff,#0081ff,#0092ff,#00a4ff,#00b5ff,#00c7ff,#00d8ff,#04eaf3,#12fce5,#20ffd7,#2fffc8,#3dffba,#4bffac,#5aff9d,#68ff8f,#76ff81,#84ff72,#93ff64,#a1ff56,#afff48,#bdff3a,#cbff2c,#d9ff1e,#e7ff10,#f5f802)"></i><i style="height:2px;background:linear-gradient(90deg,#0071ff,#0032ff,#0003ff,#0000ed,#0000d2,#0000bf,#0000b3,#0000ac,#0000aa,#0000ac,#0000b0,#0000b7,#0000c0,#0000cb,#0000d7,#0000e5,#0000f4,#0000ff,#0003ff,#0012ff,#0021ff,#0031ff,#0042ff,#0053ff,#0064ff,#0075ff,#0086ff,#0098ff,#00a9ff,#00bbff,#00cdff,#00dffc,#09f1ed,#18ffdf,#27ffd0,#35ffc2,#44ffb3,#52ffa4,#61ff96,#6fff87,#7eff79,#8cff6a,#9bff5c,#a9ff4d,#b8ff3f,#c6ff31,#d4ff23,#e2ff14,#f1fd06,#ffed00)"></i><i style="height:2px;background:linear-gradient(90deg,#0076ff,#0035ff,#0006ff,#0000f0,#0000d4,#0000c0,#0000b4,#0000ad,#0000ab,#0000ad,#0000b1,#0000b8,#0000c2,#0000cd,#0000d9,#0000e7,#0000f6,#0000ff,#0006ff,#0015ff,#0025ff,#0035ff,#0046ff,#0057ff,#0068ff,#007aff,#008bff,#009dff,#00afff,#00c1ff,#00d4ff,#00e6f6,#0ff8e8,#1effd9,#2dffca,#3cffbb,#4bffac,#59ff9d,#68ff8f,#77ff80,#86ff71,#94ff62,#a3ff54,#b2ff45,#c0ff36,#cfff28,#ddff19,#ecff0b,#faf200,#ffe100)"></i><i style="height:2px;background:linear-gradient(90deg,#007bff,#0039ff,#0008ff,#0000f2,#0000d5,#0000c2,#0000b5,#0000ae,#0000ac,#0000ae,#0000b2,#0000ba,#0000c3,#0000ce,#0000db,#0000e9,#0000f8,#0000ff,#0008ff,#0018ff,#0028ff,#0039ff,#004aff,#005bff,#006dff,#007eff,#0090ff,#00a3ff,#00b5ff,#00c8ff,#00daff,#06edf1,#15ffe2,#24ffd3,#33ffc4,#42ffb5,#51ffa6,#60ff97,#6fff88,#7eff79,#8dff6a,#9cff5b,#abff4c,#baff3d,#c9ff2e,#d8ff1f,#e6ff11,#f5f802,#ffe700,#ffd600)"></i><i style="height:2px;background:linear-gradient(90deg,#007fff,#003cff,#000bff,#0000f4,#0000d7,#0000c3,#0000b6,#0000af,#0000ad,#0000af,#0000b3,#0000bb,#0000c4,#0000d0,#0000dd,#0000eb,#0000fb,#0000ff,#000bff,#001bff,#002bff,#003cff,#004dff,#005fff,#0071ff,#0083ff,#0096ff,#00a8ff,#00bbff,#00cdff,#00e0fb,#0bf3ec,#1affdc,#2affcd,#39ffbe,#48ffae,#58ff9f,#67ff90,#76ff81,#85ff71,#95ff62,#a4ff53,#b3ff44,#c2ff35,#d1ff26,#e0ff17,#efff08,#feed00,#ffdd00,#ffcc00)"></i><i style="height:2px;background:linear-gradient(90deg,#0083ff,#003fff,#000dff,#0000f6,#0000d9,#0000c5,#0000b8,#0000b0,#0000ae,#0000b0,#0000b5,#0000bc,#0000c6,#0000d2,#0000df,#0000ed,#0000fd,#0000ff,#000eff,#001eff,#002eff,#0040ff,#0051ff,#0063ff,#0075ff,#0088ff,#009bff,#00adff,#00c0ff,#00d3ff,#01e6f6,#10fae6,#20ffd7,#2fffc7,#3fffb8,#4effa8,#5eff99,#6eff89,#7dff7a,#8dff6a,#9cff5b,#abff4b,#bbff3c,#caff2d,#d9ff1e,#e8ff0e,#f8f500,#ffe300,#ffd200,#ffc100)"></i><i style="height:2px;background:linear-gradient(90deg,#0088ff,#0042ff,#0010ff,#0000f8,#0000da,#0000c6,#0000b9,#0000b1,#0000af,#0000b1,#0000b6,#0000bd,#0000c7,#0000d3,#0000e1,#0000f0,#0000ff,#0000ff,#0010ff,#0021ff,#0032ff,#0043ff,#0055ff,#0067ff,#007aff,#008cff,#009fff,#00b3ff,#00c6ff,#00d9ff,#06edf1,#15ffe1,#25ffd2,#35ffc2,#45ffb2,#55ffa2,#64ff92,#74ff83,#84ff73,#93ff63,#a3ff54,#b3ff44,#c2ff35,#d2ff25,#e1ff16,#f1fd06,#ffeb00,#ffda00,#ffc800,#ffb700)"></i><i style="height:2px;background:linear-gradient(90deg,#008cff,#0046ff,#0012ff,#0000fa,#0000dc,#0000c7,#0000ba,#0000b2,#0000b0,#0000b2,#0000b7,#0000bf,#0000c9,#0000d5,#0000e3,#0000f2,#0000ff,#0003ff,#0013ff,#0023ff,#0035ff,#0046ff,#0059ff,#006bff,#007eff,#0091ff,#00a4ff,#00b8ff,#00cbff,#00dffc,#0af3ec,#1affdc,#2affcc,#3affbc,#4affac,#5aff9c,#6aff8c,#7aff7c,#8aff6c,#9aff5d,#aaff4d,#baff3d,#caff2d,#d9ff1d,#e9ff0e,#f9f300,#ffe200,#ffd000,#ffbe00,#ffad00)"></i><i style="height:2px;background:linear-gradient(90deg,#0090ff,#0049ff,#0015ff,#0000fd,#0000de,#0000c8,#0000bb,#0000b3,#0000b1,#0000b3,#0000b8,#0000c0,#0000ca,#0000d6,#0000e4,#0000f4,#0000ff,#0005ff,#0015ff,#0026ff,#0038ff,#004aff,#005cff,#006fff,#0082ff,#0095ff,#00a9ff,#00bdff,#00d0ff,#00e4f8,#0ff8e8,#1fffd7,#30ffc7,#40ffb7,#50ffa7,#60ff97,#70ff86,#81ff76,#91ff66,#a1ff56,#b1ff46,#c1ff36,#d1ff26,#e1ff16,#f1fd06,#ffea00,#ffd800,#ffc600,#ffb500,#ffa300)"></i><i style="height:2px;background:linear-gradient(90deg,#0094ff,#004cff,#0017ff,#0000ff,#0000df,#0000ca,#0000bc,#0000b4,#0000b2,#0000b4,#0000b9,#0000c1,#0000cb,#0000d8,#0000e6,#0000f6,#0000ff,#0007ff,#0018ff,#0029ff,#003bff,#004dff,#0060ff,#0073ff,#0086ff,#009aff,#00aeff,#00c2ff,#00d6ff,#03eaf3,#14fee3,#24ffd3,#35ffc2,#45ffb2,#56ffa1,#66ff91,#76ff80,#87ff70,#97ff60,#a7ff4f,#b8ff3f,#c8ff2f,#d8ff1f,#e8ff0f,#f8f400,#ffe200,#ffcf00,#ffbd00,#ffab00,#ff9900)"></i><i style="height:2px;background:linear-gradient(90deg,#0098ff,#004fff,#0019ff,#0000ff,#0000e1,#0000cb,#0000bd,#0000b5,#0000b3,#0000b5,#0000ba,#0000c2,#0000cd,#0000da,#0000e8,#0000f8,#0000ff,#0009ff,#001aff,#002cff,#003eff,#0050ff,#0063ff,#0077ff,#008aff,#009eff,#00b2ff,#00c6ff,#00dbff,#08efef,#18ffde,#29ffce,#3affbd,#4affac,#5bff9c,#6cff8b,#7cff7b,#8dff6a,#9dff59,#aeff49,#beff38,#cfff28,#dfff18,#effe07,#ffeb00,#ffd900,#ffc600,#ffb400,#ffa200,#ff9000)"></i><i style="height:2px;background:linear-gradient(90deg,#009cff,#0052ff,#001bff,#0000ff,#0000e2,#0000cc,#0000be,#0000b6,#0000b4,#0000b6,#0000bb,#0000c3,#0000ce,#0000db,#0000ea,#0000fa,#0000ff,#000cff,#001dff,#002eff,#0041ff,#0054ff,#0067ff,#007aff,#008eff,#00a2ff,#00b7ff,#00cbff,#00e0fb,#0cf4eb,#1dffda,#2effc9,#3fffb8,#4fffa7,#60ff97,#71ff86,#82ff75,#93ff64,#a3ff53,#b4ff43,#c5ff32,#d5ff21,#e6ff11,#f6f600,#ffe300,#ffd000,#ffbe00,#ffab00,#ff9900,#ff8600)"></i><i style="height:2px;background:linear-gradient(90deg,#00a0ff,#0055ff,#001eff,#0000ff,#0000e4,#0000ce,#0000bf,#0000b7,#0000b5,#0000b7,#0000bc,#0000c5,#0000d0,#0000dd,#0000eb,#0000fc,#0000ff,#000eff,#001fff,#0031ff,#0044ff,#0057ff,#006aff,#007eff,#0092ff,#00a6ff,#00bbff,#00d0ff,#00e5f7,#10fae7,#21ffd6,#32ffc5,#43ffb3,#54ffa2,#65ff91,#76ff80,#87ff6f,#98ff5e,#a9ff4d,#baff3c,#cbff2c,#dcff1b,#edff0a,#fdee00,#ffdb00,#ffc800,#ffb500,#ffa200,#ff9000,#ff7d00)"></i><i style="height:2px;background:linear-gradient(90deg,#00a4ff,#0058ff,#0020ff,#0000ff,#0000e5,#0000cf,#0000c0,#0000b8,#0000b6,#0000b8,#0000bd,#0000c6,#0000d1,#0000de,#0000ed,#0000fe,#0000ff,#0010ff,#0021ff,#0034ff,#0046ff,#005aff,#006dff,#0082ff,#0096ff,#00abff,#00bfff,#00d4ff,#03eaf4,#14ffe2,#26ffd1,#37ffc0,#48ffaf,#59ff9e,#6aff8c,#7cff7b,#8dff6a,#9eff59,#afff48,#c0ff36,#d1ff25,#e2ff14,#f3fa04,#ffe600,#ffd300,#ffc000,#ffad00,#ff9a00,#ff8700,#ff7400)"></i><i style="height:2px;background:linear-gradient(90deg,#00a7ff,#005aff,#0022ff,#0000ff,#0000e7,#0000d0,#0000c1,#0000b9,#0000b7,#0000b9,#0000be,#0000c7,#0000d2,#0000e0,#0000ef,#0000ff,#0001ff,#0012ff,#0024ff,#0036ff,#0049ff,#005dff,#0071ff,#0085ff,#009aff,#00afff,#00c4ff,#00d9ff,#07eef0,#18ffde,#2affcd,#3bffbc,#4dffaa,#5eff99,#6fff87,#81ff76,#92ff64,#a4ff53,#b5ff42,#c6ff31,#d7ff1f,#e9ff0e,#faf200,#ffdf00,#ffcb00,#ffb800,#ffa500,#ff9200,#ff7f00,#ff6c00)"></i><i style="height:2px;background:linear-gradient(90deg,#00abff,#005dff,#0024ff,#0000ff,#0000e8,#0000d1,#0000c2,#0000ba,#0000b8,#0000ba,#0000bf,#0000c8,#0000d4,#0000e1,#0000f1,#0000ff,#0003ff,#0014ff,#0026ff,#0039ff,#004cff,#0060ff,#0074ff,#0089ff,#009dff,#00b3ff,#00c8ff,#00ddfd,#0bf3ec,#1cffda,#2effc9,#40ffb7,#51ffa6,#63ff94,#74ff82,#86ff71,#98ff5f,#a9ff4e,#bbff3c,#ccff2b,#ddff19,#efff08,#ffeb00,#ffd700,#ffc400,#ffb000,#ff9d00,#ff8a00,#ff7600,#ff6300)"></i><i style="height:2px;background:linear-gradient(90deg,#00afff,#0060ff,#0026ff,#0000ff,#0000ea,#0000d2,#0000c3,#0000bb,#0000b9,#0000bb,#0000c0,#0000c9,#0000d5,#0000e3,#0000f2,#0000ff,#0005ff,#0016ff,#0028ff,#003bff,#004fff,#0063ff,#0077ff,#008cff,#00a1ff,#00b6ff,#00ccff,#00e2fa,#0ff8e8,#20ffd7,#32ffc5,#44ffb3,#56ffa1,#67ff8f,#79ff7e,#8bff6c,#9dff5a,#aeff48,#c0ff37,#d2ff25,#e3ff14,#f5f802,#ffe400,#ffd000,#ffbc00,#ffa900,#ff9500,#ff8200,#ff6e00,#ff5b00)"></i><i style="height:2px;background:linear-gradient(90deg,#00b2ff,#0063ff,#0028ff,#0000ff,#0000eb,#0000d4,#0000c4,#0000bc,#0000ba,#0000bc,#0000c2,#0000cb,#0000d6,#0000e4,#0000f4,#0000ff,#0007ff,#0018ff,#002bff,#003eff,#0051ff,#0066ff,#007aff,#008fff,#00a5ff,#00baff,#00d0ff,#00e6f6,#12fce5,#24ffd3,#36ffc1,#48ffaf,#5aff9d,#6cff8b,#7eff79,#90ff67,#a2ff55,#b4ff43,#c5ff31,#d7ff20,#e9ff0e,#faf100,#ffdd00,#ffc900,#ffb500,#ffa100,#ff8d00,#ff7a00,#ff6600,#ff5300)"></i><i style="height:2px;background:linear-gradient(90deg,#00b5ff,#0065ff,#002aff,#0000ff,#0000ed,#0000d5,#0000c6,#0000bd,#0000bb,#0000bd,#0000c3,#0000cc,#0000d8,#0000e6,#0000f6,#0000ff,#0009ff,#001aff,#002dff,#0040ff,#0054ff,#0068ff,#007dff,#0093ff,#00a8ff,#00beff,#00d4ff,#04eaf3,#16ffe1,#28ffcf,#3affbd,#4cffab,#5eff99,#70ff86,#82ff74,#95ff62,#a7ff50,#b9ff3e,#cbff2c,#ddff1a,#eeff08,#ffeb00,#ffd600,#ffc200,#ffae00,#ff9a00,#ff8600,#ff7200,#ff5e00,#ff4b00)"></i><i style="height:2px;background:linear-gradient(90deg,#00b9ff,#0068ff,#002cff,#0001ff,#0000ee,#0000d6,#0000c7,#0000be,#0000bc,#0000be,#0000c4,#0000cd,#0000d9,#0000e7,#0000f7,#0000ff,#000aff,#001cff,#002fff,#0043ff,#0057ff,#006bff,#0080ff,#0096ff,#00acff,#00c2ff,#00d8ff,#07eef0,#19ffde,#2bffcb,#3effb9,#50ffa7,#62ff94,#75ff82,#87ff70,#99ff5e,#abff4b,#beff39,#d0ff27,#e2ff15,#f4f903,#ffe400,#ffd000,#ffbb00,#ffa700,#ff9300,#ff7f00,#ff6b00,#ff5700,#ff4300)"></i><i style="height:2px;background:linear-gradient(90deg,#00bcff,#006aff,#002eff,#0002ff,#0000f0,#0000d7,#0000c8,#0000bf,#0000bc,#0000bf,#0000c5,#0000ce,#0000da,#0000e9,#0000f9,#0000ff,#000cff,#001eff,#0031ff,#0045ff,#0059ff,#006eff,#0083ff,#0099ff,#00afff,#00c5ff,#00dcff,#0af2ec,#1dffda,#2fffc8,#41ffb5,#54ffa3,#66ff90,#79ff7e,#8bff6b,#9eff59,#b0ff47,#c3ff34,#d5ff22,#e7ff10,#f9f300,#ffde00,#ffc900,#ffb500,#ffa000,#ff8c00,#ff7800,#ff6400,#ff5000,#ff3c00)"></i><i style="height:2px;background:linear-gradient(90deg,#00bfff,#006dff,#0030ff,#0004ff,#0000f1,#0000d8,#0000c9,#0000c0,#0000bd,#0000c0,#0000c6,#0000cf,#0000db,#0000ea,#0000fa,#0000ff,#000eff,#0020ff,#0033ff,#0047ff,#005cff,#0071ff,#0086ff,#009cff,#00b2ff,#00c9ff,#00dffc,#0df6e9,#20ffd7,#32ffc4,#45ffb2,#58ff9f,#6aff8c,#7dff7a,#90ff67,#a2ff55,#b5ff42,#c7ff2f,#daff1d,#ecff0b,#feed00,#ffd800,#ffc300,#ffae00,#ff9a00,#ff8500,#ff7100,#ff5c00,#ff4800,#ff3400)"></i><i style="height:2px;background:linear-gradient(90deg,#00c2ff,#006fff,#0032ff,#0005ff,#0000f2,#0000d9,#0000ca,#0000c1,#0000be,#0000c1,#0000c7,#0000d0,#0000dd,#0000eb,#0000fc,#0000ff,#0010ff,#0022ff,#0035ff,#0049ff,#005eff,#0073ff,#0089ff,#009fff,#00b6ff,#00ccff,#00e3f9,#11fae6,#23ffd4,#36ffc1,#49ffae,#5bff9b,#6eff89,#81ff76,#94ff63,#a7ff50,#b9ff3d,#ccff2b,#dfff18,#f1fc06,#ffe700,#ffd200,#ffbd00,#ffa800,#ff9300,#ff7f00,#ff6a00,#ff5600,#ff4100,#ff2d00)"></i><i style="height:2px;background:linear-gradient(90deg,#00c5ff,#0071ff,#0034ff,#0007ff,#0000f4,#0000db,#0000cb,#0000c2,#0000bf,#0000c2,#0000c8,#0000d1,#0000de,#0000ed,#0000fe,#0000ff,#0011ff,#0024ff,#0037ff,#004cff,#0061ff,#0076ff,#008cff,#00a2ff,#00b9ff,#00d0ff,#01e7f6,#14fee3,#26ffd0,#39ffbd,#4cffab,#5fff98,#72ff85,#85ff72,#98ff5f,#abff4c,#beff39,#d0ff26,#e3ff14,#f6f701,#ffe100,#ffcc00,#ffb700,#ffa200,#ff8d00,#ff7800,#ff6300,#ff4f00,#ff3a00,#ff2600)"></i><i style="height:2px;background:linear-gradient(90deg,#00c8ff,#0074ff,#0035ff,#0008ff,#0000f5,#0000dc,#0000cc,#0000c3,#0000c0,#0000c2,#0000c9,#0000d3,#0000df,#0000ee,#0000ff,#0001ff,#0013ff,#0026ff,#0039ff,#004eff,#0063ff,#0079ff,#008fff,#00a5ff,#00bcff,#00d3ff,#04eaf3,#17ffe0,#2affcd,#3dffba,#50ffa7,#63ff94,#76ff81,#89ff6e,#9cff5b,#afff48,#c2ff35,#d5ff22,#e8ff0f,#fbf100,#ffdc00,#ffc600,#ffb100,#ff9c00,#ff8700,#ff7200,#ff5d00,#ff4800,#ff3400,#ff1f00)"></i><i style="height:2px;background:linear-gradient(90deg,#00cbff,#0076ff,#0037ff,#000aff,#0000f6,#0000dd,#0000cd,#0000c4,#0000c1,#0000c3,#0000ca,#0000d4,#0000e0,#0000f0,#0000ff,#0003ff,#0015ff,#0028ff,#003bff,#0050ff,#0065ff,#007bff,#0091ff,#00a8ff,#00bfff,#00d6ff,#07eef0,#1affdd,#2dffca,#40ffb7,#53ffa4,#66ff91,#79ff7d,#8dff6a,#a0ff57,#b3ff44,#c6ff31,#d9ff1e,#ecff0b,#ffec00,#ffd600,#ffc100,#ffab00,#ff9600,#ff8100,#ff6c00,#ff5700,#ff4200,#ff2d00,#ff1900)"></i><i style="height:2px;background:linear-gradient(90deg,#00ceff,#0078ff,#0039ff,#000bff,#0000f7,#0000de,#0000ce,#0000c5,#0000c2,#0000c4,#0000cb,#0000d5,#0000e2,#0000f1,#0000ff,#0004ff,#0016ff,#0029ff,#003dff,#0052ff,#0068ff,#007eff,#0094ff,#00abff,#00c2ff,#00d9ff,#09f1ee,#1cffda,#30ffc7,#43ffb4,#56ffa1,#6aff8d,#7dff7a,#90ff66,#a4ff53,#b7ff40,#caff2d,#ddff19,#f1fd06,#ffe700,#ffd100,#ffbb00,#ffa600,#ff9000,#ff7b00,#ff6600,#ff5100,#ff3c00,#ff2700,#fe1200)"></i><i style="height:2px;background:linear-gradient(90deg,#00d0ff,#007aff,#003bff,#000cff,#0000f9,#0000df,#0000ce,#0000c6,#0000c3,#0000c5,#0000cc,#0000d6,#0000e3,#0000f2,#0000ff,#0006ff,#0018ff,#002bff,#003fff,#0054ff,#006aff,#0080ff,#0097ff,#00aeff,#00c5ff,#00ddfe,#0cf4eb,#1fffd8,#33ffc4,#46ffb1,#59ff9d,#6dff8a,#80ff76,#94ff63,#a7ff4f,#bbff3c,#ceff29,#e2ff15,#f5f802,#ffe200,#ffcc00,#ffb600,#ffa000,#ff8b00,#ff7500,#ff6000,#ff4b00,#ff3600,#ff2100,#f60c00)"></i><i style="height:2px;background:linear-gradient(90deg,#00d3ff,#007cff,#003cff,#000eff,#0000fa,#0000e0,#0000cf,#0000c7,#0000c4,#0000c6,#0000cd,#0000d7,#0000e4,#0000f4,#0000ff,#0007ff,#001aff,#002dff,#0041ff,#0056ff,#006cff,#0082ff,#0099ff,#00b0ff,#00c8ff,#00e0fc,#0ff7e8,#22ffd5,#35ffc1,#49ffae,#5dff9a,#70ff87,#84ff73,#97ff5f,#abff4c,#bfff38,#d2ff25,#e6ff11,#f9f300,#ffdd00,#ffc700,#ffb100,#ff9b00,#ff8500,#ff7000,#ff5a00,#ff4500,#ff3000,#ff1b00,#ef0600)"></i><i style="height:2px;background:linear-gradient(90deg,#00d6ff,#007eff,#003eff,#000fff,#0000fb,#0000e1,#0000d0,#0000c7,#0000c5,#0000c7,#0000ce,#0000d8,#0000e5,#0000f5,#0000ff,#0009ff,#001bff,#002fff,#0043ff,#0058ff,#006eff,#0085ff,#009cff,#00b3ff,#00cbff,#00e3f9,#11fbe6,#25ffd2,#38ffbf,#4cffab,#60ff97,#73ff83,#87ff70,#9bff5c,#afff48,#c2ff34,#d6ff21,#e9ff0d,#fdee00,#ffd800,#ffc200,#ffac00,#ff9600,#ff8000,#ff6a00,#ff5500,#ff3f00,#ff2a00,#ff1500,#e80000)"></i><i style="height:2px;background:linear-gradient(90deg,#00d8ff,#0080ff,#003fff,#0010ff,#0000fc,#0000e2,#0000d1,#0000c8,#0000c6,#0000c8,#0000cf,#0000d9,#0000e7,#0000f6,#0000ff,#000aff,#001dff,#0030ff,#0045ff,#005aff,#0070ff,#0087ff,#009eff,#00b6ff,#00cdff,#00e5f7,#14fee3,#27ffd0,#3bffbc,#4fffa8,#63ff94,#77ff80,#8aff6c,#9eff58,#b2ff45,#c6ff31,#daff1d,#edff09,#ffea00,#ffd400,#ffbd00,#ffa700,#ff9100,#ff7b00,#ff6500,#ff5000,#ff3a00,#ff2400,#fa0f00,#e00000)"></i><i style="height:2px;background:linear-gradient(90deg,#00dbff,#0082ff,#0041ff,#0011ff,#0000fe,#0000e3,#0000d2,#0000c9,#0000c7,#0000c9,#0000d0,#0000da,#0000e8,#0000f8,#0000ff,#000bff,#001eff,#0032ff,#0047ff,#005cff,#0073ff,#0089ff,#00a1ff,#00b8ff,#00d0ff,#02e8f4,#16ffe1,#2affcd,#3effb9,#52ffa5,#66ff91,#7aff7d,#8eff69,#a2ff55,#b5ff41,#c9ff2d,#ddff1a,#f1fc06,#ffe600,#ffcf00,#ffb900,#ffa200,#ff8c00,#ff7600,#ff6000,#ff4a00,#ff3500,#ff1f00,#f40a00,#da0000)"></i><i style="height:2px;background:linear-gradient(90deg,#00ddfe,#0084ff,#0042ff,#0013ff,#0000ff,#0000e4,#0000d3,#0000ca,#0000c8,#0000ca,#0000d1,#0000db,#0000e9,#0000f9,#0000ff,#000dff,#0020ff,#0034ff,#0049ff,#005eff,#0075ff,#008cff,#00a3ff,#00bbff,#00d3ff,#05ebf2,#18ffde,#2cffcb,#40ffb7,#54ffa2,#68ff8e,#7dff7a,#91ff66,#a5ff52,#b9ff3e,#cdff2a,#e1ff16,#f5f802,#ffe100,#ffcb00,#ffb400,#ff9e00,#ff8700,#ff7100,#ff5b00,#ff4500,#ff3000,#ff1a00,#ed0400,#d30000)"></i><i style="height:2px;background:linear-gradient(90deg,#00dffc,#0086ff,#0044ff,#0014ff,#0000ff,#0000e5,#0000d4,#0000cb,#0000c8,#0000cb,#0000d2,#0000dc,#0000ea,#0000fa,#0000ff,#000eff,#0021ff,#0035ff,#004aff,#0060ff,#0077ff,#008eff,#00a5ff,#00bdff,#00d5ff,#07eef0,#1bffdc,#2fffc8,#43ffb4,#57ffa0,#6bff8c,#7fff77,#94ff63,#a8ff4f,#bcff3b,#d0ff27,#e4ff13,#f8f400,#ffdd00,#ffc600,#ffb000,#ff9900,#ff8300,#ff6d00,#ff5600,#ff4000,#ff2b00,#ff1500,#e70000,#cc0000)"></i><i style="height:2px;background:linear-gradient(90deg,#00e1fa,#0087ff,#0045ff,#0015ff,#0000ff,#0000e6,#0000d5,#0000cc,#0000c9,#0000cc,#0000d3,#0000de,#0000eb,#0000fb,#0000ff,#0010ff,#0023ff,#0037ff,#004cff,#0062ff,#0079ff,#0090ff,#00a8ff,#00c0ff,#00d8ff,#09f1ee,#1dffda,#31ffc6,#45ffb2,#5aff9d,#6eff89,#82ff75,#96ff60,#abff4c,#bfff38,#d3ff24,#e7ff0f,#fbf000,#ffd900,#ffc200,#ffac00,#ff9500,#ff7e00,#ff6800,#ff5200,#ff3c00,#ff2600,#fb1000,#e10000,#c60000)"></i><i style="height:2px;background:linear-gradient(90deg,#00e3f8,#0089ff,#0047ff,#0016ff,#0000ff,#0000e7,#0000d6,#0000cd,#0000ca,#0000cd,#0000d4,#0000df,#0000ec,#0000fd,#0000ff,#0011ff,#0024ff,#0038ff,#004eff,#0064ff,#007bff,#0092ff,#00aaff,#00c2ff,#00daff,#0bf3ec,#1fffd8,#33ffc3,#48ffaf,#5cff9b,#70ff86,#85ff72,#99ff5d,#aeff49,#c2ff35,#d6ff20,#ebff0c,#ffec00,#ffd500,#ffbe00,#ffa800,#ff9100,#ff7a00,#ff6400,#ff4d00,#ff3700,#ff2100,#f50b00,#db0000,#c00000)"></i><i style="height:2px;background:linear-gradient(90deg,#00e6f7,#008bff,#0048ff,#0017ff,#0000ff,#0000e8,#0000d7,#0000ce,#0000cb,#0000ce,#0000d5,#0000e0,#0000ee,#0000fe,#0000ff,#0012ff,#0025ff,#003aff,#004fff,#0066ff,#007cff,#0094ff,#00acff,#00c4ff,#00ddfe,#0df6ea,#21ffd6,#36ffc1,#4affad,#5eff98,#73ff84,#88ff6f,#9cff5b,#b1ff46,#c5ff32,#d9ff1d,#eeff09,#ffe900,#ffd200,#ffbb00,#ffa400,#ff8d00,#ff7600,#ff5f00,#ff4900,#ff3300,#ff1d00,#f00700,#d50000,#ba0000)"></i><i style="height:2px;background:linear-gradient(90deg,#02e8f5,#008cff,#0049ff,#0018ff,#0000ff,#0000e9,#0000d8,#0000cf,#0000cc,#0000cf,#0000d6,#0000e1,#0000ef,#0000ff,#0001ff,#0013ff,#0027ff,#003bff,#0051ff,#0067ff,#007eff,#0096ff,#00aeff,#00c6ff,#00dffc,#0ff8e8,#23ffd3,#38ffbf,#4cffab,#61ff96,#75ff81,#8aff6d,#9fff58,#b3ff44,#c8ff2f,#dcff1b,#f1fd06,#ffe500,#ffce00,#ffb700,#ffa000,#ff8900,#ff7200,#ff5b00,#ff4500,#ff2e00,#ff1800,#ea0200,#cf0000,#b50000)"></i><i style="height:2px;background:linear-gradient(90deg,#03e9f4,#008eff,#004bff,#0019ff,#0000ff,#0000ea,#0000d9,#0000d0,#0000cd,#0000d0,#0000d7,#0000e2,#0000f0,#0000ff,#0003ff,#0015ff,#0028ff,#003dff,#0053ff,#0069ff,#0080ff,#0098ff,#00b0ff,#00c9ff,#00e1fa,#11fbe6,#25ffd1,#3affbd,#4effa8,#63ff94,#78ff7f,#8dff6a,#a1ff56,#b6ff41,#cbff2c,#dfff18,#f4f903,#ffe200,#ffca00,#ffb300,#ff9c00,#ff8500,#ff6e00,#ff5700,#ff4100,#ff2a00,#ff1400,#e50000,#ca0000,#af0000)"></i><i style="height:2px;background:linear-gradient(90deg,#05ebf2,#0090ff,#004cff,#001bff,#0000ff,#0000eb,#0000da,#0000d0,#0000ce,#0000d1,#0000d8,#0000e3,#0000f1,#0000ff,#0004ff,#0016ff,#002aff,#003eff,#0054ff,#006bff,#0082ff,#009aff,#00b2ff,#00cbff,#00e4f8,#13fde4,#27ffcf,#3cffbb,#51ffa6,#65ff91,#7aff7d,#8fff68,#a4ff53,#b8ff3e,#cdff2a,#e2ff15,#f6f600,#ffde00,#ffc700,#ffb000,#ff9800,#ff8100,#ff6a00,#ff5400,#ff3d00,#ff2600,#fb1000,#e00000,#c50000,#aa0000)"></i><i style="height:2px;background:linear-gradient(90deg,#06edf1,#0091ff,#004dff,#001cff,#0000ff,#0000ec,#0000db,#0000d1,#0000cf,#0000d1,#0000d9,#0000e4,#0000f2,#0000ff,#0005ff,#0017ff,#002bff,#0040ff,#0056ff,#006cff,#0084ff,#009cff,#00b4ff,#00cdff,#00e6f7,#15ffe2,#29ffce,#3effb9,#53ffa4,#68ff8f,#7cff7a,#91ff65,#a6ff51,#bbff3c,#d0ff27,#e4ff12,#f9f300,#ffdb00,#ffc400,#ffac00,#ff9500,#ff7e00,#ff6700,#ff5000,#ff3900,#ff2200,#f70c00,#db0000,#c00000,#a50000)"></i><i style="height:2px;background:linear-gradient(90deg,#08efef,#0092ff,#004eff,#001dff,#0000ff,#0000ed,#0000db,#0000d2,#0000d0,#0000d2,#0000da,#0000e5,#0000f3,#0000ff,#0006ff,#0018ff,#002cff,#0041ff,#0057ff,#006eff,#0085ff,#009dff,#00b6ff,#00cfff,#02e8f5,#16ffe0,#2bffcc,#40ffb7,#55ffa2,#6aff8d,#7fff78,#94ff63,#a8ff4e,#bdff39,#d2ff25,#e7ff10,#fcf000,#ffd800,#ffc100,#ffa900,#ff9200,#ff7a00,#ff6300,#ff4c00,#ff3500,#ff1f00,#f20800,#d60000,#bb0000,#a00000)"></i><i style="height:2px;background:linear-gradient(90deg,#09f0ee,#0094ff,#004fff,#001eff,#0000ff,#0000ee,#0000dc,#0000d3,#0000d0,#0000d3,#0000db,#0000e6,#0000f4,#0000ff,#0007ff,#001aff,#002eff,#0043ff,#0059ff,#006fff,#0087ff,#009fff,#00b8ff,#00d1ff,#04eaf3,#18ffdf,#2dffca,#42ffb5,#57ffa0,#6cff8b,#81ff76,#96ff61,#abff4c,#c0ff37,#d5ff22,#e9ff0d,#feed00,#ffd500,#ffbd00,#ffa600,#ff8e00,#ff7700,#ff6000,#ff4900,#ff3200,#ff1b00,#ed0500,#d20000,#b60000,#9b0000)"></i><i style="height:2px;background:linear-gradient(90deg,#0af2ed,#0095ff,#0051ff,#001fff,#0000ff,#0000ef,#0000dd,#0000d4,#0000d1,#0000d4,#0000dc,#0000e7,#0000f5,#0000ff,#0008ff,#001bff,#002fff,#0044ff,#005aff,#0071ff,#0089ff,#00a1ff,#00baff,#00d3ff,#05ecf2,#1affdd,#2fffc8,#44ffb3,#59ff9e,#6eff89,#83ff74,#98ff5f,#adff4a,#c2ff35,#d7ff20,#ecff0b,#ffea00,#ffd200,#ffbb00,#ffa300,#ff8b00,#ff7400,#ff5d00,#ff4600,#ff2f00,#ff1800,#e90100,#ce0000,#b20000,#970000)"></i><i style="height:2px;background:linear-gradient(90deg,#0bf4eb,#0096ff,#0052ff,#001fff,#0000ff,#0000f0,#0000de,#0000d5,#0000d2,#0000d5,#0000dd,#0000e8,#0000f6,#0000ff,#0009ff,#001cff,#0030ff,#0045ff,#005bff,#0073ff,#008aff,#00a3ff,#00bbff,#00d4ff,#07eef0,#1bffdb,#30ffc6,#45ffb1,#5aff9c,#70ff87,#85ff72,#9aff5d,#afff48,#c4ff33,#d9ff1e,#eeff09,#ffe700,#ffd000,#ffb800,#ffa000,#ff8800,#ff7100,#ff5a00,#ff4300,#ff2b00,#ff1500,#e50000,#c90000,#ae0000,#930000)"></i><i style="height:2px;background:linear-gradient(90deg,#0cf5ea,#0098ff,#0053ff,#0020ff,#0000ff,#0000f1,#0000df,#0000d6,#0000d3,#0000d6,#0000de,#0000e9,#0000f8,#0000ff,#000aff,#001dff,#0031ff,#0047ff,#005dff,#0074ff,#008cff,#00a4ff,#00bdff,#00d6ff,#08f0ef,#1dffda,#32ffc5,#47ffb0,#5cff9b,#71ff85,#87ff70,#9cff5b,#b1ff46,#c6ff31,#dbff1c,#f0fd06,#ffe500,#ffcd00,#ffb500,#ff9d00,#ff8600,#ff6e00,#ff5700,#ff4000,#ff2800,#fd1100,#e10000,#c50000,#aa0000,#8e0000)"></i><i style="height:2px;background:linear-gradient(90deg,#0ef6e9,#0099ff,#0054ff,#0021ff,#0000ff,#0000f1,#0000e0,#0000d6,#0000d4,#0000d7,#0000df,#0000ea,#0000f9,#0000ff,#000bff,#001eff,#0032ff,#0048ff,#005eff,#0075ff,#008dff,#00a6ff,#00bfff,#00d8ff,#0af2ed,#1fffd8,#34ffc3,#49ffae,#5eff99,#73ff84,#88ff6e,#9eff59,#b3ff44,#c8ff2f,#ddff19,#f2fb04,#ffe200,#ffca00,#ffb200,#ff9b00,#ff8300,#ff6b00,#ff5400,#ff3d00,#ff2500,#fa0e00,#de0000,#c20000,#a60000,#8b0000)"></i><i style="height:2px;background:linear-gradient(90deg,#0ff8e8,#009aff,#0055ff,#0022ff,#0000ff,#0000f2,#0000e1,#0000d7,#0000d5,#0000d8,#0000e0,#0000eb,#0000fa,#0000ff,#000cff,#001fff,#0034ff,#0049ff,#0060ff,#0077ff,#008fff,#00a7ff,#00c0ff,#00daff,#0bf3ec,#20ffd7,#35ffc2,#4affad,#60ff97,#75ff82,#8aff6d,#9fff57,#b5ff42,#caff2d,#dfff18,#f4f802,#ffe000,#ffc800,#ffb000,#ff9800,#ff8000,#ff6900,#ff5100,#ff3a00,#ff2300,#f60c00,#da0000,#be0000,#a20000,#870000)"></i><i style="height:2px;background:linear-gradient(90deg,#10f9e7,#009bff,#0056ff,#0023ff,#0000ff,#0000f3,#0000e2,#0000d8,#0000d6,#0000d9,#0000e0,#0000ec,#0000fb,#0000ff,#000eff,#0020ff,#0035ff,#004aff,#0061ff,#0078ff,#0090ff,#00a9ff,#00c2ff,#00dbff,#0cf5ea,#21ffd5,#37ffc0,#4cffab,#61ff96,#76ff80,#8cff6b,#a1ff56,#b7ff40,#ccff2b,#e1ff16,#f6f600,#ffde00,#ffc600,#ffae00,#ff9600,#ff7e00,#ff6600,#ff4f00,#ff3700,#ff2000,#f30900,#d70000,#bb0000,#9f0000,#830000)"></i><i style="height:2px;background:linear-gradient(90deg,#11fae6,#009cff,#0056ff,#0024ff,#0000ff,#0000f4,#0000e2,#0000d9,#0000d7,#0000da,#0000e1,#0000ed,#0000fc,#0000ff,#000fff,#0022ff,#0036ff,#004cff,#0062ff,#0079ff,#0092ff,#00aaff,#00c3ff,#00ddfe,#0ef7e9,#23ffd4,#38ffbf,#4dffaa,#63ff94,#78ff7f,#8dff69,#a3ff54,#b8ff3f,#ceff29,#e3ff14,#f8f400,#ffdc00,#ffc300,#ffab00,#ff9300,#ff7c00,#ff6400,#ff4c00,#ff3500,#ff1e00,#f00600,#d40000,#b70000,#9c0000,#800000)"></i><i style="height:2px;background:linear-gradient(90deg,#11fbe5,#009dff,#0057ff,#0025ff,#0000ff,#0000f5,#0000e3,#0000da,#0000d7,#0000db,#0000e2,#0000ee,#0000fd,#0000ff,#0010ff,#0023ff,#0037ff,#004dff,#0063ff,#007bff,#0093ff,#00acff,#00c5ff,#00defd,#0ff8e8,#24ffd3,#39ffbd,#4fffa8,#64ff93,#79ff7d,#8fff68,#a4ff52,#baff3d,#cfff28,#e5ff12,#faf200,#ffda00,#ffc100,#ffa900,#ff9100,#ff7900,#ff6200,#ff4a00,#ff3300,#ff1b00,#ed0400,#d10000,#b40000,#990000,#800000)"></i><i style="height:2px;background:linear-gradient(90deg,#12fce5,#009eff,#0058ff,#0025ff,#0001ff,#0000f6,#0000e4,#0000db,#0000d8,#0000db,#0000e3,#0000ef,#0000fe,#0000ff,#0011ff,#0024ff,#0038ff,#004eff,#0065ff,#007cff,#0094ff,#00adff,#00c6ff,#00e0fb,#10fae6,#25ffd1,#3bffbc,#50ffa7,#65ff91,#7bff7c,#90ff66,#a6ff51,#bbff3b,#d1ff26,#e6ff11,#fcf000,#ffd800,#ffbf00,#ffa700,#ff8f00,#ff7700,#ff5f00,#ff4800,#ff3000,#ff1900,#ea0200,#ce0000,#b20000,#960000,#800000)"></i><i style="height:2px;background:linear-gradient(90deg,#13fde4,#009fff,#0059ff,#0026ff,#0002ff,#0000f7,#0000e5,#0000dc,#0000d9,#0000dc,#0000e4,#0000f0,#0000ff,#0000ff,#0012ff,#0025ff,#0039ff,#004fff,#0066ff,#007dff,#0095ff,#00aeff,#00c8ff,#00e1fa,#11fbe5,#27ffd0,#3cffbb,#51ffa5,#67ff90,#7cff7b,#92ff65,#a7ff4f,#bdff3a,#d2ff24,#e8ff0f,#fdee00,#ffd600,#ffbe00,#ffa500,#ff8d00,#ff7500,#ff5d00,#ff4600,#ff2e00,#ff1700,#e70000,#cb0000,#af0000,#930000,#800000)"></i><i style="height:2px;background:linear-gradient(90deg,#14fee3,#009fff,#005aff,#0027ff,#0003ff,#0000f7,#0000e6,#0000dc,#0000da,#0000dd,#0000e5,#0000f1,#0000ff,#0001ff,#0013ff,#0026ff,#003aff,#0050ff,#0067ff,#007eff,#0097ff,#00b0ff,#00c9ff,#00e3f9,#13fde4,#28ffcf,#3dffba,#53ffa4,#68ff8f,#7eff79,#93ff64,#a9ff4e,#beff39,#d4ff23,#e9ff0e,#ffed00,#ffd400,#ffbc00,#ffa400,#ff8b00,#ff7300,#ff5c00,#ff4400,#ff2c00,#ff1500,#e50000,#c90000,#ac0000,#900000,#800000)"></i><i style="height:2px;background:linear-gradient(90deg,#14ffe2,#00a0ff,#005aff,#0028ff,#0003ff,#0000f8,#0000e6,#0000dd,#0000db,#0000de,#0000e6,#0000f2,#0000ff,#0002ff,#0013ff,#0027ff,#003bff,#0051ff,#0068ff,#0080ff,#0098ff,#00b1ff,#00caff,#00e4f8,#14fee3,#29ffce,#3effb9,#54ffa3,#69ff8e,#7fff78,#94ff62,#aaff4d,#c0ff37,#d5ff22,#ebff0c,#ffeb00,#ffd300,#ffba00,#ffa200,#ff8a00,#ff7200,#ff5a00,#ff4200,#ff2b00,#ff1300,#e30000,#c60000,#aa0000,#8e0000,#800000)"></i><i style="height:2px;background:linear-gradient(90deg,#15ffe2,#00a1ff,#005bff,#0028ff,#0004ff,#0000f9,#0000e7,#0000de,#0000dc,#0000df,#0000e7,#0000f3,#0000ff,#0003ff,#0014ff,#0028ff,#003cff,#0052ff,#0069ff,#0081ff,#0099ff,#00b2ff,#00cbff,#00e5f7,#15ffe2,#2affcd,#3fffb7,#55ffa2,#6aff8c,#80ff77,#96ff61,#abff4c,#c1ff36,#d6ff20,#ecff0b,#ffea00,#ffd100,#ffb900,#ffa000,#ff8800,#ff7000,#ff5800,#ff4000,#ff2900,#fd1100,#e10000,#c40000,#a80000,#8c0000,#800000)"></i><i style="height:2px;background:linear-gradient(90deg,#16ffe1,#00a2ff,#005cff,#0029ff,#0005ff,#0000fa,#0000e8,#0000df,#0000dd,#0000e0,#0000e8,#0000f4,#0000ff,#0004ff,#0015ff,#0029ff,#003dff,#0053ff,#006aff,#0082ff,#009aff,#00b3ff,#00ccff,#01e6f6,#16ffe1,#2bffcc,#40ffb6,#56ffa1,#6bff8b,#81ff76,#97ff60,#acff4a,#c2ff35,#d7ff1f,#edff0a,#ffe800,#ffd000,#ffb700,#ff9f00,#ff8700,#ff6f00,#ff5700,#ff3f00,#ff2700,#fb1000,#df0000,#c20000,#a60000,#8a0000,#800000)"></i><i style="height:2px;background:linear-gradient(90deg,#16ffe1,#00a2ff,#005cff,#002aff,#0005ff,#0000fa,#0000e9,#0000e0,#0000dd,#0000e1,#0000e9,#0000f5,#0000ff,#0005ff,#0016ff,#002aff,#003eff,#0054ff,#006bff,#0083ff,#009bff,#00b4ff,#00ceff,#02e7f5,#17ffe0,#2cffcb,#41ffb5,#57ffa0,#6cff8a,#82ff75,#98ff5f,#adff49,#c3ff34,#d9ff1e,#eeff09,#ffe700,#ffce00,#ffb600,#ff9e00,#ff8500,#ff6d00,#ff5500,#ff3e00,#ff2600,#fa0e00,#dd0000,#c00000,#a40000,#880000,#800000)"></i><i style="height:2px;background:linear-gradient(90deg,#16ffe0,#00a3ff,#005dff,#002aff,#0006ff,#0000fb,#0000ea,#0000e1,#0000de,#0000e2,#0000ea,#0000f6,#0000ff,#0005ff,#0017ff,#002aff,#003fff,#0055ff,#006cff,#0084ff,#009cff,#00b5ff,#00cfff,#02e9f4,#18ffdf,#2dffca,#42ffb5,#58ff9f,#6dff89,#83ff74,#99ff5e,#aeff48,#c4ff33,#daff1d,#effe08,#ffe600,#ffcd00,#ffb500,#ff9c00,#ff8400,#ff6c00,#ff5400,#ff3c00,#ff2500,#f80d00,#db0000,#bf0000,#a30000,#870000,#800000)"></i><i style="height:2px;background:linear-gradient(90deg,#17ffe0,#00a3ff,#005eff,#002bff,#0007ff,#0000fc,#0000ea,#0000e1,#0000df,#0000e3,#0000eb,#0000f7,#0000ff,#0006ff,#0018ff,#002bff,#0040ff,#0056ff,#006dff,#0085ff,#009dff,#00b6ff,#00d0ff,#03eaf4,#18ffde,#2effc9,#43ffb4,#59ff9e,#6eff89,#84ff73,#9aff5d,#afff48,#c5ff32,#daff1c,#f0fd07,#ffe500,#ffcc00,#ffb400,#ff9b00,#ff8300,#ff6b00,#ff5300,#ff3b00,#ff2400,#f70c00,#da0000,#be0000,#a10000,#850000,#800000)"></i><i style="height:2px;background:linear-gradient(90deg,#17ffe0,#00a4ff,#005eff,#002bff,#0007ff,#0000fd,#0000eb,#0000e2,#0000e0,#0000e3,#0000ec,#0000f8,#0000ff,#0007ff,#0019ff,#002cff,#0041ff,#0057ff,#006eff,#0086ff,#009eff,#00b7ff,#00d1ff,#04ebf3,#19ffde,#2effc8,#44ffb3,#59ff9d,#6fff88,#85ff72,#9aff5c,#b0ff47,#c6ff31,#dbff1b,#f1fc06,#ffe400,#ffcb00,#ffb300,#ff9a00,#ff8200,#ff6a00,#ff5200,#ff3a00,#ff2300,#f50b00,#d90000,#bc0000,#a00000,#840000,#800000)"></i><i style="height:2px;background:linear-gradient(90deg,#17ffdf,#00a4ff,#005fff,#002cff,#0008ff,#0000fd,#0000ec,#0000e3,#0000e1,#0000e4,#0000ec,#0000f8,#0000ff,#0008ff,#001aff,#002dff,#0042ff,#0058ff,#006fff,#0087ff,#009fff,#00b8ff,#00d2ff,#05ebf2,#1affdd,#2fffc8,#45ffb2,#5aff9d,#70ff87,#85ff71,#9bff5c,#b1ff46,#c6ff30,#dcff1b,#f2fb05,#ffe300,#ffca00,#ffb200,#ff9900,#ff8100,#ff6900,#ff5100,#ff3900,#ff2200,#f40a00,#d80000,#bb0000,#9f0000,#830000,#800000)"></i><i style="height:2px;background:linear-gradient(90deg,#18ffdf,#00a4ff,#005fff,#002cff,#0008ff,#0000fe,#0000ed,#0000e4,#0000e2,#0000e5,#0000ed,#0000f9,#0000ff,#0009ff,#001bff,#002eff,#0043ff,#0059ff,#0070ff,#0088ff,#00a0ff,#00b9ff,#00d2ff,#06ecf1,#1bffdc,#30ffc7,#45ffb1,#5bff9c,#71ff86,#86ff71,#9cff5b,#b2ff45,#c7ff30,#ddff1a,#f2fb04,#ffe200,#ffc900,#ffb100,#ff9900,#ff8000,#ff6800,#ff5000,#ff3900,#ff2100,#f30900,#d70000,#ba0000,#9e0000,#820000,#800000)"></i><i style="height:2px;background:linear-gradient(90deg,#18ffdf,#00a5ff,#005fff,#002dff,#0009ff,#0000ff,#0000ee,#0000e5,#0000e3,#0000e6,#0000ee,#0000fa,#0000ff,#000aff,#001bff,#002fff,#0044ff,#005aff,#0071ff,#0088ff,#00a1ff,#00baff,#00d3ff,#06edf1,#1bffdb,#31ffc6,#46ffb1,#5cff9b,#71ff86,#87ff70,#9cff5a,#b2ff45,#c8ff2f,#ddff19,#f3fa04,#ffe100,#ffc900,#ffb000,#ff9800,#ff8000,#ff6800,#ff5000,#ff3800,#ff2000,#f30900,#d60000,#ba0000,#9d0000,#810000,#800000)"></i><i style="height:2px;background:linear-gradient(90deg,#18ffdf,#00a5ff,#0060ff,#002dff,#000aff,#0000ff,#0000ee,#0000e5,#0000e3,#0000e7,#0000ef,#0000fb,#0000ff,#000bff,#001cff,#0030ff,#0044ff,#005aff,#0071ff,#0089ff,#00a2ff,#00bbff,#00d4ff,#07eef0,#1cffdb,#31ffc6,#47ffb0,#5cff9b,#72ff85,#87ff6f,#9dff5a,#b3ff44,#c8ff2e,#deff19,#f3f903,#ffe100,#ffc800,#ffb000,#ff9700,#ff7f00,#ff6700,#ff4f00,#ff3800,#ff2000,#f20800,#d60000,#b90000,#9d0000,#810000,#800000)"></i><i style="height:2px;background:linear-gradient(90deg,#18ffdf,#00a5ff,#0060ff,#002eff,#000aff,#0000ff,#0000ef,#0000e6,#0000e4,#0000e8,#0000f0,#0000fc,#0000ff,#000bff,#001dff,#0030ff,#0045ff,#005bff,#0072ff,#008aff,#00a2ff,#00bbff,#00d5ff,#07efef,#1cffda,#32ffc5,#47ffb0,#5dff9a,#72ff85,#88ff6f,#9dff59,#b3ff44,#c9ff2e,#deff18,#f4f903,#ffe000,#ffc800,#ffaf00,#ff9700,#ff7f00,#ff6700,#ff4f00,#ff3700,#ff2000,#f20800,#d50000,#b90000,#9d0000,#800000,#800000)"></i><i style="height:2px;background:linear-gradient(90deg,#18ffdf,#00a5ff,#0061ff,#002eff,#000bff,#0000ff,#0000f0,#0000e7,#0000e5,#0000e9,#0000f1,#0000fd,#0000ff,#000cff,#001eff,#0031ff,#0046ff,#005cff,#0073ff,#008bff,#00a3ff,#00bcff,#00d5ff,#08efef,#1dffda,#32ffc5,#48ffaf,#5dff9a,#73ff84,#88ff6f,#9eff59,#b4ff43,#c9ff2e,#dfff18,#f4f903,#ffe000,#ffc700,#ffaf00,#ff9700,#ff7f00,#ff6700,#ff4f00,#ff3700,#ff1f00,#f20800,#d50000,#b90000,#9c0000,#800000,#800000)"></i><i style="height:2px;background:linear-gradient(90deg,#18ffdf,#00a6ff,#0061ff,#002fff,#000bff,#0000ff,#0000f1,#0000e8,#0000e6,#0000ea,#0000f2,#0000fe,#0000ff,#000dff,#001fff,#0032ff,#0047ff,#005dff,#0074ff,#008bff,#00a4ff,#00bdff,#00d6ff,#08f0ee,#1dffd9,#33ffc4,#48ffaf,#5dff99,#73ff84,#89ff6e,#9eff59,#b4ff43,#c9ff2d,#dfff18,#f4f802,#ffe000,#ffc700,#ffaf00,#ff9700,#ff7e00,#ff6600,#ff4f00,#ff3700,#ff1f00,#f10800,#d50000,#b90000,#9c0000,#800000,#800000)"></i><i style="height:2px;background:linear-gradient(90deg,#18ffdf,#00a6ff,#0061ff,#002fff,#000cff,#0000ff,#0000f1,#0000e9,#0000e7,#0000ea,#0000f3,#0000ff,#0000ff,#000eff,#001fff,#0033ff,#0048ff,#005dff,#0074ff,#008cff,#00a4ff,#00bdff,#00d7ff,#09f0ee,#1effd9,#33ffc4,#48ffae,#5eff99,#73ff83,#89ff6e,#9fff58,#b4ff43,#caff2d,#dfff18,#f5f802,#ffe000,#ffc700,#ffaf00,#ff9700,#ff7e00,#ff6600,#ff4f00,#ff3700,#ff1f00,#f20800,#d50000,#b90000,#9d0000,#810000,#800000)"></i><i style="height:2px;background:linear-gradient(90deg,#18ffdf,#00a6ff,#0061ff,#002fff,#000cff,#0000ff,#0000f2,#0000e9,#0000e8,#0000eb,#0000f4,#0000ff,#0000ff,#000eff,#0020ff,#0034ff,#0048ff,#005eff,#0075ff,#008dff,#00a5ff,#00beff,#00d7ff,#09f1ee,#1effd9,#33ffc3,#49ffae,#5eff99,#74ff83,#89ff6e,#9fff58,#b4ff43,#caff2d,#dfff18,#f5f802,#ffdf00,#ffc700,#ffaf00,#ff9700,#ff7e00,#ff6700,#ff4f00,#ff3700,#ff2000,#f20800,#d50000,#b90000,#9d0000,#810000,#800000)"></i><i style="height:2px;background:linear-gradient(90deg,#17ffdf,#00a6ff,#0061ff,#0030ff,#000dff,#0000ff,#0000f3,#0000ea,#0000e8,#0000ec,#0000f4,#0000ff,#0000ff,#000fff,#0021ff,#0034ff,#0049ff,#005fff,#0076ff,#008dff,#00a6ff,#00beff,#00d8ff,#0af1ed,#1fffd8,#34ffc3,#49ffae,#5eff98,#74ff83,#89ff6d,#9fff58,#b4ff42,#caff2d,#dfff18,#f5f802,#ffe000,#ffc700,#ffaf00,#ff9700,#ff7f00,#ff6700,#ff4f00,#ff3700,#ff2000,#f20900,#d60000,#ba0000,#9e0000,#820000,#800000)"></i><i style="height:2px;background:linear-gradient(90deg,#17ffe0,#00a6ff,#0062ff,#0030ff,#000dff,#0000ff,#0000f4,#0000eb,#0000e9,#0000ed,#0000f5,#0000ff,#0000ff,#0010ff,#0022ff,#0035ff,#004aff,#005fff,#0076ff,#008eff,#00a6ff,#00bfff,#00d8ff,#0af2ed,#1fffd8,#34ffc3,#49ffae,#5fff98,#74ff83,#89ff6d,#9fff58,#b4ff42,#caff2d,#dfff18,#f5f802,#ffe000,#ffc700,#ffaf00,#ff9700,#ff7f00,#ff6700,#ff4f00,#ff3800,#ff2000,#f30900,#d70000,#ba0000,#9e0000,#820000,#800000)"></i><i style="height:2px;background:linear-gradient(90deg,#17ffe0,#00a6ff,#0062ff,#0030ff,#000eff,#0000ff,#0000f4,#0000ec,#0000ea,#0000ee,#0000f6,#0000ff,#0001ff,#0011ff,#0022ff,#0036ff,#004aff,#0060ff,#0077ff,#008eff,#00a7ff,#00bfff,#00d9ff,#0af2ed,#1fffd8,#34ffc3,#49ffad,#5fff98,#74ff83,#89ff6d,#9fff58,#b4ff42,#caff2d,#dfff18,#f4f802,#ffe000,#ffc800,#ffaf00,#ff9700,#ff7f00,#ff6800,#ff5000,#ff3800,#ff2100,#f40a00,#d70000,#bb0000,#9f0000,#830000,#800000)"></i><i style="height:2px;background:linear-gradient(90deg,#16ffe0,#00a5ff,#0062ff,#0031ff,#000eff,#0000ff,#0000f5,#0000ed,#0000eb,#0000ef,#0000f7,#0000ff,#0002ff,#0011ff,#0023ff,#0036ff,#004bff,#0061ff,#0077ff,#008fff,#00a7ff,#00c0ff,#00d9ff,#0af2ec,#1fffd8,#34ffc3,#49ffad,#5fff98,#74ff83,#89ff6d,#9fff58,#b4ff43,#caff2d,#dfff18,#f4f903,#ffe000,#ffc800,#ffb000,#ff9800,#ff8000,#ff6800,#ff5100,#ff3900,#ff2200,#f50a00,#d80000,#bc0000,#a00000,#850000,#800000)"></i><i style="height:2px;background:linear-gradient(90deg,#16ffe1,#00a5ff,#0062ff,#0031ff,#000eff,#0000ff,#0000f6,#0000ed,#0000ec,#0000f0,#0000f8,#0000ff,#0002ff,#0012ff,#0024ff,#0037ff,#004bff,#0061ff,#0078ff,#008fff,#00a7ff,#00c0ff,#00d9ff,#0bf3ec,#1fffd7,#34ffc2,#49ffad,#5fff98,#74ff83,#89ff6e,#9fff58,#b4ff43,#c9ff2e,#dfff18,#f4f903,#ffe100,#ffc900,#ffb000,#ff9900,#ff8100,#ff6900,#ff5100,#ff3a00,#ff2300,#f60b00,#da0000,#be0000,#a20000,#860000,#800000)"></i><i style="height:2px;background:linear-gradient(90deg,#16ffe1,#00a5ff,#0062ff,#0031ff,#000fff,#0000ff,#0000f6,#0000ee,#0000ed,#0000f0,#0000f9,#0000ff,#0003ff,#0013ff,#0024ff,#0038ff,#004cff,#0062ff,#0078ff,#0090ff,#00a8ff,#00c0ff,#00d9ff,#0bf3ec,#1fffd7,#34ffc2,#49ffad,#5fff98,#74ff83,#89ff6e,#9eff58,#b4ff43,#c9ff2e,#deff19,#f3fa03,#ffe100,#ffc900,#ffb100,#ff9900,#ff8100,#ff6a00,#ff5200,#ff3b00,#ff2400,#f70c00,#db0000,#bf0000,#a30000,#880000,#800000)"></i><i style="height:2px;background:linear-gradient(90deg,#15ffe2,#00a5ff,#0062ff,#0031ff,#000fff,#0000ff,#0000f7,#0000ef,#0000ed,#0000f1,#0000fa,#0000ff,#0004ff,#0014ff,#0025ff,#0038ff,#004dff,#0062ff,#0079ff,#0090ff,#00a8ff,#00c1ff,#00daff,#0bf3ec,#1fffd7,#34ffc2,#49ffad,#5eff98,#74ff83,#89ff6e,#9eff59,#b3ff43,#c9ff2e,#deff19,#f3fa04,#ffe200,#ffca00,#ffb200,#ff9a00,#ff8200,#ff6b00,#ff5300,#ff3c00,#ff2500,#f90e00,#dc0000,#c10000,#a50000,#890000,#800000)"></i><i style="height:2px;background:linear-gradient(90deg,#14ffe2,#00a4ff,#0062ff,#0032ff,#0010ff,#0000ff,#0000f8,#0000f0,#0000ee,#0000f2,#0000fa,#0000ff,#0005ff,#0014ff,#0026ff,#0039ff,#004dff,#0063ff,#0079ff,#0090ff,#00a8ff,#00c1ff,#00daff,#0bf3ec,#1fffd7,#34ffc2,#49ffae,#5eff99,#73ff83,#89ff6e,#9eff59,#b3ff44,#c8ff2f,#ddff1a,#f2fb05,#ffe300,#ffcb00,#ffb300,#ff9b00,#ff8300,#ff6c00,#ff5400,#ff3d00,#ff2600,#fa0f00,#de0000,#c20000,#a70000,#8b0000,#800000)"></i><i style="height:2px;background:linear-gradient(90deg,#14fee3,#00a4ff,#0062ff,#0032ff,#0010ff,#0000ff,#0000f8,#0000f0,#0000ef,#0000f3,#0000fb,#0000ff,#0005ff,#0015ff,#0026ff,#0039ff,#004eff,#0063ff,#007aff,#0091ff,#00a9ff,#00c1ff,#00daff,#0bf3ec,#1fffd7,#34ffc3,#49ffae,#5eff99,#73ff84,#88ff6f,#9dff5a,#b2ff44,#c7ff2f,#dcff1a,#f1fc05,#ffe400,#ffcc00,#ffb400,#ff9c00,#ff8500,#ff6d00,#ff5600,#ff3e00,#ff2700,#fc1000,#e00000,#c40000,#a90000,#8d0000,#800000)"></i><i style="height:2px;background:linear-gradient(90deg,#13fde4,#00a3ff,#0062ff,#0032ff,#0010ff,#0000ff,#0000f9,#0000f1,#0000f0,#0000f4,#0000fc,#0000ff,#0006ff,#0016ff,#0027ff,#003aff,#004eff,#0064ff,#007aff,#0091ff,#00a9ff,#00c1ff,#00daff,#0bf3ec,#1fffd7,#34ffc3,#49ffae,#5eff99,#73ff84,#88ff6f,#9dff5a,#b2ff45,#c7ff30,#dcff1b,#f1fd06,#ffe500,#ffcd00,#ffb500,#ff9d00,#ff8600,#ff6e00,#ff5700,#ff4000,#ff2900,#fe1200,#e20000,#c60000,#ab0000,#900000,#800000)"></i><i style="height:2px;background:linear-gradient(90deg,#12fce5,#00a3ff,#0061ff,#0032ff,#0011ff,#0000ff,#0000fa,#0000f2,#0000f1,#0000f5,#0000fd,#0000ff,#0007ff,#0016ff,#0028ff,#003aff,#004fff,#0064ff,#007aff,#0091ff,#00a9ff,#00c1ff,#00daff,#0bf3ec,#1fffd8,#34ffc3,#48ffae,#5dff99,#72ff85,#87ff70,#9cff5b,#b1ff46,#c6ff31,#dbff1c,#f0fe07,#ffe600,#ffce00,#ffb600,#ff9f00,#ff8700,#ff7000,#ff5900,#ff4200,#ff2b00,#ff1400,#e40000,#c90000,#ad0000,#920000,#800000)"></i><i style="height:2px;background:linear-gradient(90deg,#11fbe5,#00a2ff,#0061ff,#0032ff,#0011ff,#0000ff,#0000fa,#0000f3,#0000f1,#0000f5,#0000fe,#0000ff,#0007ff,#0017ff,#0028ff,#003bff,#004fff,#0064ff,#007bff,#0092ff,#00a9ff,#00c1ff,#00daff,#0bf3ec,#1fffd8,#33ffc3,#48ffaf,#5dff9a,#72ff85,#87ff70,#9bff5b,#b0ff46,#c5ff32,#daff1d,#efff08,#ffe700,#ffcf00,#ffb800,#ffa000,#ff8900,#ff7100,#ff5a00,#ff4300,#ff2c00,#ff1600,#e70000,#cb0000,#b00000,#950000,#800000)"></i><i style="height:2px;background:linear-gradient(90deg,#10fae6,#00a2ff,#0061ff,#0032ff,#0011ff,#0000ff,#0000fb,#0000f4,#0000f2,#0000f6,#0000ff,#0000ff,#0008ff,#0018ff,#0029ff,#003bff,#0050ff,#0065ff,#007bff,#0092ff,#00a9ff,#00c1ff,#00daff,#0af2ec,#1fffd8,#33ffc4,#48ffaf,#5cff9a,#71ff86,#86ff71,#9bff5c,#b0ff47,#c4ff32,#d9ff1e,#eeff09,#ffe800,#ffd100,#ffb900,#ffa200,#ff8a00,#ff7300,#ff5c00,#ff4500,#ff2e00,#ff1800,#e90100,#ce0000,#b30000,#980000,#800000)"></i><i style="height:2px;background:linear-gradient(90deg,#10f9e7,#00a1ff,#0061ff,#0032ff,#0011ff,#0000ff,#0000fc,#0000f4,#0000f3,#0000f7,#0000ff,#0000ff,#0009ff,#0018ff,#0029ff,#003cff,#0050ff,#0065ff,#007bff,#0092ff,#00a9ff,#00c1ff,#00daff,#0af2ed,#1effd8,#33ffc4,#47ffb0,#5cff9b,#71ff86,#85ff72,#9aff5d,#afff48,#c3ff33,#d8ff1f,#edff0a,#ffea00,#ffd200,#ffbb00,#ffa300,#ff8c00,#ff7500,#ff5e00,#ff4700,#ff3100,#ff1a00,#ec0400,#d10000,#b60000,#9b0000,#800000)"></i><i style="height:2px;background:linear-gradient(90deg,#0ff8e8,#00a0ff,#0060ff,#0032ff,#0012ff,#0000ff,#0000fc,#0000f5,#0000f4,#0000f8,#0000ff,#0000ff,#0009ff,#0019ff,#002aff,#003cff,#0050ff,#0065ff,#007bff,#0092ff,#00a9ff,#00c1ff,#00d9ff,#0af2ed,#1effd9,#32ffc4,#47ffb0,#5bff9c,#70ff87,#84ff72,#99ff5e,#aeff49,#c2ff34,#d7ff20,#ebff0b,#ffeb00,#ffd400,#ffbc00,#ffa500,#ff8e00,#ff7700,#ff6000,#ff4900,#ff3300,#ff1c00,#ef0600,#d40000,#b90000,#9e0000,#830000)"></i><i style="height:2px;background:linear-gradient(90deg,#0ef6e9,#00a0ff,#0060ff,#0032ff,#0012ff,#0000ff,#0000fd,#0000f6,#0000f5,#0000f9,#0000ff,#0000ff,#000aff,#0019ff,#002aff,#003dff,#0051ff,#0066ff,#007bff,#0092ff,#00a9ff,#00c1ff,#00d9ff,#0af2ed,#1effd9,#32ffc5,#46ffb1,#5bff9c,#6fff88,#84ff73,#98ff5f,#adff4a,#c1ff36,#d6ff21,#eaff0d,#feed00,#ffd500,#ffbe00,#ffa700,#ff9000,#ff7900,#ff6200,#ff4c00,#ff3500,#ff1f00,#f20900,#d70000,#bc0000,#a20000,#870000)"></i><i style="height:2px;background:linear-gradient(90deg,#0cf5ea,#009fff,#0060ff,#0032ff,#0012ff,#0000ff,#0000fe,#0000f7,#0000f6,#0000fa,#0000ff,#0000ff,#000bff,#001aff,#002bff,#003dff,#0051ff,#0066ff,#007cff,#0092ff,#00a9ff,#00c1ff,#00d9ff,#09f1ed,#1dffda,#31ffc5,#46ffb1,#5aff9d,#6eff89,#83ff74,#97ff60,#acff4b,#c0ff37,#d4ff22,#e9ff0e,#fdee00,#ffd700,#ffc000,#ffa900,#ff9200,#ff7b00,#ff6500,#ff4e00,#ff3800,#ff2100,#f60b00,#db0000,#c00000,#a50000,#8b0000)"></i><i style="height:2px;background:linear-gradient(90deg,#0bf3ec,#009eff,#005fff,#0032ff,#0012ff,#0000ff,#0000fe,#0000f7,#0000f6,#0000fa,#0000ff,#0000ff,#000bff,#001bff,#002bff,#003eff,#0051ff,#0066ff,#007cff,#0092ff,#00a9ff,#00c0ff,#00d8ff,#09f1ee,#1dffda,#31ffc6,#45ffb2,#59ff9e,#6dff89,#82ff75,#96ff61,#aaff4c,#bfff38,#d3ff24,#e7ff10,#fbf000,#ffd900,#ffc200,#ffab00,#ff9400,#ff7e00,#ff6700,#ff5100,#ff3a00,#ff2400,#f90e00,#de0000,#c40000,#a90000,#8f0000)"></i><i style="height:2px;background:linear-gradient(90deg,#0af2ed,#009dff,#005fff,#0032ff,#0013ff,#0000ff,#0000ff,#0000f8,#0000f7,#0000fb,#0000ff,#0000ff,#000cff,#001bff,#002cff,#003eff,#0052ff,#0066ff,#007cff,#0092ff,#00a9ff,#00c0ff,#00d8ff,#09f0ee,#1cffdb,#30ffc7,#44ffb3,#58ff9f,#6cff8a,#81ff76,#95ff62,#a9ff4e,#bdff3a,#d1ff25,#e6ff11,#faf200,#ffdb00,#ffc400,#ffae00,#ff9700,#ff8000,#ff6a00,#ff5300,#ff3d00,#ff2700,#fd1100,#e20000,#c80000,#ad0000,#930000)"></i><i style="height:2px;background:linear-gradient(90deg,#09f0ee,#009cff,#005fff,#0032ff,#0013ff,#0000ff,#0000ff,#0000f9,#0000f8,#0000fc,#0000ff,#0000ff,#000dff,#001cff,#002cff,#003fff,#0052ff,#0066ff,#007cff,#0092ff,#00a9ff,#00c0ff,#00d7ff,#08efef,#1cffdb,#2fffc7,#43ffb4,#57ffa0,#6bff8b,#7fff77,#94ff63,#a8ff4f,#bcff3b,#d0ff27,#e4ff13,#f8f400,#ffdd00,#ffc700,#ffb000,#ff9900,#ff8300,#ff6d00,#ff5600,#ff4000,#ff2a00,#ff1400,#e60000,#cc0000,#b10000,#970000)"></i><i style="height:2px;background:linear-gradient(90deg,#07efef,#009bff,#005eff,#0032ff,#0013ff,#0000ff,#0000ff,#0000f9,#0000f9,#0000fd,#0000ff,#0001ff,#000dff,#001cff,#002dff,#003fff,#0052ff,#0067ff,#007cff,#0092ff,#00a8ff,#00bfff,#00d7ff,#08efef,#1bffdc,#2fffc8,#42ffb4,#56ffa1,#6aff8d,#7eff79,#92ff65,#a6ff51,#baff3d,#ceff29,#e2ff15,#f6f601,#ffe000,#ffc900,#ffb200,#ff9c00,#ff8600,#ff6f00,#ff5900,#ff4300,#ff2d00,#ff1800,#ea0200,#d00000,#b60000,#9c0000)"></i><i style="height:2px;background:linear-gradient(90deg,#06edf1,#009aff,#005eff,#0032ff,#0013ff,#0000ff,#0000ff,#0000fa,#0000fa,#0000fe,#0000ff,#0001ff,#000eff,#001dff,#002dff,#003fff,#0052ff,#0067ff,#007cff,#0092ff,#00a8ff,#00bfff,#00d6ff,#07eef0,#1affdd,#2effc9,#41ffb5,#55ffa2,#69ff8e,#7dff7a,#91ff66,#a5ff52,#b9ff3e,#ccff2a,#e0ff17,#f4f903,#ffe200,#ffcc00,#ffb500,#ff9f00,#ff8900,#ff7200,#ff5c00,#ff4700,#ff3100,#ff1b00,#ef0600,#d50000,#bb0000,#a10000)"></i><i style="height:2px;background:linear-gradient(90deg,#05ebf2,#0099ff,#005dff,#0032ff,#0013ff,#0000ff,#0000ff,#0000fb,#0000fa,#0000ff,#0000ff,#0002ff,#000fff,#001dff,#002eff,#0040ff,#0053ff,#0067ff,#007cff,#0091ff,#00a8ff,#00bfff,#00d6ff,#06edf0,#1affdd,#2dffca,#40ffb6,#54ffa3,#68ff8f,#7cff7b,#8fff67,#a3ff54,#b7ff40,#cbff2c,#deff18,#f2fb05,#ffe500,#ffce00,#ffb800,#ffa200,#ff8c00,#ff7600,#ff6000,#ff4a00,#ff3400,#ff1f00,#f40a00,#d90000,#c00000,#a60000)"></i><i style="height:2px;background:linear-gradient(90deg,#03e9f4,#0098ff,#005cff,#0032ff,#0014ff,#0000ff,#0000ff,#0000fc,#0000fb,#0000ff,#0000ff,#0003ff,#000fff,#001eff,#002eff,#0040ff,#0053ff,#0067ff,#007cff,#0091ff,#00a7ff,#00beff,#00d5ff,#06ecf1,#19ffde,#2cffcb,#3fffb7,#53ffa4,#66ff90,#7aff7d,#8eff69,#a1ff55,#b5ff42,#c9ff2e,#dcff1b,#f0fe07,#ffe700,#ffd100,#ffbb00,#ffa500,#ff8f00,#ff7900,#ff6300,#ff4e00,#ff3800,#ff2300,#f80d00,#de0000,#c50000,#ab0000)"></i><i style="height:2px;background:linear-gradient(90deg,#01e7f5,#0097ff,#005cff,#0031ff,#0014ff,#0000ff,#0000ff,#0000fc,#0000fc,#0000ff,#0000ff,#0003ff,#0010ff,#001eff,#002fff,#0040ff,#0053ff,#0067ff,#007cff,#0091ff,#00a7ff,#00bdff,#00d4ff,#05ecf2,#18ffdf,#2bffcc,#3effb8,#52ffa5,#65ff92,#79ff7e,#8cff6b,#a0ff57,#b3ff44,#c7ff30,#daff1d,#edff09,#ffea00,#ffd400,#ffbe00,#ffa800,#ff9200,#ff7c00,#ff6700,#ff5100,#ff3c00,#ff2700,#fd1200,#e40000,#ca0000,#b10000)"></i><i style="height:2px;background:linear-gradient(90deg,#00e5f7,#0095ff,#005bff,#0031ff,#0014ff,#0000ff,#0000ff,#0000fd,#0000fd,#0000ff,#0000ff,#0004ff,#0010ff,#001fff,#002fff,#0040ff,#0053ff,#0067ff,#007bff,#0091ff,#00a7ff,#00bdff,#00d4ff,#04ebf3,#17ffe0,#2affcd,#3dffba,#50ffa6,#64ff93,#77ff80,#8aff6c,#9eff59,#b1ff46,#c5ff32,#d8ff1f,#ebff0c,#feed00,#ffd700,#ffc100,#ffab00,#ff9600,#ff8000,#ff6b00,#ff5500,#ff4000,#ff2b00,#ff1600,#e90100,#d00000,#b60000)"></i><i style="height:2px;background:linear-gradient(90deg,#00e3f9,#0094ff,#005aff,#0031ff,#0014ff,#0001ff,#0000ff,#0000fe,#0000fd,#0000ff,#0000ff,#0004ff,#0011ff,#001fff,#002fff,#0041ff,#0053ff,#0067ff,#007bff,#0090ff,#00a6ff,#00bcff,#00d3ff,#03eaf3,#16ffe1,#29ffce,#3cffbb,#4fffa8,#62ff95,#75ff81,#89ff6e,#9cff5b,#afff48,#c2ff34,#d5ff21,#e9ff0e,#fcf000,#ffda00,#ffc400,#ffaf00,#ff9900,#ff8400,#ff6e00,#ff5900,#ff4400,#ff2f00,#ff1a00,#ef0600,#d50000,#bc0000)"></i><i style="height:2px;background:linear-gradient(90deg,#00e1fa,#0093ff,#005aff,#0031ff,#0014ff,#0001ff,#0000ff,#0000ff,#0000fe,#0000ff,#0000ff,#0005ff,#0011ff,#0020ff,#0030ff,#0041ff,#0053ff,#0067ff,#007bff,#0090ff,#00a5ff,#00bbff,#00d2ff,#02e9f4,#15ffe2,#28ffcf,#3bffbc,#4effa9,#61ff96,#74ff83,#87ff70,#9aff5d,#adff4a,#c0ff37,#d3ff24,#e6ff11,#f9f300,#ffdd00,#ffc800,#ffb200,#ff9d00,#ff8800,#ff7200,#ff5d00,#ff4800,#ff3400,#ff1f00,#f40a00,#db0000,#c20000)"></i><i style="height:2px;background:linear-gradient(90deg,#00dffc,#0091ff,#0059ff,#0030ff,#0014ff,#0001ff,#0000ff,#0000ff,#0000ff,#0000ff,#0000ff,#0006ff,#0012ff,#0020ff,#0030ff,#0041ff,#0053ff,#0067ff,#007bff,#0090ff,#00a5ff,#00bbff,#00d1ff,#02e7f5,#14fee3,#27ffd0,#39ffbe,#4cffab,#5fff98,#72ff85,#85ff72,#98ff5f,#abff4c,#beff39,#d0ff26,#e3ff13,#f6f601,#ffe100,#ffcb00,#ffb600,#ffa100,#ff8c00,#ff7700,#ff6200,#ff4d00,#ff3800,#ff2400,#fa0f00,#e10000,#c90000)"></i><i style="height:2px;background:linear-gradient(90deg,#00ddfe,#0090ff,#0058ff,#0030ff,#0014ff,#0002ff,#0000ff,#0000ff,#0000ff,#0000ff,#0000ff,#0006ff,#0013ff,#0021ff,#0030ff,#0041ff,#0053ff,#0067ff,#007bff,#008fff,#00a4ff,#00baff,#00d0ff,#01e6f6,#13fde4,#25ffd2,#38ffbf,#4affac,#5dff9a,#70ff87,#83ff74,#96ff61,#a8ff4e,#bbff3c,#ceff29,#e1ff16,#f3fa04,#ffe400,#ffcf00,#ffba00,#ffa500,#ff9000,#ff7b00,#ff6600,#ff5200,#ff3d00,#ff2900,#ff1400,#e80000,#cf0000)"></i><i style="height:2px;background:linear-gradient(90deg,#00daff,#008eff,#0057ff,#0030ff,#0014ff,#0002ff,#0000ff,#0000ff,#0000ff,#0000ff,#0000ff,#0007ff,#0013ff,#0021ff,#0031ff,#0041ff,#0053ff,#0066ff,#007aff,#008fff,#00a4ff,#00b9ff,#00cfff,#00e5f7,#12fbe5,#24ffd3,#36ffc0,#49ffae,#5bff9b,#6eff89,#81ff76,#93ff64,#a6ff51,#b9ff3e,#cbff2c,#deff19,#f0fd07,#ffe800,#ffd300,#ffbe00,#ffa900,#ff9400,#ff7f00,#ff6b00,#ff5600,#ff4200,#ff2e00,#ff1a00,#ef0600,#d60000)"></i><i style="height:2px;background:linear-gradient(90deg,#00d8ff,#008dff,#0056ff,#002fff,#0014ff,#0002ff,#0000ff,#0000ff,#0000ff,#0000ff,#0000ff,#0008ff,#0014ff,#0021ff,#0031ff,#0042ff,#0053ff,#0066ff,#007aff,#008eff,#00a3ff,#00b8ff,#00ceff,#00e4f8,#10fae6,#23ffd4,#35ffc2,#47ffb0,#59ff9d,#6cff8b,#7eff78,#91ff66,#a3ff53,#b6ff41,#c8ff2e,#dbff1c,#edff0a,#ffec00,#ffd700,#ffc200,#ffad00,#ff9900,#ff8400,#ff7000,#ff5b00,#ff4700,#ff3300,#ff1f00,#f50b00,#dd0000)"></i><i style="height:2px;background:linear-gradient(90deg,#00d5ff,#008bff,#0055ff,#002fff,#0014ff,#0003ff,#0000ff,#0000ff,#0000ff,#0000ff,#0000ff,#0008ff,#0014ff,#0022ff,#0031ff,#0042ff,#0053ff,#0066ff,#0079ff,#008eff,#00a2ff,#00b7ff,#00cdff,#00e2f9,#0ff8e8,#21ffd6,#33ffc4,#45ffb1,#58ff9f,#6aff8d,#7cff7b,#8eff68,#a1ff56,#b3ff44,#c5ff31,#d8ff1f,#eaff0d,#fcf000,#ffdb00,#ffc600,#ffb200,#ff9d00,#ff8900,#ff7500,#ff6000,#ff4c00,#ff3800,#ff2500,#fd1100,#e50000)"></i><i style="height:2px;background:linear-gradient(90deg,#00d3ff,#0089ff,#0054ff,#002fff,#0014ff,#0003ff,#0000ff,#0000ff,#0000ff,#0000ff,#0000ff,#0009ff,#0015ff,#0022ff,#0031ff,#0042ff,#0053ff,#0066ff,#0079ff,#008dff,#00a1ff,#00b6ff,#00cbff,#00e1fa,#0ef7e9,#20ffd7,#32ffc5,#43ffb3,#56ffa1,#68ff8f,#7aff7d,#8cff6b,#9eff59,#b0ff47,#c2ff34,#d4ff22,#e6ff10,#f8f400,#ffdf00,#ffcb00,#ffb600,#ffa200,#ff8e00,#ff7a00,#ff6600,#ff5200,#ff3e00,#ff2a00,#ff1700,#ec0300)"></i><i style="height:2px;background:linear-gradient(90deg,#00d0ff,#0088ff,#0054ff,#002eff,#0014ff,#0003ff,#0000ff,#0000ff,#0000ff,#0000ff,#0000ff,#0009ff,#0015ff,#0023ff,#0032ff,#0042ff,#0053ff,#0066ff,#0079ff,#008cff,#00a0ff,#00b5ff,#00caff,#00dffc,#0cf5ea,#1effd9,#30ffc7,#42ffb5,#53ffa3,#65ff91,#77ff7f,#89ff6d,#9bff5c,#adff4a,#bfff38,#d1ff26,#e3ff14,#f5f802,#ffe400,#ffcf00,#ffbb00,#ffa700,#ff9300,#ff7f00,#ff6b00,#ff5800,#ff4400,#ff3000,#ff1d00,#f40a00)"></i><i style="height:2px;background:linear-gradient(90deg,#00cdff,#0086ff,#0052ff,#002eff,#0014ff,#0003ff,#0000ff,#0000ff,#0000ff,#0000ff,#0000ff,#000aff,#0016ff,#0023ff,#0032ff,#0042ff,#0053ff,#0065ff,#0078ff,#008cff,#00a0ff,#00b4ff,#00c9ff,#00defd,#0bf3ec,#1cffda,#2effc9,#40ffb7,#51ffa6,#63ff94,#75ff82,#87ff70,#98ff5e,#aaff4d,#bcff3b,#ceff29,#dfff18,#f1fc06,#ffe800,#ffd400,#ffc000,#ffac00,#ff9800,#ff8500,#ff7100,#ff5d00,#ff4a00,#ff3700,#ff2300,#fc1000)"></i><i style="height:2px;background:linear-gradient(90deg,#00caff,#0084ff,#0051ff,#002dff,#0014ff,#0004ff,#0000ff,#0000ff,#0000ff,#0000ff,#0001ff,#000bff,#0016ff,#0023ff,#0032ff,#0042ff,#0053ff,#0065ff,#0078ff,#008bff,#009fff,#00b3ff,#00c7ff,#00dcfe,#0af1ed,#1bffdc,#2cffcb,#3effb9,#4fffa8,#61ff96,#72ff85,#84ff73,#95ff61,#a7ff50,#b9ff3e,#caff2d,#dcff1b,#edff0a,#feed00,#ffd900,#ffc500,#ffb100,#ff9e00,#ff8a00,#ff7700,#ff6300,#ff5000,#ff3d00,#ff2a00,#ff1700)"></i><i style="height:2px;background:linear-gradient(90deg,#00c7ff,#0082ff,#0050ff,#002dff,#0014ff,#0004ff,#0000ff,#0000ff,#0000ff,#0000ff,#0002ff,#000bff,#0017ff,#0024ff,#0032ff,#0042ff,#0053ff,#0065ff,#0077ff,#008aff,#009eff,#00b2ff,#00c6ff,#00dbff,#08efef,#19ffde,#2affcd,#3bffbb,#4dffaa,#5eff99,#6fff87,#81ff76,#92ff65,#a4ff53,#b5ff42,#c6ff30,#d8ff1f,#e9ff0e,#faf200,#ffde00,#ffca00,#ffb700,#ffa300,#ff9000,#ff7d00,#ff6a00,#ff5700,#ff4400,#ff3100,#ff1e00)"></i><i style="height:2px;background:linear-gradient(90deg,#00c4ff,#0080ff,#004fff,#002cff,#0014ff,#0004ff,#0000ff,#0000ff,#0000ff,#0000ff,#0002ff,#000cff,#0017ff,#0024ff,#0032ff,#0042ff,#0053ff,#0064ff,#0076ff,#0089ff,#009dff,#00b0ff,#00c4ff,#00d9ff,#06edf0,#17ffe0,#28ffcf,#39ffbe,#4affac,#5bff9b,#6dff8a,#7eff79,#8fff68,#a0ff57,#b1ff45,#c3ff34,#d4ff23,#e5ff12,#f6f701,#ffe300,#ffd000,#ffbc00,#ffa900,#ff9600,#ff8300,#ff7000,#ff5d00,#ff4b00,#ff3800,#ff2500)"></i><i style="height:2px;background:linear-gradient(90deg,#00c1ff,#007eff,#004eff,#002cff,#0014ff,#0004ff,#0000ff,#0000ff,#0000ff,#0000ff,#0003ff,#000cff,#0017ff,#0024ff,#0033ff,#0042ff,#0053ff,#0064ff,#0076ff,#0088ff,#009bff,#00afff,#00c3ff,#00d7ff,#05ebf2,#15ffe1,#26ffd1,#37ffc0,#48ffaf,#59ff9e,#6aff8d,#7bff7c,#8cff6b,#9dff5a,#aeff49,#bfff38,#d0ff27,#e1ff16,#f1fc05,#ffe900,#ffd500,#ffc200,#ffaf00,#ff9c00,#ff8900,#ff7700,#ff6400,#ff5200,#ff3f00,#ff2d00)"></i><i style="height:2px;background:linear-gradient(90deg,#00beff,#007cff,#004dff,#002bff,#0014ff,#0005ff,#0000ff,#0000ff,#0000ff,#0000ff,#0004ff,#000dff,#0018ff,#0025ff,#0033ff,#0042ff,#0052ff,#0063ff,#0075ff,#0087ff,#009aff,#00aeff,#00c1ff,#00d5ff,#03e9f4,#13fee3,#24ffd3,#35ffc2,#45ffb2,#56ffa1,#67ff90,#78ff7f,#88ff6e,#99ff5e,#aaff4d,#bbff3c,#cbff2b,#dcff1b,#edff0a,#fdee00,#ffdb00,#ffc800,#ffb500,#ffa300,#ff9000,#ff7e00,#ff6b00,#ff5900,#ff4700,#ff3400)"></i><i style="height:2px;background:linear-gradient(90deg,#00bbff,#007aff,#004cff,#002bff,#0014ff,#0005ff,#0000ff,#0000ff,#0000ff,#0000ff,#0004ff,#000dff,#0018ff,#0025ff,#0033ff,#0042ff,#0052ff,#0063ff,#0074ff,#0086ff,#0099ff,#00acff,#00bfff,#00d3ff,#01e7f6,#11fbe5,#22ffd5,#32ffc5,#43ffb4,#53ffa4,#64ff93,#74ff83,#85ff72,#95ff61,#a6ff51,#b7ff40,#c7ff30,#d8ff1f,#e8ff0f,#f8f400,#ffe100,#ffce00,#ffbc00,#ffa900,#ff9700,#ff8500,#ff7200,#ff6000,#ff4e00,#ff3c00)"></i><i style="height:2px;background:linear-gradient(90deg,#00b8ff,#0078ff,#004aff,#002aff,#0014ff,#0005ff,#0000ff,#0000ff,#0000ff,#0000ff,#0005ff,#000eff,#0019ff,#0025ff,#0033ff,#0042ff,#0052ff,#0062ff,#0074ff,#0086ff,#0098ff,#00abff,#00beff,#00d1ff,#00e5f7,#0ff8e7,#1fffd7,#30ffc7,#40ffb7,#50ffa7,#61ff96,#71ff86,#81ff76,#92ff65,#a2ff55,#b2ff44,#c3ff34,#d3ff24,#e3ff14,#f3fa04,#ffe700,#ffd500,#ffc200,#ffb000,#ff9e00,#ff8c00,#ff7a00,#ff6800,#ff5600,#ff4400)"></i><i style="height:2px;background:linear-gradient(90deg,#00b4ff,#0076ff,#0049ff,#0029ff,#0013ff,#0005ff,#0000ff,#0000ff,#0000ff,#0000ff,#0006ff,#000eff,#0019ff,#0025ff,#0033ff,#0042ff,#0051ff,#0062ff,#0073ff,#0084ff,#0097ff,#00a9ff,#00bcff,#00cfff,#00e2f9,#0df6ea,#1dffda,#2dffca,#3dffba,#4dffaa,#5dff9a,#6dff89,#7eff79,#8eff69,#9eff59,#aeff49,#beff39,#ceff29,#deff19,#eeff09,#feed00,#ffdb00,#ffc900,#ffb700,#ffa500,#ff9300,#ff8100,#ff7000,#ff5e00,#ff4d00)"></i><i style="height:2px;background:linear-gradient(90deg,#00b1ff,#0074ff,#0048ff,#0029ff,#0013ff,#0005ff,#0000ff,#0000ff,#0000ff,#0000ff,#0006ff,#000fff,#001aff,#0026ff,#0033ff,#0042ff,#0051ff,#0061ff,#0072ff,#0083ff,#0095ff,#00a7ff,#00baff,#00cdff,#00e0fb,#0bf3ec,#1bffdc,#2affcc,#3affbd,#4affad,#5aff9d,#6aff8d,#7aff7d,#8aff6d,#9aff5d,#a9ff4d,#b9ff3d,#c9ff2e,#d9ff1e,#e9ff0e,#f8f400,#ffe200,#ffd000,#ffbe00,#ffac00,#ff9b00,#ff8900,#ff7800,#ff6600,#ff5500)"></i><i style="height:2px;background:linear-gradient(90deg,#00adff,#0071ff,#0046ff,#0028ff,#0013ff,#0006ff,#0000ff,#0000ff,#0000ff,#0000ff,#0007ff,#000fff,#001aff,#0026ff,#0033ff,#0041ff,#0051ff,#0061ff,#0071ff,#0082ff,#0094ff,#00a6ff,#00b8ff,#00cbff,#00ddfd,#09f0ee,#18ffdf,#28ffcf,#37ffc0,#47ffb0,#56ffa0,#66ff91,#76ff81,#85ff71,#95ff62,#a5ff52,#b4ff42,#c4ff33,#d4ff23,#e3ff14,#f3fa04,#ffe900,#ffd700,#ffc600,#ffb400,#ffa300,#ff9100,#ff8000,#ff6f00,#ff5e00)"></i><i style="height:2px;background:linear-gradient(90deg,#00aaff,#006fff,#0045ff,#0027ff,#0013ff,#0006ff,#0000ff,#0000ff,#0000ff,#0001ff,#0007ff,#0010ff,#001aff,#0026ff,#0033ff,#0041ff,#0050ff,#0060ff,#0070ff,#0081ff,#0092ff,#00a4ff,#00b6ff,#00c8ff,#00dbff,#06edf0,#15ffe1,#25ffd2,#34ffc3,#43ffb3,#53ffa4,#62ff95,#72ff85,#81ff76,#91ff66,#a0ff57,#afff47,#bfff38,#ceff29,#ddff19,#edff0a,#fcf000,#ffde00,#ffcd00,#ffbc00,#ffab00,#ff9a00,#ff8900,#ff7800,#ff6700)"></i><i style="height:2px;background:linear-gradient(90deg,#00a6ff,#006dff,#0043ff,#0026ff,#0013ff,#0006ff,#0000ff,#0000ff,#0000ff,#0001ff,#0008ff,#0010ff,#001bff,#0026ff,#0033ff,#0041ff,#0050ff,#005fff,#006fff,#0080ff,#0091ff,#00a2ff,#00b4ff,#00c6ff,#00d8ff,#04eaf3,#13fde4,#22ffd5,#31ffc6,#40ffb7,#4fffa8,#5eff98,#6eff89,#7dff7a,#8cff6b,#9bff5c,#aaff4d,#b9ff3d,#c8ff2e,#d7ff1f,#e6ff10,#f5f701,#ffe600,#ffd500,#ffc400,#ffb300,#ffa200,#ff9200,#ff8100,#ff7000)"></i><i style="height:2px;background:linear-gradient(90deg,#00a2ff,#006aff,#0042ff,#0026ff,#0012ff,#0006ff,#0000ff,#0000ff,#0000ff,#0002ff,#0009ff,#0011ff,#001bff,#0027ff,#0033ff,#0041ff,#004fff,#005eff,#006eff,#007eff,#008fff,#00a0ff,#00b2ff,#00c3ff,#00d5ff,#01e7f5,#10f9e7,#1fffd8,#2effc9,#3cffba,#4bffab,#5aff9d,#69ff8e,#78ff7f,#87ff70,#96ff61,#a5ff52,#b4ff43,#c3ff34,#d1ff25,#e0ff17,#efff08,#feee00,#ffdd00,#ffcc00,#ffbc00,#ffab00,#ff9b00,#ff8a00,#ff7a00)"></i><i style="height:2px;background:linear-gradient(90deg,#009fff,#0068ff,#0040ff,#0025ff,#0012ff,#0006ff,#0000ff,#0000ff,#0000ff,#0003ff,#0009ff,#0011ff,#001bff,#0027ff,#0033ff,#0041ff,#004fff,#005eff,#006dff,#007dff,#008eff,#009eff,#00afff,#00c1ff,#00d2ff,#00e4f8,#0df6ea,#1cffdb,#2affcd,#39ffbe,#47ffaf,#56ffa1,#65ff92,#73ff83,#82ff75,#91ff66,#9fff57,#aeff49,#bdff3a,#cbff2c,#daff1d,#e8ff0f,#f7f600,#ffe500,#ffd500,#ffc500,#ffb400,#ffa400,#ff9400,#ff8400)"></i><i style="height:2px;background:linear-gradient(90deg,#009bff,#0065ff,#003fff,#0024ff,#0012ff,#0006ff,#0000ff,#0000ff,#0000ff,#0003ff,#000aff,#0012ff,#001cff,#0027ff,#0033ff,#0040ff,#004eff,#005dff,#006cff,#007cff,#008cff,#009cff,#00adff,#00beff,#00cfff,#00e1fb,#0af2ed,#18ffde,#27ffd0,#35ffc2,#43ffb3,#52ffa5,#60ff97,#6fff88,#7dff7a,#8bff6b,#9aff5d,#a8ff4f,#b7ff40,#c5ff32,#d3ff24,#e1ff15,#effe07,#feee00,#ffde00,#ffce00,#ffbe00,#ffae00,#ff9e00,#ff8e00)"></i><i style="height:2px;background:linear-gradient(90deg,#0097ff,#0062ff,#003dff,#0023ff,#0012ff,#0006ff,#0000ff,#0000ff,#0000ff,#0004ff,#000aff,#0012ff,#001cff,#0027ff,#0033ff,#0040ff,#004eff,#005cff,#006bff,#007aff,#008aff,#009aff,#00abff,#00bbff,#00ccff,#00ddfd,#07eef0,#15ffe2,#23ffd4,#31ffc6,#3fffb7,#4dffa9,#5cff9b,#6aff8d,#78ff7f,#86ff71,#94ff63,#a2ff55,#b0ff47,#beff39,#ccff2b,#daff1d,#e8ff0f,#f6f701,#ffe700,#ffd700,#ffc700,#ffb800,#ffa800,#ff9800)"></i><i style="height:2px;background:linear-gradient(90deg,#0092ff,#0060ff,#003cff,#0022ff,#0011ff,#0007ff,#0001ff,#0000ff,#0000ff,#0005ff,#000bff,#0013ff,#001cff,#0027ff,#0033ff,#003fff,#004dff,#005bff,#006aff,#0079ff,#0088ff,#0098ff,#00a8ff,#00b8ff,#00c9ff,#00daff,#04ebf3,#12fbe5,#1fffd7,#2dffca,#3bffbc,#49ffae,#57ffa0,#65ff92,#72ff84,#80ff76,#8eff69,#9cff5b,#aaff4d,#b7ff3f,#c5ff32,#d3ff24,#e1ff16,#eeff09,#fcf000,#ffe000,#ffd100,#ffc200,#ffb200,#ffa300)"></i><i style="height:2px;background:linear-gradient(90deg,#008eff,#005dff,#003aff,#0022ff,#0011ff,#0007ff,#0001ff,#0000ff,#0001ff,#0005ff,#000bff,#0013ff,#001dff,#0027ff,#0033ff,#003fff,#004cff,#005aff,#0068ff,#0077ff,#0086ff,#0096ff,#00a6ff,#00b6ff,#00c6ff,#00d6ff,#01e7f6,#0ef7e9,#1cffdb,#29ffce,#37ffc0,#44ffb3,#52ffa5,#5fff97,#6dff8a,#7aff7c,#88ff6f,#96ff61,#a3ff54,#b1ff46,#beff39,#cbff2b,#d9ff1e,#e6ff11,#f3fa03,#ffea00,#ffdb00,#ffcc00,#ffbd00,#ffae00)"></i><i style="height:2px;background:linear-gradient(90deg,#008aff,#005aff,#0038ff,#0021ff,#0011ff,#0007ff,#0002ff,#0000ff,#0002ff,#0006ff,#000cff,#0014ff,#001dff,#0027ff,#0032ff,#003fff,#004cff,#0059ff,#0067ff,#0075ff,#0084ff,#0093ff,#00a3ff,#00b2ff,#00c2ff,#00d2ff,#00e2f9,#0bf3ec,#18ffdf,#25ffd2,#32ffc5,#3fffb7,#4dffaa,#5aff9d,#67ff90,#74ff82,#82ff75,#8fff68,#9cff5b,#a9ff4d,#b7ff40,#c4ff33,#d1ff26,#deff19,#ebff0c,#f8f500,#ffe600,#ffd700,#ffc800,#ffba00)"></i><i style="height:2px;background:linear-gradient(90deg,#0086ff,#0057ff,#0036ff,#0020ff,#0010ff,#0007ff,#0002ff,#0001ff,#0002ff,#0006ff,#000cff,#0014ff,#001dff,#0027ff,#0032ff,#003eff,#004bff,#0058ff,#0066ff,#0074ff,#0082ff,#0091ff,#00a0ff,#00afff,#00bfff,#00ceff,#00defd,#07eef0,#14fee3,#21ffd6,#2dffc9,#3affbc,#47ffaf,#54ffa2,#61ff95,#6eff88,#7bff7c,#88ff6f,#95ff62,#a2ff55,#afff48,#bcff3b,#c8ff2e,#d5ff22,#e2ff15,#efff08,#fbf000,#ffe200,#ffd400,#ffc500)"></i><i style="height:2px;background:linear-gradient(90deg,#0081ff,#0054ff,#0035ff,#001fff,#0010ff,#0007ff,#0002ff,#0001ff,#0003ff,#0007ff,#000dff,#0014ff,#001dff,#0027ff,#0032ff,#003eff,#004aff,#0057ff,#0064ff,#0072ff,#0080ff,#008fff,#009dff,#00acff,#00bbff,#00caff,#00daff,#03e9f4,#0ff9e7,#1cffdb,#29ffce,#35ffc1,#42ffb5,#4fffa8,#5bff9c,#68ff8f,#75ff82,#81ff76,#8eff69,#9aff5c,#a7ff50,#b3ff43,#c0ff37,#ccff2a,#d9ff1e,#e5ff12,#f2fc05,#feee00,#ffdf00,#ffd100)"></i><i style="height:2px;background:linear-gradient(90deg,#007cff,#0051ff,#0033ff,#001eff,#0010ff,#0007ff,#0003ff,#0002ff,#0003ff,#0007ff,#000dff,#0015ff,#001dff,#0027ff,#0032ff,#003dff,#0049ff,#0056ff,#0063ff,#0070ff,#007eff,#008cff,#009aff,#00a9ff,#00b7ff,#00c6ff,#00d5ff,#00e4f8,#0bf3ec,#17ffdf,#24ffd3,#30ffc7,#3cffba,#49ffae,#55ffa2,#61ff95,#6eff89,#7aff7d,#86ff70,#93ff64,#9fff58,#abff4c,#b7ff40,#c3ff33,#cfff27,#dbff1b,#e8ff0f,#f3f903,#ffec00,#ffde00)"></i><i style="height:2px;background:linear-gradient(90deg,#0078ff,#004eff,#0031ff,#001dff,#000fff,#0007ff,#0003ff,#0002ff,#0004ff,#0008ff,#000eff,#0015ff,#001dff,#0027ff,#0031ff,#003cff,#0048ff,#0054ff,#0061ff,#006eff,#007cff,#0089ff,#0097ff,#00a5ff,#00b4ff,#00c2ff,#00d0ff,#00dffc,#07eef0,#13fde4,#1fffd8,#2bffcc,#37ffc0,#43ffb4,#4fffa8,#5bff9c,#67ff90,#73ff84,#7fff78,#8aff6c,#96ff60,#a2ff55,#aeff49,#baff3d,#c6ff31,#d1ff25,#ddff1a,#e9ff0e,#f5f802,#ffeb00)"></i><i style="height:2px;background:linear-gradient(90deg,#0073ff,#004bff,#002fff,#001cff,#000fff,#0007ff,#0003ff,#0003ff,#0005ff,#0008ff,#000eff,#0015ff,#001eff,#0027ff,#0031ff,#003cff,#0047ff,#0053ff,#005fff,#006cff,#0079ff,#0086ff,#0094ff,#00a2ff,#00afff,#00bdff,#00ccff,#00daff,#02e8f5,#0ef6e9,#19ffde,#25ffd2,#31ffc6,#3cffbb,#48ffaf,#54ffa3,#5fff98,#6bff8c,#76ff80,#82ff75,#8eff69,#99ff5e,#a5ff52,#b0ff46,#bcff3b,#c7ff30,#d3ff24,#deff19,#e9ff0e,#f5f802)"></i><i style="height:2px;background:linear-gradient(90deg,#006eff,#0048ff,#002dff,#001aff,#000eff,#0007ff,#0004ff,#0003ff,#0005ff,#0009ff,#000fff,#0016ff,#001eff,#0027ff,#0030ff,#003bff,#0046ff,#0052ff,#005eff,#006aff,#0077ff,#0083ff,#0091ff,#009eff,#00abff,#00b9ff,#00c7ff,#00d4ff,#00e2f9,#09f0ee,#14fee3,#1fffd8,#2affcc,#36ffc1,#41ffb6,#4cffaa,#58ff9f,#63ff94,#6eff89,#79ff7d,#85ff72,#90ff67,#9bff5c,#a6ff50,#b1ff45,#bdff3a,#c8ff2f,#d3ff24,#deff19,#e9ff0e)"></i><i style="height:2px;background:linear-gradient(90deg,#0069ff,#0045ff,#002bff,#0019ff,#000eff,#0007ff,#0004ff,#0004ff,#0006ff,#0009ff,#000fff,#0016ff,#001eff,#0026ff,#0030ff,#003aff,#0045ff,#0050ff,#005cff,#0068ff,#0074ff,#0080ff,#008dff,#009aff,#00a7ff,#00b4ff,#00c1ff,#00cfff,#00dcfe,#03e9f4,#0ef7e9,#19ffde,#24ffd3,#2fffc8,#3affbd,#45ffb2,#50ffa7,#5bff9c,#66ff91,#71ff86,#7bff7b,#86ff70,#91ff66,#9cff5b,#a7ff50,#b1ff45,#bcff3b,#c7ff30,#d2ff25,#dcff1b)"></i><i style="height:2px;background:linear-gradient(90deg,#0064ff,#0041ff,#0029ff,#0018ff,#000dff,#0007ff,#0004ff,#0004ff,#0006ff,#000aff,#000fff,#0016ff,#001eff,#0026ff,#002fff,#0039ff,#0044ff,#004eff,#005aff,#0065ff,#0071ff,#007dff,#0089ff,#0096ff,#00a2ff,#00afff,#00bcff,#00c9ff,#00d6ff,#00e3f9,#08f0ef,#13fde4,#1dffd9,#28ffcf,#32ffc4,#3dffba,#48ffaf,#52ffa5,#5dff9a,#67ff8f,#72ff85,#7cff7a,#87ff70,#91ff66,#9cff5b,#a6ff51,#b0ff46,#bbff3c,#c5ff32,#cfff27)"></i><i style="height:2px;background:linear-gradient(90deg,#005fff,#003eff,#0027ff,#0017ff,#000dff,#0007ff,#0004ff,#0004ff,#0006ff,#000aff,#0010ff,#0016ff,#001eff,#0026ff,#002fff,#0038ff,#0042ff,#004dff,#0058ff,#0063ff,#006eff,#007aff,#0086ff,#0092ff,#009eff,#00aaff,#00b6ff,#00c3ff,#00cfff,#00dcff,#02e8f5,#0cf5eb,#16ffe0,#21ffd6,#2bffcc,#35ffc2,#3fffb8,#49ffad,#54ffa3,#5eff99,#68ff8f,#72ff85,#7cff7b,#86ff71,#90ff67,#9aff5d,#a4ff53,#aeff49,#b8ff3f,#c2ff35)"></i><i style="height:1px;background:linear-gradient(90deg,#005bff,#003bff,#0025ff,#0016ff,#000cff,#0007ff,#0004ff,#0005ff,#0007ff,#000bff,#0010ff,#0016ff,#001dff,#0026ff,#002eff,#0038ff,#0041ff,#004bff,#0056ff,#0061ff,#006cff,#0077ff,#0083ff,#008eff,#009aff,#00a6ff,#00b2ff,#00beff,#00caff,#00d6ff,#00e2f9,#07eef0,#11fbe6,#1bffdc,#25ffd2,#2fffc8,#39ffbe,#43ffb4,#4cffaa,#56ffa1,#60ff97,#6aff8d,#74ff83,#7eff79,#87ff70,#91ff66,#9bff5c,#a4ff52,#aeff49,#b8ff3f)"></i><i style="height:1px;background:linear-gradient(90deg,#0058ff,#0039ff,#0024ff,#0015ff,#000cff,#0007ff,#0005ff,#0005ff,#0007ff,#000bff,#0010ff,#0016ff,#001dff,#0025ff,#002eff,#0037ff,#0041ff,#004bff,#0055ff,#005fff,#006aff,#0075ff,#0081ff,#008cff,#0097ff,#00a3ff,#00afff,#00bbff,#00c6ff,#00d2ff,#00defd,#04eaf3,#0df6e9,#17ffe0,#21ffd6,#2affcc,#34ffc3,#3effb9,#48ffaf,#51ffa6,#5bff9c,#64ff92,#6eff89,#78ff7f,#81ff76,#8bff6c,#94ff63,#9eff59,#a7ff50,#b1ff46)"></i><i style="height:1px;background:linear-gradient(90deg,#0055ff,#0037ff,#0023ff,#0015ff,#000cff,#0007ff,#0005ff,#0005ff,#0007ff,#000bff,#0010ff,#0016ff,#001dff,#0025ff,#002dff,#0036ff,#0040ff,#004aff,#0054ff,#005eff,#0069ff,#0073ff,#007eff,#008aff,#0095ff,#00a0ff,#00acff,#00b7ff,#00c3ff,#00ceff,#00daff,#00e6f7,#0af1ed,#13fde4,#1dffda,#26ffd1,#30ffc7,#39ffbe,#43ffb4,#4cffab,#55ffa1,#5fff98,#68ff8f,#72ff85,#7bff7c,#84ff72,#8eff69,#97ff60,#a0ff57,#a9ff4d)"></i><i style="height:1px;background:linear-gradient(90deg,#0053ff,#0036ff,#0022ff,#0014ff,#000cff,#0007ff,#0005ff,#0005ff,#0007ff,#000bff,#0010ff,#0016ff,#001dff,#0025ff,#002dff,#0036ff,#003fff,#0049ff,#0052ff,#005dff,#0067ff,#0071ff,#007cff,#0087ff,#0092ff,#009dff,#00a8ff,#00b4ff,#00bfff,#00caff,#00d6ff,#00e1fa,#06edf1,#0ff8e8,#18ffde,#22ffd5,#2bffcc,#34ffc3,#3dffb9,#47ffb0,#50ffa7,#59ff9e,#62ff94,#6bff8b,#75ff82,#7eff79,#87ff70,#90ff67,#99ff5e,#a2ff55)"></i><i style="height:1px;background:linear-gradient(90deg,#0050ff,#0034ff,#0020ff,#0013ff,#000bff,#0007ff,#0005ff,#0005ff,#0008ff,#000bff,#0010ff,#0016ff,#001dff,#0024ff,#002dff,#0035ff,#003eff,#0047ff,#0051ff,#005bff,#0065ff,#006fff,#007aff,#0085ff,#008fff,#009aff,#00a5ff,#00b0ff,#00bbff,#00c6ff,#00d1ff,#00ddfe,#02e8f5,#0bf3ec,#14fee3,#1dffda,#26ffd1,#2fffc8,#38ffbf,#41ffb6,#4affad,#53ffa4,#5cff9b,#65ff92,#6eff89,#77ff80,#80ff77,#89ff6e,#92ff65,#9aff5c)"></i><i style="height:1px;background:linear-gradient(90deg,#004dff,#0032ff,#001fff,#0013ff,#000bff,#0007ff,#0005ff,#0005ff,#0008ff,#000bff,#0010ff,#0016ff,#001dff,#0024ff,#002cff,#0034ff,#003dff,#0046ff,#0050ff,#0059ff,#0063ff,#006dff,#0078ff,#0082ff,#008dff,#0097ff,#00a2ff,#00adff,#00b7ff,#00c2ff,#00cdff,#00d8ff,#00e3f9,#07eef0,#10f9e7,#18ffde,#21ffd6,#2affcd,#33ffc4,#3cffbb,#44ffb2,#4dffaa,#56ffa1,#5fff98,#67ff8f,#70ff87,#79ff7e,#81ff75,#8aff6d,#93ff64)"></i><i style="height:1px;background:linear-gradient(90deg,#004aff,#0030ff,#001eff,#0012ff,#000bff,#0006ff,#0005ff,#0006ff,#0008ff,#000cff,#0010ff,#0016ff,#001dff,#0024ff,#002cff,#0034ff,#003cff,#0045ff,#004eff,#0058ff,#0062ff,#006bff,#0075ff,#007fff,#008aff,#0094ff,#009eff,#00a9ff,#00b3ff,#00beff,#00c9ff,#00d3ff,#00defd,#02e8f4,#0bf3ec,#14fee3,#1cffdb,#25ffd2,#2dffc9,#36ffc1,#3fffb8,#47ffb0,#50ffa7,#58ff9f,#61ff96,#69ff8e,#72ff85,#7aff7d,#82ff74,#8bff6c)"></i><i style="height:1px;background:linear-gradient(90deg,#0047ff,#002eff,#001dff,#0011ff,#000aff,#0006ff,#0005ff,#0006ff,#0008ff,#000cff,#0010ff,#0016ff,#001cff,#0023ff,#002bff,#0033ff,#003bff,#0044ff,#004dff,#0056ff,#0060ff,#0069ff,#0073ff,#007dff,#0087ff,#0091ff,#009bff,#00a5ff,#00afff,#00b9ff,#00c4ff,#00ceff,#00d8ff,#00e3f9,#06edf1,#0ff8e8,#17ffe0,#1fffd7,#28ffcf,#30ffc7,#38ffbe,#41ffb6,#49ffae,#51ffa5,#5aff9d,#62ff95,#6aff8d,#72ff84,#7bff7c,#83ff74)"></i><i style="height:1px;background:linear-gradient(90deg,#0044ff,#002cff,#001cff,#0011ff,#000aff,#0006ff,#0005ff,#0006ff,#0008ff,#000cff,#0010ff,#0016ff,#001cff,#0023ff,#002aff,#0032ff,#003aff,#0043ff,#004bff,#0054ff,#005eff,#0067ff,#0070ff,#007aff,#0084ff,#008dff,#0097ff,#00a1ff,#00abff,#00b5ff,#00bfff,#00c9ff,#00d3ff,#00ddfd,#01e7f5,#0af1ed,#12fbe5,#1affdd,#22ffd5,#2affcd,#32ffc5,#3affbc,#42ffb4,#4affac,#52ffa4,#5bff9c,#63ff94,#6bff8c,#73ff84,#7aff7c)"></i><i style="height:1px;background:linear-gradient(90deg,#0041ff,#002aff,#001aff,#0010ff,#000aff,#0006ff,#0005ff,#0006ff,#0008ff,#000cff,#0010ff,#0016ff,#001cff,#0023ff,#002aff,#0031ff,#0039ff,#0041ff,#004aff,#0053ff,#005bff,#0064ff,#006eff,#0077ff,#0080ff,#008aff,#0093ff,#009dff,#00a7ff,#00b0ff,#00baff,#00c4ff,#00cdff,#00d7ff,#00e1fa,#04ebf2,#0cf5eb,#14fee3,#1cffdb,#24ffd3,#2cffcb,#34ffc3,#3bffbb,#43ffb4,#4bffac,#53ffa4,#5bff9c,#62ff94,#6aff8d,#72ff85)"></i><i style="height:1px;background:linear-gradient(90deg,#003eff,#0028ff,#0019ff,#000fff,#0009ff,#0006ff,#0005ff,#0006ff,#0008ff,#000cff,#0010ff,#0016ff,#001cff,#0022ff,#0029ff,#0030ff,#0038ff,#0040ff,#0048ff,#0051ff,#0059ff,#0062ff,#006bff,#0074ff,#007dff,#0086ff,#008fff,#0099ff,#00a2ff,#00abff,#00b5ff,#00beff,#00c8ff,#00d1ff,#00dbff,#00e4f8,#07eef0,#0ef7e9,#16ffe1,#1effd9,#25ffd2,#2dffca,#34ffc2,#3cffbb,#44ffb3,#4bffac,#53ffa4,#5aff9d,#62ff95,#69ff8e)"></i><i style="height:1px;background:linear-gradient(90deg,#003bff,#0026ff,#0018ff,#000eff,#0009ff,#0006ff,#0005ff,#0006ff,#0008ff,#000cff,#0010ff,#0015ff,#001bff,#0021ff,#0028ff,#002fff,#0037ff,#003fff,#0047ff,#004fff,#0057ff,#005fff,#0068ff,#0071ff,#007aff,#0082ff,#008bff,#0094ff,#009dff,#00a6ff,#00b0ff,#00b9ff,#00c2ff,#00cbff,#00d4ff,#00ddfd,#01e6f6,#08f0ef,#0ff9e7,#17ffe0,#1effd9,#26ffd1,#2dffca,#34ffc3,#3cffbb,#43ffb4,#4affad,#51ffa5,#59ff9e,#60ff97)"></i><i style="height:1px;background:linear-gradient(90deg,#0038ff,#0024ff,#0016ff,#000eff,#0008ff,#0006ff,#0005ff,#0006ff,#0008ff,#000cff,#0010ff,#0015ff,#001bff,#0021ff,#0027ff,#002eff,#0036ff,#003dff,#0045ff,#004dff,#0055ff,#005dff,#0065ff,#006dff,#0076ff,#007fff,#0087ff,#0090ff,#0099ff,#00a1ff,#00aaff,#00b3ff,#00bcff,#00c4ff,#00cdff,#00d6ff,#00dffc,#02e8f5,#09f1ee,#10f9e7,#17ffe0,#1effd8,#25ffd1,#2cffca,#33ffc3,#3bffbc,#42ffb5,#49ffae,#50ffa7,#57ffa0)"></i><i style="height:1px;background:linear-gradient(90deg,#0035ff,#0022ff,#0015ff,#000dff,#0008ff,#0005ff,#0005ff,#0006ff,#0008ff,#000cff,#0010ff,#0015ff,#001aff,#0020ff,#0026ff,#002dff,#0034ff,#003bff,#0043ff,#004aff,#0052ff,#005aff,#0062ff,#006aff,#0072ff,#007aff,#0083ff,#008bff,#0093ff,#009cff,#00a4ff,#00adff,#00b5ff,#00beff,#00c6ff,#00cfff,#00d7ff,#00e0fb,#02e8f5,#09f1ee,#10f9e7,#17ffe0,#1dffd9,#24ffd3,#2bffcc,#32ffc5,#39ffbe,#3fffb7,#46ffb1,#4dffaa)"></i><i style="height:1px;background:linear-gradient(90deg,#0031ff,#0020ff,#0014ff,#000cff,#0007ff,#0005ff,#0005ff,#0006ff,#0008ff,#000cff,#0010ff,#0014ff,#001aff,#001fff,#0025ff,#002cff,#0033ff,#003aff,#0041ff,#0048ff,#004fff,#0057ff,#005fff,#0066ff,#006eff,#0076ff,#007eff,#0086ff,#008eff,#0096ff,#009eff,#00a6ff,#00afff,#00b7ff,#00bfff,#00c7ff,#00cfff,#00d7ff,#00dffc,#02e8f5,#08f0ef,#0ff8e8,#15ffe2,#1cffdb,#22ffd4,#29ffce,#2fffc7,#36ffc1,#3cffbb,#43ffb4)"></i><i style="height:1px;background:linear-gradient(90deg,#002eff,#001dff,#0012ff,#000bff,#0007ff,#0005ff,#0005ff,#0006ff,#0008ff,#000bff,#000fff,#0014ff,#0019ff,#001fff,#0024ff,#002bff,#0031ff,#0038ff,#003eff,#0045ff,#004dff,#0054ff,#005bff,#0063ff,#006aff,#0072ff,#0079ff,#0081ff,#0089ff,#0090ff,#0098ff,#00a0ff,#00a8ff,#00afff,#00b7ff,#00bfff,#00c7ff,#00ceff,#00d6ff,#00defd,#00e6f7,#06eef0,#0df5ea,#13fde4,#19ffde,#1fffd7,#26ffd1,#2cffcb,#32ffc5,#38ffbf)"></i><i style="height:1px;background:linear-gradient(90deg,#002bff,#001bff,#0011ff,#000aff,#0006ff,#0005ff,#0004ff,#0006ff,#0008ff,#000bff,#000fff,#0013ff,#0018ff,#001eff,#0023ff,#0029ff,#002fff,#0035ff,#003cff,#0043ff,#0049ff,#0050ff,#0057ff,#005eff,#0066ff,#006dff,#0074ff,#007bff,#0083ff,#008aff,#0091ff,#0099ff,#00a0ff,#00a7ff,#00afff,#00b6ff,#00beff,#00c5ff,#00cdff,#00d4ff,#00dbff,#00e3f9,#04eaf3,#0af1ed,#10f9e7,#16ffe1,#1bffdb,#21ffd5,#27ffd0,#2dffca)"></i><i style="height:1px;background:linear-gradient(90deg,#0027ff,#0019ff,#000fff,#0009ff,#0006ff,#0004ff,#0004ff,#0006ff,#0008ff,#000bff,#000eff,#0013ff,#0017ff,#001cff,#0022ff,#0027ff,#002dff,#0033ff,#0039ff,#0040ff,#0046ff,#004dff,#0053ff,#005aff,#0061ff,#0068ff,#006fff,#0075ff,#007cff,#0083ff,#008aff,#0091ff,#0098ff,#009fff,#00a6ff,#00adff,#00b5ff,#00bcff,#00c3ff,#00caff,#00d1ff,#00d8ff,#00dffc,#00e6f7,#06edf1,#0bf3eb,#11fae6,#16ffe0,#1cffdb,#22ffd5)"></i><i style="height:1px;background:linear-gradient(90deg,#0024ff,#0016ff,#000eff,#0008ff,#0005ff,#0004ff,#0004ff,#0005ff,#0007ff,#000aff,#000eff,#0012ff,#0016ff,#001bff,#0020ff,#0025ff,#002bff,#0031ff,#0036ff,#003cff,#0043ff,#0049ff,#004fff,#0055ff,#005cff,#0062ff,#0069ff,#006fff,#0076ff,#007cff,#0083ff,#0089ff,#0090ff,#0097ff,#009dff,#00a4ff,#00aaff,#00b1ff,#00b8ff,#00beff,#00c5ff,#00cbff,#00d2ff,#00d9ff,#00dffc,#00e6f7,#05ecf1,#0bf3ec,#10f9e7,#15ffe2)"></i><i style="height:1px;background:linear-gradient(90deg,#0020ff,#0014ff,#000cff,#0007ff,#0004ff,#0003ff,#0003ff,#0005ff,#0007ff,#000aff,#000dff,#0011ff,#0015ff,#001aff,#001eff,#0023ff,#0029ff,#002eff,#0033ff,#0039ff,#003fff,#0045ff,#004aff,#0050ff,#0056ff,#005cff,#0062ff,#0069ff,#006fff,#0075ff,#007bff,#0081ff,#0087ff,#008dff,#0094ff,#009aff,#00a0ff,#00a6ff,#00acff,#00b3ff,#00b9ff,#00bfff,#00c5ff,#00cbff,#00d1ff,#00d8ff,#00defd,#00e4f8,#04eaf3,#08f0ee)"></i><i style="height:1px;background:linear-gradient(90deg,#001cff,#0011ff,#000aff,#0006ff,#0003ff,#0002ff,#0003ff,#0004ff,#0006ff,#0009ff,#000cff,#0010ff,#0013ff,#0018ff,#001cff,#0021ff,#0026ff,#002bff,#0030ff,#0035ff,#003aff,#0040ff,#0045ff,#004aff,#0050ff,#0056ff,#005bff,#0061ff,#0066ff,#006cff,#0072ff,#0078ff,#007dff,#0083ff,#0089ff,#008eff,#0094ff,#009aff,#00a0ff,#00a5ff,#00abff,#00b1ff,#00b7ff,#00bcff,#00c2ff,#00c8ff,#00cdff,#00d3ff,#00d9ff,#00defd)"></i><i style="height:1px;background:linear-gradient(90deg,#0018ff,#000fff,#0008ff,#0004ff,#0002ff,#0002ff,#0002ff,#0003ff,#0005ff,#0008ff,#000bff,#000eff,#0012ff,#0016ff,#001aff,#001eff,#0022ff,#0027ff,#002cff,#0030ff,#0035ff,#003aff,#003fff,#0044ff,#0049ff,#004eff,#0054ff,#0059ff,#005eff,#0063ff,#0068ff,#006eff,#0073ff,#0078ff,#007dff,#0083ff,#0088ff,#008dff,#0092ff,#0098ff,#009dff,#00a2ff,#00a7ff,#00adff,#00b2ff,#00b7ff,#00bcff,#00c1ff,#00c7ff,#00ccff)"></i><i style="height:1px;background:linear-gradient(90deg,#0014ff,#000cff,#0006ff,#0003ff,#0001ff,#0000ff,#0001ff,#0002ff,#0004ff,#0006ff,#0009ff,#000cff,#000fff,#0013ff,#0016ff,#001aff,#001eff,#0022ff,#0027ff,#002bff,#002fff,#0034ff,#0038ff,#003dff,#0041ff,#0046ff,#004aff,#004fff,#0054ff,#0058ff,#005dff,#0062ff,#0067ff,#006bff,#0070ff,#0075ff,#0079ff,#007eff,#0083ff,#0088ff,#008cff,#0091ff,#0096ff,#009aff,#009fff,#00a4ff,#00a8ff,#00adff,#00b2ff,#00b6ff)"></i><i style="height:1px;background:linear-gradient(90deg,#0000ff,#0000ff,#0000fb,#0000f8,#0000f7,#0000f6,#0000f7,#0000f8,#0000f9,#0000fb,#0000fe,#0000ff,#0000ff,#0000ff,#0000ff,#0000ff,#0000ff,#0003ff,#0006ff,#0009ff,#000dff,#0010ff,#0013ff,#0017ff,#001aff,#001eff,#0021ff,#0025ff,#0028ff,#002cff,#0030ff,#0033ff,#0037ff,#003aff,#003eff,#0041ff,#0045ff,#0049ff,#004cff,#0050ff,#0053ff,#0057ff,#005aff,#005eff,#0062ff,#0065ff,#0069ff,#006cff,#0070ff,#0073ff)"></i><i style="height:1px;background:linear-gradient(90deg,#0000ad,#0000aa,#0000a9,#0000a8,#0000a7,#0000a7,#0000a7,#0000a8,#0000a8,#0000a9,#0000aa,#0000aa,#0000ab,#0000ac,#0000ad,#0000af,#0000b0,#0000b1,#0000b2,#0000b3,#0000b5,#0000b6,#0000b7,#0000b8,#0000ba,#0000bb,#0000bc,#0000be,#0000bf,#0000c0,#0000c2,#0000c3,#0000c5,#0000c6,#0000c7,#0000c9,#0000ca,#0000cb,#0000cd,#0000ce,#0000cf,#0000d1,#0000d2,#0000d3,#0000d5,#0000d6,#0000d7,#0000d9,#0000da,#0000db)"></i></div>
<div class="cb" style="left:1208.00px;top:28.75px;width:18.50px;height:365.55px;background:linear-gradient(180deg,#800000 0.00% 1.01%,#8b0000 1.01% 2.02%,#970000 2.02% 3.03%,#a30000 3.03% 4.04%,#af0000 4.04% 5.05%,#bb0000 5.05% 6.06%,#c60000 6.06% 7.07%,#d20000 7.07% 8.08%,#de0000 8.08% 9.09%,#ea0200 9.09% 10.10%,#f60b00 10.10% 11.11%,#ff1500 11.11% 12.12%,#ff1f00 12.12% 13.13%,#ff2800 13.13% 14.14%,#ff3200 14.14% 15.15%,#ff3c00 15.15% 16.16%,#ff4500 16.16% 17.17%,#ff4f00 17.17% 18.18%,#ff5800 18.18% 19.19%,#ff6200 19.19% 20.20%,#ff6c00 20.20% 21.21%,#ff7500 21.21% 22.22%,#ff7f00 22.22% 23.23%,#ff8900 23.23% 24.24%,#ff9200 24.24% 25.25%,#ff9c00 25.25% 26.26%,#ffa600 26.26% 27.27%,#ffaf00 27.27% 28.28%,#ffb900 28.28% 29.29%,#ffc200 29.29% 30.30%,#ffcc00 30.30% 31.31%,#ffd600 31.31% 32.32%,#ffdf00 32.32% 33.33%,#ffe900 33.33% 34.34%,#f9f300 34.34% 35.35%,#f1fc06 35.35% 36.36%,#e9ff0e 36.36% 37.37%,#e0ff17 37.37% 38.38%,#d8ff1f 38.38% 39.39%,#cfff27 39.39% 40.40%,#c7ff30 40.40% 41.41%,#bfff38 41.41% 42.42%,#b6ff41 42.42% 43.43%,#aeff49 43.43% 44.44%,#a5ff51 44.44% 45.45%,#9dff5a 45.45% 46.46%,#95ff62 46.46% 47.47%,#8cff6b 47.47% 48.48%,#84ff73 48.48% 49.49%,#7bff7b 49.49% 50.51%,#73ff84 50.51% 51.52%,#6bff8c 51.52% 52.53%,#62ff95 52.53% 53.54%,#5aff9d 53.54% 54.55%,#51ffa5 54.55% 55.56%,#49ffae 55.56% 56.57%,#41ffb6 56.57% 57.58%,#38ffbf 57.58% 58.59%,#30ffc7 58.59% 59.60%,#27ffcf 59.60% 60.61%,#1fffd8 60.61% 61.62%,#17ffe0 61.62% 62.63%,#0ef7e9 62.63% 63.64%,#06edf1 63.64% 64.65%,#00e2f9 64.65% 65.66%,#00d8ff 65.66% 66.67%,#00ceff 66.67% 67.68%,#00c3ff 67.68% 68.69%,#00b9ff 68.69% 69.70%,#00aeff 69.70% 70.71%,#00a4ff 70.71% 71.72%,#009aff 71.72% 72.73%,#008fff 72.73% 73.74%,#0085ff 73.74% 74.75%,#007aff 74.75% 75.76%,#0070ff 75.76% 76.77%,#0065ff 76.77% 77.78%,#005bff 77.78% 78.79%,#0051ff 78.79% 79.80%,#0046ff 79.80% 80.81%,#003cff 80.81% 81.82%,#0031ff 81.82% 82.83%,#0027ff 82.83% 83.84%,#001dff 83.84% 84.85%,#0012ff 84.85% 85.86%,#0008ff 85.86% 86.87%,#0000ff 86.87% 87.88%,#0000ff 87.88% 88.89%,#0000f6 88.89% 89.90%,#0000ea 89.90% 90.91%,#0000de 90.91% 91.92%,#0000d2 91.92% 92.93%,#0000c6 92.93% 93.94%,#0000bb 93.94% 94.95%,#0000af 94.95% 95.96%,#0000a3 95.96% 96.97%,#000097 96.97% 97.98%,#00008b 97.98% 98.99%,#000080 98.99% 100.00%)"></div>
<svg class="ov" width="1346" height="475" viewBox="0 0 1346 475"><polyline points="832.7,393.6 834.4,392.5 834.4,390.6 836.0,388.8 836.0,387.0 837.6,385.2 837.6,383.3 839.3,381.5 839.3,379.7 840.9,377.8 840.9,376.0 842.5,374.2 842.5,372.4 842.5,370.5 844.2,368.7 844.2,366.9 844.2,365.0 844.2,363.2 844.2,361.4 845.8,359.6 845.8,357.7 845.8,355.9 845.8,354.1 847.4,352.2 847.4,350.4 847.4,348.6 847.4,346.8 847.4,344.9 847.4,343.1 847.4,341.3 847.4,339.4 847.4,337.6 849.1,335.8 849.1,334.0 849.1,332.1 849.1,330.3 849.1,328.5 849.1,326.6 849.1,324.8 849.1,323.0 849.1,321.2 849.1,317.5 849.1,313.8 850.7,310.2 850.7,306.5 850.7,302.9 850.7,299.2 850.7,295.6 850.7,291.9 850.7,288.2 852.3,284.6 852.3,280.9 852.3,277.3 852.3,273.6 852.3,270.0 852.3,266.3 852.3,262.6 852.3,259.0 852.3,255.3 852.3,251.7 852.3,248.0 854.0,244.4 854.0,240.7 854.0,237.0 854.0,233.4 854.0,229.7 854.0,226.1 854.0,222.4 854.0,218.8 854.0,215.1 854.0,211.5 854.0,207.8 854.0,204.1 854.0,200.5 854.0,196.8 854.0,193.2 854.0,189.5 854.0,185.9 855.6,182.2 855.6,178.5 855.6,174.9 855.6,171.2 855.6,167.6 855.6,163.9 855.6,160.3 855.6,156.6 855.6,152.9 855.6,149.3 855.6,145.6 855.6,142.0 855.6,138.3 855.6,134.7 855.6,131.0 855.6,127.3 855.6,123.7 855.6,120.0 855.6,116.4 855.6,112.7 855.6,109.1 855.6,105.4 855.6,101.7 855.6,98.1 855.6,94.4 855.6,90.8 855.6,87.1 855.6,83.5 855.6,79.8 855.6,76.1 855.6,72.5 857.2,68.8 857.2,65.2 857.2,61.5 857.2,57.9 857.2,54.2 857.2,50.5 857.2,46.9 857.2,43.2 857.2,39.6 857.2,35.9 857.2,32.3 857.2,29.3" fill="none" stroke="#fff" stroke-width="3.6" stroke-linejoin="round"/><path d="M791.02 28.60H1184.78M791.02 394.30H1184.78M1207.12 28.75H1227.38M1207.12 394.30H1227.38M785.90 394.30H791.90M785.90 321.16H791.90M785.90 248.02H791.90M785.90 174.88H791.90M785.90 101.74H791.90M785.90 28.60H791.90M1226.50 394.30H1233.10M1226.50 357.58H1233.10M1226.50 320.86H1233.10M1226.50 284.14H1233.10M1226.50 247.42H1233.10M1226.50 210.70H1233.10M1226.50 173.98H1233.10M1226.50 137.26H1233.10M1226.50 100.54H1233.10M1226.50 63.82H1233.10" stroke="#000" stroke-width="1.40" fill="none"/><path d="M791.90 28.60V394.30M1183.90 28.60V394.30M1208.00 28.75V394.30M1226.50 28.75V394.30M791.90 394.30V400.60M922.57 394.30V400.60M1053.23 394.30V400.60M1183.90 394.30V400.60" stroke="#000" stroke-width="1.75" fill="none"/></svg>
<div class="t yl" style="left:716.00px;top:394.30px">0</div>
<div class="t yl" style="left:716.00px;top:321.16px">20</div>
<div class="t yl" style="left:716.00px;top:248.02px">40</div>
<div class="t yl" style="left:716.00px;top:174.88px">60</div>
<div class="t yl" style="left:716.00px;top:101.74px">80</div>
<div class="t yl" style="left:716.00px;top:28.60px">100</div>
<div class="t xl" style="left:791.90px">0</div>
<div class="t xl" style="left:922.57px">1</div>
<div class="t xl" style="left:1053.23px">2</div>
<div class="t xl" style="left:1183.90px">3</div>
<div class="t cl" style="left:1238.50px;top:394.30px">0.00</div>
<div class="t cl" style="left:1238.50px;top:357.58px">0.03</div>
<div class="t cl" style="left:1238.50px;top:320.86px">0.06</div>
<div class="t cl" style="left:1238.50px;top:284.14px">0.08</div>
<div class="t cl" style="left:1238.50px;top:247.42px">0.11</div>
<div class="t cl" style="left:1238.50px;top:210.70px">0.14</div>
<div class="t cl" style="left:1238.50px;top:173.98px">0.17</div>
<div class="t cl" style="left:1238.50px;top:137.26px">0.20</div>
<div class="t cl" style="left:1238.50px;top:100.54px">0.22</div>
<div class="t cl" style="left:1238.50px;top:63.82px">0.25</div>
<span class="g"><span class="p it" id="pl_b_b" style="font-size:42px;transform:translate(694.33px,-4.80px) scale(0.8527,1.0000)">b</span></span>
<span class="g"><span class="p" id="mod_b" style="font-size:33.5px;transform:translate(832.64px,436.48px) scale(1.0113,1.0564)">Modulation</span> <span class="p it" id="V_b" style="font-size:33.5px;transform:translate(1001.83px,436.01px) scale(1.1181,1.0511)">V</span><span class="p" id="sig_b" style="font-size:24px;transform:translate(1021.27px,449.00px) scale(1.0161,1.0324)">sig</span> <span class="p" id="lb_b" style="font-size:33.5px;transform:translate(1062.55px,434.32px) scale(0.6799,1.2453)">[</span><span class="p" id="snu_b" style="font-size:33.5px;transform:translate(1068.44px,434.29px) scale(0.9767,1.1539)">SNU</span><span class="p" id="rb_b" style="font-size:33.5px;transform:translate(1134.25px,434.32px) scale(0.6611,1.2453)">]</span></span>
<span class="g"><span class="p" id="trans_b" style="font-size:33px;transform:translate(693.58px,355.90px) rotate(-90deg) scale(1.0185,1.0939)">Transmissivity</span> <span class="p it" id="T_b" style="font-size:33px;transform:translate(693.49px,148.19px) rotate(-90deg) scale(1.3373,1.1373)">T</span> <span class="p" id="ylb_b" style="font-size:33px;transform:translate(691.67px,108.34px) rotate(-90deg) scale(0.7175,1.2774)">[</span><span class="p" id="pct_b" style="font-size:33px;transform:translate(689.88px,102.02px) rotate(-90deg) scale(0.9885,1.2682)">%</span><span class="p" id="yrb_b" style="font-size:33px;transform:translate(691.67px,76.77px) rotate(-90deg) scale(0.7174,1.2774)">]</span></span>
<span class="g"><span class="p it" id="chi_b" style="font-size:33px;transform:translate(1310.44px,304.39px) rotate(-90deg) scale(1.0986,1.0493)">χ</span><span class="p" id="EB_b" style="font-size:24px;transform:translate(1322.37px,285.92px) rotate(-90deg) scale(1.0026,1.1131)">EB</span> <span class="p" id="clb_b" style="font-size:33px;transform:translate(1307.87px,241.54px) rotate(-90deg) scale(0.8016,1.2526)">[</span><span class="p" id="bits_b" style="font-size:33px;transform:translate(1311.14px,232.37px) rotate(-90deg) scale(1.0132,1.0491)">bits</span><span class="p" id="sl_b" style="font-size:33px;transform:translate(1304.79px,182.27px) rotate(-90deg) scale(1.4426,1.5547)">/</span><span class="p" id="use_b" style="font-size:33px;transform:translate(1313.08px,166.25px) rotate(-90deg) scale(0.8970,0.9779)">use</span><span class="p" id="crb_b" style="font-size:33px;transform:translate(1307.87px,125.64px) rotate(-90deg) scale(0.8002,1.2526)">]</span></span>
</div>
</body></html>
